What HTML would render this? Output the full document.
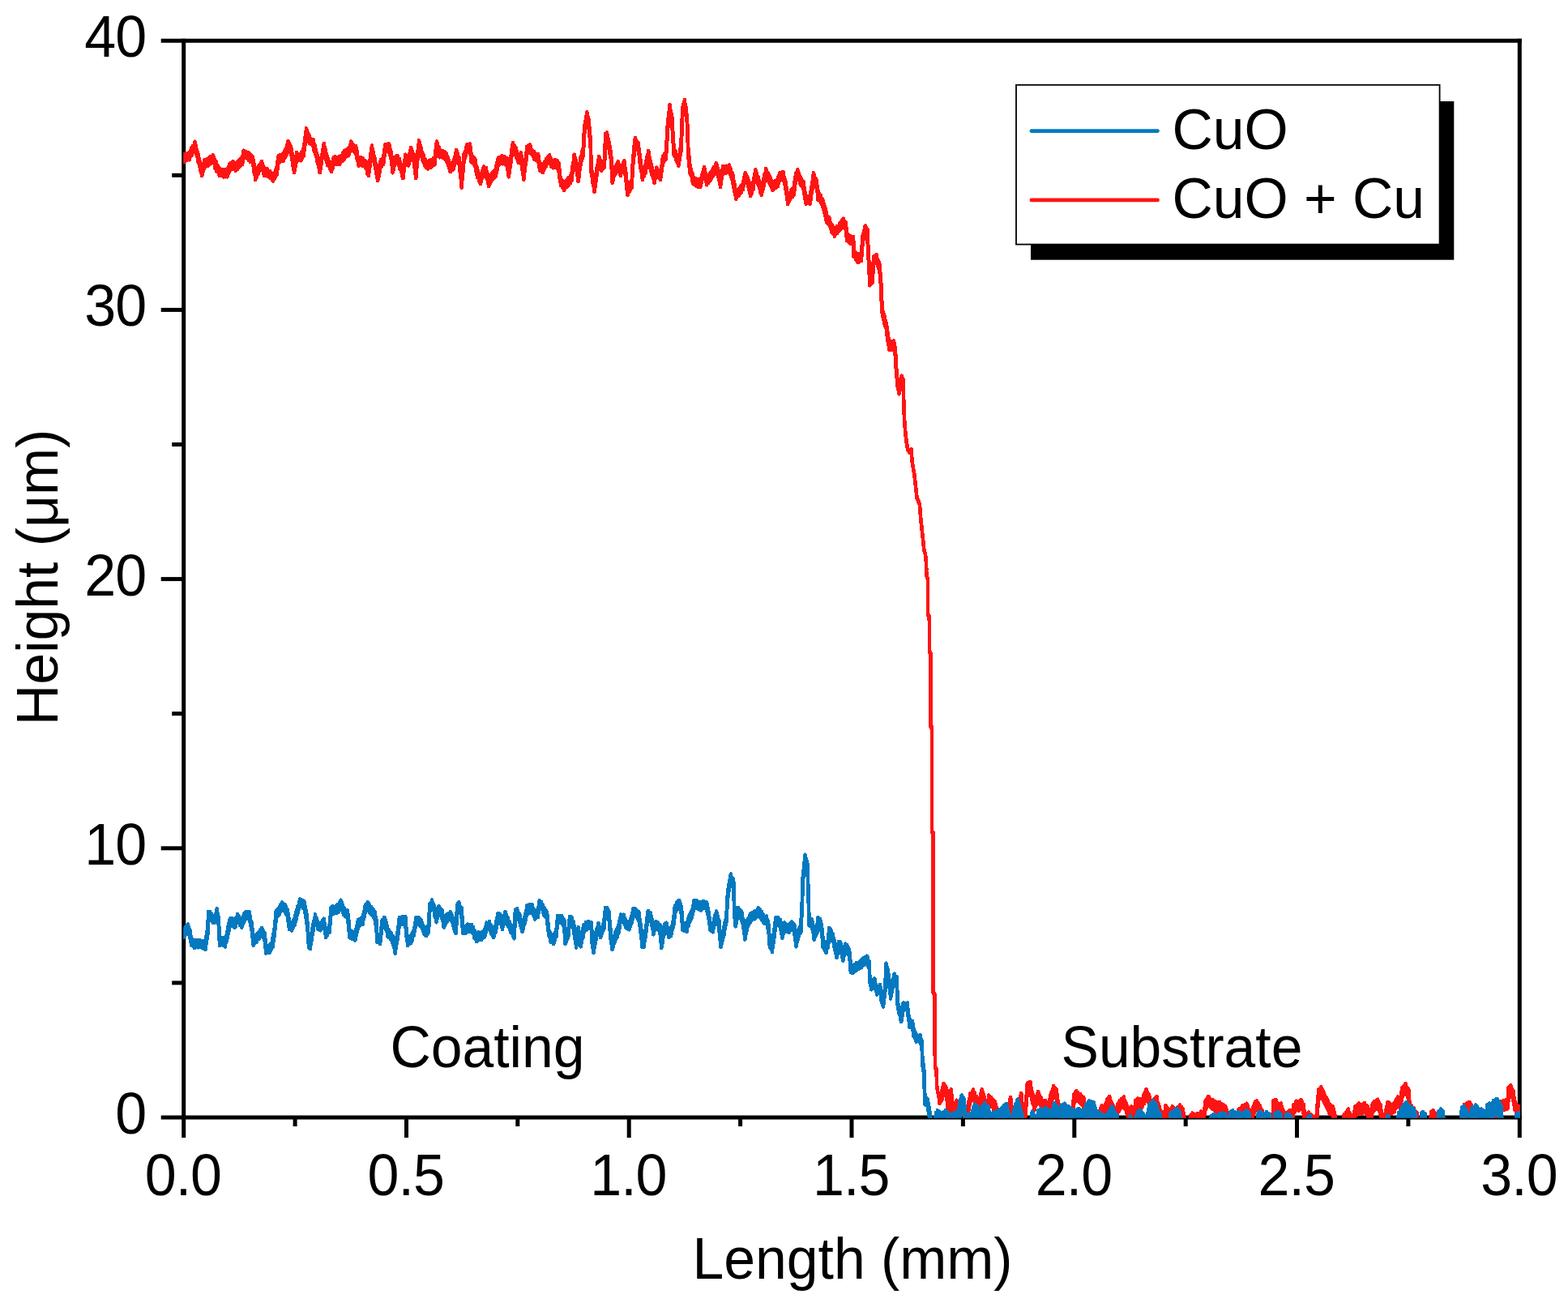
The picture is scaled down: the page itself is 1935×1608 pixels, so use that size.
<!DOCTYPE html>
<html lang="en"><head><meta charset="utf-8"><title>Height (μm) – Length (mm)</title>
<style>html,body{margin:0;padding:0;background:#fff;}body{width:1935px;height:1608px;overflow:hidden;}svg{display:block;}text{font-family:"Liberation Sans", sans-serif;font-size:70px;fill:#000;}</style>
</head><body>
<svg width="1935" height="1608" viewBox="0 0 1935 1608">
<rect x="0" y="0" width="1935" height="1608" fill="#fff"/>
<defs><clipPath id="plot"><rect x="226.2" y="50.2" width="1649.8" height="1329.5"/></clipPath></defs>
<g stroke="#000" stroke-width="5.0" fill="none" stroke-linecap="butt">
<path d="M198.7,1379.0 H1877.8"/>
<path d="M198.7,50.2 H1877.8"/>
<path d="M226.7,47.7 V1404.0"/>
<path d="M1875.3,47.7 V1404.0"/>
<path d="M212.2,1212.9 H226.7"/>
<path d="M198.7,1046.8 H226.7"/>
<path d="M212.2,880.7 H226.7"/>
<path d="M198.7,714.6 H226.7"/>
<path d="M212.2,548.5 H226.7"/>
<path d="M198.7,382.4 H226.7"/>
<path d="M212.2,216.3 H226.7"/>
<path d="M364.1,1379.0 V1390.0"/>
<path d="M501.5,1379.0 V1404.0"/>
<path d="M638.8,1379.0 V1390.0"/>
<path d="M776.2,1379.0 V1404.0"/>
<path d="M913.6,1379.0 V1390.0"/>
<path d="M1051.0,1379.0 V1404.0"/>
<path d="M1188.4,1379.0 V1390.0"/>
<path d="M1325.8,1379.0 V1404.0"/>
<path d="M1463.2,1379.0 V1390.0"/>
<path d="M1600.5,1379.0 V1404.0"/>
<path d="M1737.9,1379.0 V1390.0"/>
</g>
<g clip-path="url(#plot)" fill="none" stroke-linejoin="round" stroke-linecap="butt" shape-rendering="crispEdges">
<path d="M226.2,188.6 L226.2,198.0 L226.8,197.9 L226.9,189.9 L227.5,190.6 L227.5,199.7 L228.4,199.3 L228.4,190.1 L229.2,190.2 L229.3,196.6 L230.1,197.4 L230.1,190.3 L231.0,191.1 L231.0,197.4 L231.9,196.3 L231.9,188.8 L232.8,188.5 L232.8,195.6 L233.7,197.2 L233.7,188.1 L234.5,188.3 L234.6,194.0 L235.4,193.1 L235.4,186.4 L236.2,183.0 L236.3,192.0 L237.1,189.2 L237.1,182.0 L238.0,180.1 L238.0,188.2 L238.8,185.6 L238.8,179.9 L239.7,178.5 L239.7,184.0 L240.5,183.6 L240.5,174.5 L241.0,178.7 L241.0,183.5 L241.5,185.7 L241.5,178.5 L241.9,180.3 L241.9,187.5 L242.4,190.8 L242.4,183.9 L242.9,184.7 L242.9,192.5 L243.3,193.3 L243.3,186.4 L243.8,189.3 L243.8,197.2 L244.3,199.2 L244.3,189.8 L244.8,192.5 L244.8,201.5 L245.4,200.9 L245.4,194.3 L245.9,196.6 L245.9,204.3 L246.5,206.0 L246.5,198.9 L247.0,200.6 L247.0,207.7 L247.6,210.9 L247.6,204.2 L248.1,205.0 L248.1,213.1 L248.7,213.9 L248.7,206.0 L249.2,208.0 L249.2,217.1 L249.7,214.0 L249.8,206.7 L250.3,205.7 L250.3,211.3 L250.8,211.4 L250.8,203.7 L251.3,201.4 L251.3,209.0 L251.8,208.4 L251.8,200.7 L252.3,197.3 L252.4,206.7 L253.2,206.0 L253.2,197.4 L254.1,196.8 L254.1,205.2 L255.0,205.0 L255.0,196.7 L255.8,197.8 L255.8,204.9 L256.7,204.7 L256.7,195.6 L257.5,197.0 L257.5,203.3 L258.2,203.2 L258.3,195.3 L259.0,193.9 L259.0,202.4 L259.8,202.1 L259.8,193.0 L260.6,194.3 L260.6,201.2 L261.4,200.9 L261.4,193.9 L262.1,192.4 L262.2,200.2 L262.9,200.4 L262.9,191.3 L263.6,193.1 L263.7,200.0 L264.4,201.9 L264.4,195.6 L265.1,198.3 L265.1,204.2 L265.8,208.4 L265.8,199.0 L266.5,199.4 L266.6,208.0 L267.3,211.7 L267.3,202.3 L268.2,205.8 L268.2,211.0 L269.1,212.8 L269.1,205.1 L270.1,207.8 L270.1,214.8 L271.0,217.1 L271.0,208.0 L272.0,209.4 L272.0,216.9 L273.0,215.9 L273.0,209.3 L274.0,209.7 L274.0,216.1 L275.0,217.4 L275.0,211.2 L276.0,209.3 L276.0,218.4 L276.8,218.4 L276.9,211.2 L277.7,210.2 L277.7,217.7 L278.6,218.3 L278.6,209.2 L279.5,209.3 L279.5,216.0 L280.3,218.3 L280.3,209.2 L280.8,208.8 L280.9,216.7 L281.4,214.8 L281.4,208.0 L281.9,206.0 L281.9,214.5 L282.4,213.3 L282.4,204.9 L282.9,204.2 L282.9,210.5 L283.4,210.9 L283.5,201.8 L284.3,202.5 L284.3,209.7 L285.2,209.3 L285.2,202.2 L286.0,200.6 L286.1,209.1 L286.9,206.9 L286.9,200.4 L287.8,199.3 L287.8,208.4 L288.6,207.3 L288.6,201.9 L289.3,200.7 L289.4,207.9 L290.1,209.0 L290.1,202.9 L290.9,201.8 L290.9,210.9 L291.8,208.9 L291.8,200.7 L292.8,199.9 L292.8,209.0 L293.7,208.1 L293.7,199.2 L294.6,198.0 L294.6,207.1 L295.5,205.0 L295.5,199.0 L296.4,196.1 L296.4,203.7 L297.2,204.5 L297.3,196.8 L298.1,194.5 L298.1,203.3 L299.0,203.0 L299.0,193.6 L299.4,192.3 L299.4,201.1 L299.7,199.1 L299.7,192.0 L300.1,189.3 L300.1,197.4 L300.5,195.8 L300.5,189.5 L300.8,185.7 L300.9,194.8 L301.7,193.6 L301.8,187.5 L302.6,187.3 L302.6,194.4 L303.5,194.6 L303.5,187.0 L304.4,188.0 L304.4,195.1 L305.3,196.0 L305.3,188.0 L306.2,189.5 L306.2,195.3 L307.1,198.0 L307.1,188.6 L308.1,190.2 L308.1,197.1 L309.1,200.0 L309.1,190.8 L310.0,191.7 L310.1,200.4 L311.0,199.6 L311.1,192.7 L312.0,193.6 L312.1,203.0 L312.4,203.2 L312.4,196.5 L312.7,198.7 L312.8,205.7 L313.1,207.1 L313.1,201.5 L313.4,202.4 L313.4,210.0 L313.8,213.3 L313.8,206.2 L314.1,206.7 L314.1,214.3 L314.5,215.9 L314.5,208.9 L314.8,212.3 L314.8,219.9 L315.1,222.0 L315.2,212.9 L315.9,211.7 L315.9,220.0 L316.6,218.4 L316.7,209.7 L317.4,208.3 L317.4,216.2 L318.1,215.6 L318.2,207.4 L318.9,204.8 L318.9,214.2 L319.7,211.0 L319.7,203.8 L320.5,204.8 L320.5,211.3 L321.3,209.4 L321.4,201.9 L322.2,200.8 L322.2,208.0 L323.0,208.4 L323.0,199.3 L323.5,201.7 L323.6,209.8 L324.1,210.0 L324.1,203.7 L324.7,204.9 L324.7,211.6 L325.2,214.1 L325.2,206.4 L325.8,207.0 L325.8,214.2 L326.3,217.1 L326.4,208.0 L327.1,209.2 L327.1,216.3 L327.9,215.7 L327.9,208.1 L328.7,209.6 L328.7,216.6 L329.5,217.2 L329.5,208.1 L330.4,210.8 L330.4,217.9 L331.3,218.2 L331.3,211.2 L332.3,211.3 L332.3,217.8 L333.2,219.9 L333.2,211.2 L334.1,213.5 L334.1,219.5 L335.0,220.2 L335.1,213.3 L336.0,214.5 L336.0,222.4 L336.9,223.3 L336.9,214.2 L337.8,213.7 L337.8,220.9 L338.7,220.6 L338.7,213.1 L339.5,212.2 L339.5,218.7 L340.4,215.7 L340.4,209.8 L341.3,207.2 L341.3,216.6 L341.7,213.3 L341.7,206.7 L342.1,202.3 L342.1,210.0 L342.5,208.4 L342.5,200.7 L342.9,197.3 L342.9,205.8 L343.3,201.9 L343.4,195.8 L343.8,192.3 L343.8,201.7 L344.7,200.1 L344.7,193.0 L345.6,191.5 L345.6,199.9 L346.6,199.1 L346.6,193.0 L347.5,191.8 L347.5,197.9 L348.4,197.9 L348.4,190.7 L349.4,189.8 L349.4,199.2 L350.3,195.8 L350.3,188.7 L351.2,186.1 L351.2,195.4 L352.2,192.2 L352.2,185.1 L353.1,182.4 L353.1,191.8 L353.6,189.6 L353.6,181.9 L354.1,179.6 L354.1,188.1 L354.6,185.9 L354.6,177.8 L355.1,175.8 L355.1,184.7 L355.6,182.9 L355.6,173.8 L356.3,175.7 L356.3,184.0 L357.1,186.0 L357.1,177.4 L357.8,179.1 L357.8,187.4 L358.6,188.6 L358.6,180.6 L359.3,182.4 L359.3,191.8 L359.7,191.6 L359.7,184.6 L360.0,187.5 L360.1,195.9 L360.4,198.2 L360.4,189.0 L360.8,192.8 L360.8,199.6 L361.2,202.2 L361.2,193.6 L361.5,196.0 L361.6,204.6 L361.9,206.9 L361.9,198.6 L362.3,199.9 L362.3,209.0 L362.7,208.9 L362.7,202.3 L363.0,204.2 L363.1,213.3 L363.4,209.4 L363.4,204.1 L363.7,202.9 L363.7,209.7 L364.1,207.4 L364.1,199.0 L364.4,199.2 L364.4,206.0 L364.8,203.4 L364.8,197.1 L365.1,194.2 L365.1,202.4 L365.5,200.7 L365.5,192.1 L365.8,191.4 L365.8,198.5 L366.1,197.3 L366.2,188.2 L367.1,189.8 L367.2,197.5 L368.1,197.6 L368.2,190.0 L369.1,190.1 L369.1,196.0 L370.1,196.7 L370.1,191.1 L371.1,189.3 L371.1,198.4 L372.1,196.1 L372.1,187.6 L373.0,186.9 L373.0,195.0 L373.9,193.4 L373.9,184.4 L374.9,182.4 L374.9,191.8 L375.1,189.5 L375.2,181.3 L375.4,178.2 L375.4,186.3 L375.7,183.4 L375.7,176.9 L376.0,173.8 L376.0,182.9 L376.3,178.4 L376.3,171.4 L376.5,169.3 L376.6,177.7 L376.8,175.0 L376.8,168.2 L377.1,165.4 L377.1,172.9 L377.4,170.7 L377.4,164.5 L377.7,161.4 L377.7,169.4 L378.0,167.4 L378.0,158.3 L378.7,160.9 L378.7,169.2 L379.5,169.9 L379.5,162.6 L380.2,164.3 L380.2,170.7 L380.9,174.7 L381.0,165.7 L381.7,167.4 L381.7,176.8 L382.7,175.9 L382.7,169.9 L383.7,171.6 L383.7,177.9 L384.7,177.6 L384.7,172.5 L385.7,172.0 L385.7,178.4 L386.7,181.8 L386.7,172.4 L387.3,176.9 L387.3,183.9 L387.9,186.7 L387.9,177.4 L388.5,179.7 L388.6,188.1 L389.2,190.7 L389.2,183.2 L389.8,184.6 L389.8,193.3 L390.4,193.4 L390.4,187.7 L391.0,188.6 L391.0,198.0 L391.5,199.7 L391.5,191.1 L392.0,193.4 L392.0,200.9 L392.4,203.0 L392.4,194.8 L392.9,196.8 L392.9,205.6 L393.4,207.0 L393.4,199.3 L393.8,201.9 L393.8,208.7 L394.3,212.1 L394.3,204.6 L394.8,204.2 L394.8,213.3 L395.1,211.4 L395.1,202.8 L395.5,200.8 L395.5,209.1 L395.8,207.5 L395.8,198.7 L396.2,197.8 L396.2,203.5 L396.5,202.0 L396.5,194.6 L396.9,194.4 L396.9,200.7 L397.2,198.5 L397.3,190.6 L397.6,189.4 L397.6,196.4 L397.9,195.2 L398.0,187.8 L398.3,184.9 L398.3,192.5 L398.7,191.4 L398.7,183.4 L399.0,181.6 L399.0,187.7 L399.4,187.4 L399.4,179.8 L399.7,177.0 L399.7,186.1 L400.2,186.9 L400.2,180.2 L400.7,181.7 L400.7,189.7 L401.2,190.8 L401.2,183.0 L401.7,186.9 L401.7,191.9 L402.1,196.0 L402.2,189.0 L402.6,189.3 L402.6,197.8 L403.1,199.6 L403.1,191.3 L403.6,192.8 L403.6,199.9 L404.1,204.2 L404.1,194.8 L405.1,196.5 L405.1,204.9 L406.1,205.6 L406.1,198.8 L407.1,199.8 L407.1,208.6 L408.1,210.5 L408.1,202.3 L409.1,203.0 L409.1,212.1 L409.7,208.2 L409.7,201.2 L410.3,200.6 L410.3,208.4 L410.9,206.4 L410.9,197.5 L411.5,195.5 L411.6,202.5 L412.2,203.0 L412.2,193.6 L413.1,193.6 L413.2,202.4 L414.1,202.8 L414.1,193.7 L415.1,195.7 L415.1,202.9 L416.1,200.6 L416.1,195.9 L417.1,195.8 L417.1,202.1 L418.0,202.5 L418.0,193.6 L419.0,193.6 L419.0,203.0 L419.9,201.1 L419.9,193.5 L420.8,192.4 L420.8,199.0 L421.7,197.9 L421.7,192.5 L422.6,191.1 L422.6,198.5 L423.4,195.3 L423.5,188.3 L424.3,187.3 L424.4,196.6 L425.2,195.5 L425.2,186.1 L426.2,187.7 L426.2,193.4 L427.2,193.1 L427.2,184.7 L428.2,185.0 L428.2,192.8 L429.2,192.0 L429.2,183.5 L430.2,182.4 L430.2,191.8 L430.8,188.2 L430.8,183.0 L431.4,181.5 L431.5,188.2 L432.1,186.4 L432.1,179.1 L432.7,178.3 L432.7,184.5 L433.3,183.6 L433.3,174.5 L434.2,177.3 L434.3,182.2 L435.2,185.4 L435.2,177.4 L436.1,178.8 L436.1,186.4 L437.0,186.8 L437.1,180.4 L438.0,181.0 L438.0,187.6 L438.9,189.3 L438.9,179.9 L439.4,182.4 L439.4,190.8 L439.8,191.9 L439.9,184.3 L440.3,185.9 L440.3,194.8 L440.8,196.9 L440.8,187.8 L441.2,189.7 L441.3,197.9 L441.7,199.0 L441.7,193.1 L442.2,194.3 L442.2,201.4 L442.6,204.6 L442.7,195.5 L443.6,196.1 L443.7,203.9 L444.6,202.9 L444.6,195.8 L445.6,194.3 L445.6,204.2 L446.6,204.1 L446.6,195.9 L447.6,195.6 L447.6,204.7 L448.5,204.2 L448.6,197.5 L449.5,199.4 L449.5,204.9 L450.4,204.8 L450.4,199.4 L451.3,198.5 L451.4,207.9 L452.1,207.7 L452.1,201.1 L452.8,203.0 L452.9,210.5 L453.6,214.8 L453.6,204.8 L454.3,207.0 L454.3,214.2 L455.1,217.1 L455.1,208.0 L455.3,206.7 L455.4,213.1 L455.6,211.7 L455.6,206.2 L455.9,202.3 L455.9,208.9 L456.1,208.4 L456.2,201.0 L456.4,199.7 L456.4,206.1 L456.7,204.6 L456.7,196.2 L456.9,195.5 L457.0,200.6 L457.2,201.3 L457.2,192.3 L457.5,190.2 L457.5,197.5 L457.7,196.5 L457.8,188.2 L458.0,186.9 L458.0,194.2 L458.3,191.6 L458.3,184.2 L458.5,181.7 L458.6,189.3 L458.8,188.5 L458.8,179.4 L459.3,182.9 L459.3,189.9 L459.7,191.8 L459.7,183.2 L460.2,186.0 L460.2,193.4 L460.6,196.1 L460.6,188.5 L461.1,189.5 L461.1,195.9 L461.5,199.8 L461.5,192.4 L462.0,193.0 L462.0,201.3 L462.4,204.2 L462.5,194.8 L462.9,197.9 L462.9,204.4 L463.3,206.6 L463.3,200.2 L463.7,202.9 L463.7,209.6 L464.1,211.7 L464.1,205.4 L464.5,206.0 L464.5,214.4 L464.9,216.1 L464.9,208.2 L465.3,211.3 L465.4,218.0 L465.8,220.7 L465.8,213.0 L466.2,214.2 L466.2,223.3 L466.6,221.0 L466.7,212.7 L467.1,210.0 L467.1,219.1 L467.6,216.9 L467.6,208.7 L468.0,207.9 L468.1,213.0 L468.5,212.6 L468.5,203.7 L469.0,201.6 L469.0,208.6 L469.4,206.5 L469.5,199.7 L469.9,197.3 L469.9,206.7 L470.7,205.5 L470.7,197.2 L471.5,197.1 L471.5,203.3 L472.2,202.3 L472.3,195.9 L473.0,193.6 L473.0,203.0 L473.3,200.6 L473.3,193.9 L473.6,191.0 L473.7,198.7 L473.9,195.5 L474.0,189.7 L474.3,186.6 L474.3,193.4 L474.6,192.6 L474.6,184.8 L474.9,182.3 L474.9,189.6 L475.2,188.7 L475.2,182.0 L475.5,178.2 L475.5,187.3 L476.4,185.1 L476.4,179.6 L477.2,180.2 L477.3,185.6 L478.1,186.0 L478.1,177.9 L479.0,177.7 L479.0,186.8 L479.9,186.8 L479.9,177.4 L480.5,180.0 L480.6,189.3 L481.2,191.0 L481.2,183.0 L481.9,184.7 L481.9,192.8 L482.6,196.7 L482.6,187.3 L482.8,189.6 L482.9,198.8 L483.1,200.8 L483.1,193.9 L483.3,195.4 L483.4,202.3 L483.6,204.3 L483.6,196.0 L483.8,198.2 L483.9,206.5 L484.1,208.2 L484.1,201.1 L484.3,202.1 L484.3,211.3 L484.6,213.3 L484.6,204.2 L485.0,203.5 L485.1,211.3 L485.5,208.4 L485.5,202.0 L485.9,199.3 L486.0,208.1 L486.4,204.3 L486.4,197.2 L486.9,196.0 L486.9,204.6 L487.3,203.0 L487.3,193.6 L488.1,193.5 L488.2,199.9 L489.0,201.3 L489.0,193.2 L489.8,191.9 L489.8,201.0 L490.6,201.3 L490.6,191.8 L491.4,196.0 L491.4,203.2 L492.1,203.9 L492.2,195.8 L492.9,196.0 L492.9,205.4 L493.5,208.8 L493.5,199.1 L494.0,200.0 L494.0,209.1 L494.5,210.1 L494.6,203.3 L495.1,204.9 L495.1,212.0 L495.6,212.5 L495.7,206.8 L496.2,208.3 L496.2,215.9 L496.7,217.9 L496.7,209.2 L497.3,211.1 L497.3,220.2 L497.5,218.0 L497.6,210.0 L497.8,208.9 L497.8,214.2 L498.1,214.6 L498.1,206.0 L498.4,204.8 L498.4,212.5 L498.7,210.0 L498.7,202.0 L499.0,201.0 L499.0,209.7 L499.2,206.6 L499.3,199.6 L499.5,196.5 L499.5,205.1 L499.8,202.0 L499.8,195.6 L500.1,193.3 L500.1,201.0 L500.4,199.7 L500.4,190.6 L501.1,191.8 L501.1,200.1 L501.9,201.5 L501.9,194.7 L502.6,195.0 L502.6,200.3 L503.4,203.6 L503.4,196.6 L504.1,195.5 L504.1,204.6 L504.5,201.0 L504.5,194.2 L504.9,192.3 L504.9,201.0 L505.3,198.8 L505.3,190.9 L505.7,188.7 L505.7,195.6 L506.0,195.8 L506.1,189.3 L506.4,185.6 L506.5,194.2 L506.8,192.3 L506.8,185.7 L507.2,181.9 L507.2,191.0 L508.0,191.9 L508.0,184.7 L508.7,186.0 L508.7,193.0 L509.5,196.7 L509.5,189.2 L510.2,189.4 L510.2,196.3 L510.9,200.5 L511.0,191.1 L511.2,194.1 L511.2,203.8 L511.4,204.0 L511.4,195.4 L511.6,199.2 L511.6,206.0 L511.8,207.8 L511.9,201.1 L512.1,202.2 L512.1,210.0 L512.3,210.3 L512.3,203.1 L512.5,205.5 L512.5,214.2 L512.7,215.8 L512.8,207.7 L513.0,210.7 L513.0,217.5 L513.2,220.2 L513.2,211.1 L513.4,209.1 L513.4,217.9 L513.6,215.1 L513.6,207.4 L513.8,204.4 L513.8,213.3 L514.0,211.0 L514.0,203.5 L514.2,200.8 L514.2,207.3 L514.4,206.7 L514.4,198.6 L514.6,198.2 L514.7,203.6 L514.8,202.8 L514.9,194.3 L515.0,192.9 L515.1,199.7 L515.3,197.2 L515.3,191.4 L515.5,190.0 L515.5,197.0 L515.7,193.7 L515.7,185.9 L515.9,183.8 L515.9,192.0 L516.1,189.2 L516.1,183.1 L516.3,180.9 L516.3,188.6 L516.5,186.3 L516.5,179.7 L516.7,177.2 L516.7,183.7 L516.9,182.3 L516.9,173.2 L517.5,175.4 L517.5,182.9 L518.1,186.2 L518.1,177.6 L518.6,180.0 L518.6,187.9 L519.2,190.1 L519.2,181.7 L519.8,183.7 L519.8,192.6 L520.3,194.1 L520.3,186.4 L520.9,187.3 L520.9,196.7 L521.8,198.8 L521.8,189.8 L522.8,192.2 L522.8,198.9 L523.7,202.1 L523.7,195.2 L524.6,196.0 L524.6,205.4 L525.4,205.3 L525.4,197.8 L526.2,199.3 L526.2,207.3 L527.0,206.2 L527.0,199.2 L527.7,199.3 L527.8,208.4 L528.6,207.2 L528.6,198.9 L529.5,198.5 L529.5,205.2 L530.3,205.6 L530.4,198.2 L531.2,197.3 L531.2,207.0 L532.1,206.0 L532.1,196.9 L533.0,196.8 L533.0,205.1 L533.8,203.0 L533.9,196.7 L534.7,195.4 L534.7,203.4 L535.6,203.9 L535.6,195.0 L536.4,194.3 L536.5,203.4 L536.7,200.5 L536.7,194.4 L536.9,191.9 L536.9,199.7 L537.1,197.9 L537.1,191.3 L537.3,189.0 L537.4,194.4 L537.6,193.0 L537.6,184.5 L537.8,185.6 L537.8,191.2 L538.0,190.4 L538.0,182.0 L538.3,181.6 L538.3,188.9 L538.5,185.6 L538.5,180.0 L538.7,176.3 L538.7,185.0 L538.9,183.6 L539.0,174.5 L539.6,177.5 L539.6,183.4 L540.2,186.6 L540.2,179.3 L540.8,181.4 L540.8,188.4 L541.4,188.7 L541.4,180.6 L542.0,183.3 L542.1,191.4 L542.7,194.3 L542.7,184.9 L543.6,187.2 L543.6,193.5 L544.5,193.0 L544.5,185.7 L545.5,187.4 L545.5,194.5 L546.4,193.8 L546.4,186.4 L547.3,187.0 L547.3,195.2 L548.3,195.9 L548.3,186.8 L549.1,188.2 L549.1,195.8 L549.9,197.3 L549.9,189.4 L550.7,189.4 L550.8,198.5 L551.4,199.6 L551.4,192.3 L552.0,193.9 L552.0,200.1 L552.6,202.2 L552.6,194.4 L553.2,194.8 L553.3,204.2 L553.7,204.2 L553.8,197.7 L554.2,199.1 L554.2,205.2 L554.7,208.9 L554.7,201.6 L555.2,202.4 L555.2,210.1 L555.7,212.1 L555.7,203.0 L556.7,203.1 L556.7,211.1 L557.6,209.1 L557.6,202.2 L558.5,200.7 L558.5,208.0 L559.5,209.2 L559.5,199.8 L559.9,197.1 L559.9,205.5 L560.4,204.8 L560.4,196.1 L560.9,194.7 L560.9,201.8 L561.3,202.0 L561.3,193.0 L561.8,192.2 L561.8,199.7 L562.3,197.4 L562.3,189.8 L562.7,187.9 L562.7,194.8 L563.2,194.1 L563.2,185.0 L563.8,188.7 L563.8,193.5 L564.4,197.3 L564.4,190.0 L565.0,190.1 L565.1,196.9 L565.7,200.6 L565.7,193.3 L566.3,193.4 L566.3,202.5 L566.9,204.2 L566.9,194.8 L567.1,197.4 L567.1,204.5 L567.3,208.0 L567.4,199.2 L567.5,201.4 L567.6,210.3 L567.8,212.7 L567.8,205.5 L568.0,207.1 L568.0,214.4 L568.2,216.9 L568.2,207.8 L568.4,211.8 L568.4,217.3 L568.6,220.5 L568.6,213.5 L568.8,214.6 L568.8,222.7 L569.0,224.1 L569.0,217.5 L569.2,220.6 L569.3,225.5 L569.4,227.8 L569.5,222.5 L569.7,222.9 L569.7,232.0 L569.8,229.7 L569.9,221.8 L570.0,220.0 L570.1,229.1 L570.2,223.7 L570.2,216.6 L570.4,214.9 L570.4,221.9 L570.6,220.6 L570.6,212.0 L570.8,210.1 L570.8,219.3 L571.0,214.3 L571.0,208.9 L571.2,207.0 L571.2,213.1 L571.4,211.4 L571.4,203.2 L571.6,201.3 L571.6,209.1 L571.7,207.7 L571.8,198.8 L571.9,197.8 L572.0,203.5 L572.1,201.4 L572.2,195.4 L572.3,193.4 L572.3,201.2 L572.5,199.2 L572.5,189.8 L573.1,188.6 L573.2,196.0 L573.8,195.1 L573.8,187.7 L574.4,186.2 L574.4,193.3 L575.0,189.9 L575.0,182.6 L575.6,180.8 L575.6,188.3 L576.2,187.3 L576.3,178.2 L577.2,179.7 L577.2,186.8 L578.1,185.1 L578.1,177.8 L579.0,177.9 L579.1,186.2 L580.0,186.8 L580.0,177.4 L580.3,181.5 L580.3,187.6 L580.6,190.8 L580.6,182.0 L580.9,184.6 L580.9,192.1 L581.2,195.9 L581.2,188.2 L581.5,188.8 L581.5,197.4 L581.8,200.5 L581.9,191.1 L582.7,192.6 L582.7,199.3 L583.6,200.2 L583.6,193.1 L584.5,194.2 L584.5,202.1 L585.3,203.9 L585.3,196.4 L586.2,196.0 L586.2,205.4 L586.7,206.5 L586.7,200.0 L587.2,201.8 L587.3,208.8 L587.7,212.1 L587.8,204.5 L588.3,205.2 L588.3,214.3 L588.8,217.1 L588.8,208.2 L589.3,209.7 L589.3,219.1 L590.0,218.6 L590.1,211.8 L590.8,213.6 L590.8,222.1 L591.5,223.8 L591.6,214.7 L592.3,216.7 L592.3,224.7 L593.0,227.0 L593.1,217.9 L593.5,218.6 L593.5,225.0 L594.0,223.8 L594.0,215.1 L594.4,215.3 L594.5,220.6 L594.9,218.9 L594.9,211.8 L595.4,210.4 L595.4,219.0 L595.8,216.6 L595.9,209.6 L596.3,207.7 L596.3,216.0 L596.8,214.7 L596.8,205.6 L597.5,207.0 L597.6,214.9 L598.3,214.5 L598.3,206.6 L599.1,206.9 L599.1,213.8 L599.9,216.6 L599.9,207.2 L600.3,211.6 L600.3,218.2 L600.8,220.5 L600.8,211.8 L601.2,213.2 L601.2,221.7 L601.7,222.7 L601.7,215.5 L602.1,219.0 L602.1,224.4 L602.5,227.1 L602.6,220.4 L603.0,221.0 L603.0,230.1 L603.7,228.6 L603.7,220.1 L604.4,218.4 L604.5,225.1 L605.2,226.0 L605.2,217.5 L605.9,216.0 L605.9,222.7 L606.6,222.8 L606.6,214.5 L607.3,213.0 L607.4,222.1 L608.2,220.6 L608.2,212.9 L609.1,211.4 L609.1,219.7 L610.0,217.2 L610.0,210.6 L610.8,211.4 L610.8,218.7 L611.7,217.1 L611.7,208.0 L612.1,208.0 L612.2,214.9 L612.6,213.4 L612.6,204.3 L613.0,203.2 L613.0,211.4 L613.5,209.4 L613.5,201.2 L613.9,198.6 L613.9,207.6 L614.4,204.8 L614.4,197.0 L614.8,194.8 L614.8,204.2 L615.7,203.5 L615.7,194.6 L616.5,195.8 L616.6,202.6 L617.4,201.1 L617.4,195.6 L618.3,193.7 L618.3,201.9 L619.2,201.7 L619.2,192.3 L620.1,192.8 L620.1,200.3 L621.0,202.2 L621.0,193.5 L622.0,193.7 L622.0,201.6 L622.9,202.2 L622.9,193.1 L623.7,194.2 L623.7,202.9 L624.5,203.5 L624.6,194.8 L625.4,194.8 L625.4,204.2 L625.7,205.3 L625.7,198.5 L626.1,199.6 L626.1,208.9 L626.4,208.1 L626.5,203.1 L626.8,203.3 L626.8,212.0 L627.1,213.5 L627.2,205.1 L627.5,209.0 L627.5,215.7 L627.9,218.3 L627.9,209.2 L628.2,207.0 L628.2,215.0 L628.5,213.8 L628.5,205.2 L628.8,203.1 L628.8,211.7 L629.1,209.5 L629.1,201.3 L629.4,199.9 L629.4,207.8 L629.7,203.6 L629.7,199.0 L630.0,195.0 L630.1,203.6 L630.3,200.3 L630.4,194.1 L630.7,191.7 L630.7,198.2 L631.0,197.1 L631.0,188.7 L631.3,186.7 L631.3,193.4 L631.6,191.8 L631.6,185.0 L631.9,182.1 L631.9,189.0 L632.2,187.9 L632.2,180.1 L632.5,177.9 L632.5,184.9 L632.8,184.8 L632.9,175.7 L633.8,178.9 L633.8,185.4 L634.7,188.3 L634.7,179.8 L635.6,180.8 L635.7,190.0 L636.6,191.8 L636.6,182.4 L637.2,185.2 L637.2,192.5 L637.8,195.4 L637.8,187.8 L638.4,189.2 L638.5,196.8 L639.1,198.6 L639.1,191.0 L639.7,191.8 L639.7,200.9 L640.5,198.4 L640.5,191.1 L641.2,190.2 L641.3,196.9 L642.0,196.0 L642.0,190.7 L642.8,188.2 L642.8,197.3 L643.1,197.5 L643.1,190.4 L643.3,192.1 L643.3,199.8 L643.6,202.9 L643.6,193.9 L643.9,197.3 L643.9,202.8 L644.1,204.6 L644.1,198.3 L644.4,201.4 L644.4,207.3 L644.7,211.0 L644.7,202.2 L644.9,204.5 L644.9,212.2 L645.2,213.5 L645.2,205.8 L645.5,205.8 L645.5,216.0 L645.7,216.5 L645.8,209.0 L646.0,212.2 L646.0,219.5 L646.3,222.0 L646.3,212.9 L646.5,211.3 L646.5,219.7 L646.8,217.5 L646.8,209.1 L647.0,208.0 L647.0,214.1 L647.3,212.0 L647.3,205.3 L647.5,202.9 L647.5,211.9 L647.8,209.1 L647.8,202.3 L648.0,199.9 L648.0,205.5 L648.3,204.7 L648.3,198.7 L648.5,196.3 L648.5,201.8 L648.8,200.1 L648.8,194.3 L649.0,190.2 L649.0,199.7 L649.3,197.8 L649.3,188.8 L649.5,188.2 L649.5,195.6 L649.8,191.9 L649.8,185.2 L650.0,184.0 L650.0,191.2 L650.2,189.8 L650.3,180.7 L651.2,181.7 L651.2,188.4 L652.1,188.9 L652.1,180.0 L653.0,179.2 L653.1,186.1 L654.0,188.0 L654.0,178.6 L655.0,182.0 L655.0,189.4 L656.0,189.8 L656.0,184.4 L657.0,185.5 L657.0,191.5 L658.0,193.1 L658.0,187.4 L659.0,187.3 L659.0,196.7 L660.0,196.6 L660.0,189.1 L660.9,189.7 L661.0,197.6 L661.9,196.2 L662.0,190.9 L662.9,191.4 L663.0,198.7 L663.9,199.2 L664.0,189.8 L664.3,192.3 L664.4,199.7 L664.8,201.7 L664.8,193.8 L665.2,197.7 L665.2,203.3 L665.6,206.9 L665.6,198.7 L666.0,200.2 L666.0,208.1 L666.4,210.9 L666.4,201.8 L667.4,203.9 L667.4,210.9 L668.3,212.0 L668.3,202.8 L669.2,202.4 L669.2,211.8 L670.1,212.9 L670.2,203.5 L671.1,203.8 L671.1,210.5 L672.0,207.3 L672.0,200.2 L672.9,199.1 L673.0,205.7 L673.9,205.4 L673.9,196.0 L674.8,197.3 L674.8,202.5 L675.6,201.8 L675.6,194.5 L676.5,193.5 L676.5,201.0 L677.4,200.2 L677.4,193.1 L678.2,191.3 L678.3,200.4 L678.7,199.2 L678.8,193.6 L679.2,194.3 L679.2,201.5 L679.7,202.8 L679.7,194.8 L680.2,196.4 L680.2,204.0 L680.7,205.9 L680.7,196.8 L681.7,199.1 L681.7,203.6 L682.7,207.4 L682.7,199.0 L683.6,197.7 L683.7,205.2 L684.6,204.6 L684.6,199.2 L685.6,196.9 L685.6,206.0 L686.5,206.9 L686.5,198.3 L687.5,198.0 L687.5,208.2 L688.4,208.8 L688.4,201.7 L689.3,201.0 L689.3,210.4 L689.6,212.4 L689.7,205.0 L690.0,206.9 L690.0,214.6 L690.3,216.2 L690.3,208.2 L690.6,211.5 L690.6,219.7 L690.9,220.5 L690.9,213.3 L691.2,216.6 L691.2,222.8 L691.5,225.2 L691.5,218.4 L691.8,219.7 L691.8,229.1 L692.7,228.8 L692.7,222.2 L693.6,222.6 L693.6,230.5 L694.4,231.4 L694.4,223.7 L695.3,225.5 L695.3,232.5 L696.2,235.1 L696.2,226.0 L697.2,225.0 L697.2,231.8 L698.2,230.8 L698.2,223.5 L699.2,222.6 L699.2,231.2 L700.1,229.8 L700.2,221.9 L701.1,219.7 L701.2,229.1 L702.0,227.3 L702.0,220.6 L702.9,218.7 L702.9,226.0 L703.8,226.1 L703.8,217.2 L704.6,216.7 L704.6,221.8 L705.5,222.9 L705.5,213.5 L705.8,213.0 L705.8,220.6 L706.1,218.6 L706.1,209.6 L706.3,208.3 L706.4,214.8 L706.6,212.4 L706.6,207.0 L706.9,203.3 L706.9,211.7 L707.2,209.0 L707.2,202.3 L707.5,199.8 L707.5,206.7 L707.8,204.5 L707.8,198.9 L708.0,196.1 L708.1,203.5 L708.3,200.3 L708.3,194.2 L708.6,190.6 L708.6,199.7 L709.1,200.3 L709.1,192.3 L709.6,195.7 L709.6,203.0 L710.1,202.3 L710.1,197.6 L710.6,197.1 L710.6,204.2 L711.1,207.9 L711.1,198.5 L711.4,202.3 L711.4,209.4 L711.7,211.3 L711.7,203.1 L712.0,205.6 L712.0,212.9 L712.3,214.9 L712.4,207.3 L712.6,208.1 L712.7,217.7 L713.0,218.7 L713.0,211.9 L713.3,213.2 L713.3,221.7 L713.6,223.9 L713.6,214.8 L713.9,213.8 L713.9,221.8 L714.2,219.6 L714.2,210.9 L714.5,210.5 L714.5,216.5 L714.8,215.2 L714.8,205.6 L715.1,204.2 L715.2,211.3 L715.4,209.8 L715.5,204.2 L715.8,201.2 L715.8,207.9 L716.1,207.1 L716.1,198.7 L716.4,195.8 L716.4,204.0 L716.7,203.0 L716.7,193.6 L717.3,192.0 L717.3,199.0 L717.9,196.1 L718.0,189.4 L718.6,186.1 L718.6,195.7 L719.2,193.6 L719.2,184.9 L719.8,182.4 L719.8,191.8 L719.9,189.2 L719.9,180.7 L720.0,178.9 L720.1,184.6 L720.2,182.1 L720.2,175.2 L720.3,174.1 L720.3,181.7 L720.4,178.6 L720.4,171.7 L720.5,168.8 L720.6,176.3 L720.7,172.8 L720.7,165.0 L720.8,164.5 L720.8,171.2 L720.9,168.4 L720.9,161.7 L721.0,157.5 L721.1,166.9 L721.4,162.6 L721.4,156.0 L721.7,153.4 L721.8,162.3 L722.1,159.9 L722.1,152.8 L722.4,149.7 L722.4,156.3 L722.8,155.5 L722.8,147.6 L723.1,147.0 L723.1,154.3 L723.5,151.2 L723.5,143.8 L723.8,142.0 L723.8,149.3 L724.2,147.5 L724.2,138.4 L724.7,140.5 L724.7,149.4 L725.1,151.3 L725.2,142.6 L725.6,145.5 L725.7,152.9 L726.1,155.0 L726.2,145.9 L726.6,147.5 L726.7,156.9 L726.8,159.6 L726.9,151.7 L727.1,152.8 L727.1,161.6 L727.3,164.9 L727.3,156.3 L727.5,158.9 L727.5,166.8 L727.7,169.3 L727.7,161.4 L727.9,163.9 L727.9,171.4 L728.1,172.0 L728.1,166.2 L728.3,167.6 L728.3,176.6 L728.5,179.3 L728.5,169.9 L728.6,173.4 L728.6,181.0 L728.7,182.8 L728.7,175.6 L728.8,179.3 L728.8,184.8 L728.9,187.4 L728.9,180.5 L729.0,182.6 L729.0,190.0 L729.0,194.2 L729.1,185.9 L729.1,187.4 L729.1,196.1 L729.2,197.5 L729.2,191.4 L729.3,192.3 L729.3,200.1 L729.4,203.9 L729.4,196.1 L729.5,197.5 L729.5,206.7 L729.6,207.5 L729.6,200.1 L729.7,202.3 L729.7,210.1 L729.8,214.2 L729.8,204.8 L730.1,208.4 L730.1,214.2 L730.4,217.4 L730.4,211.0 L730.8,211.1 L730.8,218.4 L731.1,222.2 L731.1,214.4 L731.4,216.7 L731.5,223.6 L731.8,226.6 L731.8,218.2 L732.1,221.8 L732.1,228.0 L732.5,230.0 L732.5,221.9 L732.8,224.5 L732.8,231.4 L733.1,233.9 L733.2,226.7 L733.5,227.9 L733.5,237.0 L733.8,234.2 L733.8,226.6 L734.1,226.0 L734.1,231.9 L734.4,230.3 L734.4,222.4 L734.7,220.2 L734.7,229.2 L735.0,226.6 L735.1,218.6 L735.3,215.5 L735.4,224.1 L735.7,222.5 L735.7,213.9 L736.0,211.5 L736.0,218.7 L736.3,217.4 L736.3,209.7 L736.6,207.2 L736.6,216.6 L736.9,214.2 L737.0,207.5 L737.3,204.0 L737.3,210.4 L737.7,209.3 L737.7,203.1 L738.0,199.7 L738.0,208.4 L738.4,205.8 L738.4,199.2 L738.7,196.9 L738.7,202.2 L739.1,202.2 L739.1,193.1 L739.6,195.5 L739.6,203.4 L740.1,203.5 L740.1,198.2 L740.6,197.5 L740.7,204.7 L741.2,207.3 L741.2,199.6 L741.7,200.4 L741.7,209.3 L742.2,210.9 L742.2,201.8 L743.1,200.7 L743.1,208.8 L744.1,208.5 L744.1,201.2 L745.0,198.8 L745.0,205.8 L745.9,206.7 L745.9,197.3 L746.0,194.9 L746.0,201.9 L746.1,201.7 L746.1,192.3 L746.2,190.9 L746.2,197.5 L746.3,194.5 L746.3,187.8 L746.4,185.0 L746.4,192.2 L746.5,190.1 L746.5,183.0 L746.6,181.0 L746.6,189.0 L746.7,185.4 L746.7,178.8 L746.8,176.7 L746.8,184.5 L746.9,181.5 L746.9,173.8 L747.0,171.1 L747.0,178.8 L747.1,176.4 L747.1,168.0 L747.2,165.0 L747.2,174.4 L748.1,173.3 L748.1,164.5 L749.0,163.3 L749.0,172.4 L749.4,174.4 L749.5,165.7 L749.9,167.2 L749.9,174.8 L750.3,176.5 L750.3,170.9 L750.7,172.8 L750.7,179.5 L751.1,182.3 L751.1,174.2 L751.5,174.9 L751.5,184.3 L751.9,184.7 L752.0,178.2 L752.3,180.1 L752.4,188.8 L752.8,190.5 L752.8,183.7 L753.2,185.0 L753.2,191.8 L753.6,195.6 L753.6,187.2 L754.0,188.6 L754.0,198.0 L754.1,199.0 L754.1,191.3 L754.3,194.6 L754.3,201.8 L754.4,203.2 L754.4,195.9 L754.5,198.3 L754.5,204.5 L754.6,208.3 L754.6,199.6 L754.8,201.6 L754.8,210.4 L754.9,212.8 L754.9,205.0 L755.0,206.0 L755.0,215.1 L755.1,215.4 L755.1,208.2 L755.2,210.8 L755.3,217.3 L755.4,221.4 L755.4,213.6 L755.5,213.1 L755.5,223.4 L755.6,225.8 L755.6,216.7 L756.3,215.8 L756.3,223.6 L756.9,220.9 L757.0,215.1 L757.6,211.5 L757.6,218.3 L758.3,215.9 L758.3,209.6 L758.9,209.0 L759.0,214.4 L759.6,214.2 L759.6,204.8 L760.4,205.0 L760.4,212.3 L761.2,211.2 L761.2,202.6 L761.9,203.1 L762.0,210.1 L762.7,208.4 L762.7,199.3 L763.2,201.7 L763.2,209.5 L763.7,211.2 L763.8,202.6 L764.3,203.5 L764.3,212.7 L764.8,213.7 L764.8,205.9 L765.3,207.2 L765.3,214.5 L765.8,217.1 L765.8,208.0 L766.4,206.8 L766.5,214.4 L767.1,213.0 L767.1,206.8 L767.7,205.6 L767.7,212.7 L768.3,210.9 L768.3,203.6 L768.9,201.7 L769.0,209.9 L769.6,209.2 L769.6,199.9 L770.2,198.1 L770.2,207.2 L770.5,208.0 L770.5,200.5 L770.8,202.6 L770.8,211.5 L771.1,213.5 L771.1,204.7 L771.4,207.2 L771.4,215.6 L771.7,216.5 L771.7,210.5 L772.0,211.6 L772.1,219.4 L772.4,222.0 L772.4,212.8 L772.7,214.7 L772.7,224.1 L772.9,226.2 L772.9,217.0 L773.1,220.8 L773.1,226.2 L773.4,229.1 L773.4,223.2 L773.6,223.6 L773.6,231.9 L773.8,234.5 L773.8,225.3 L774.1,229.6 L774.1,236.6 L774.3,236.8 L774.3,230.6 L774.5,231.6 L774.5,240.7 L775.5,237.0 L775.5,232.0 L776.5,228.8 L776.5,236.8 L777.5,234.6 L777.5,226.6 L778.5,224.5 L778.5,232.6 L779.5,231.6 L779.5,222.2 L779.7,221.3 L779.7,226.9 L779.8,225.8 L779.8,217.7 L780.0,214.8 L780.0,223.8 L780.1,221.1 L780.1,212.3 L780.3,210.0 L780.3,218.6 L780.4,216.4 L780.5,208.1 L780.6,206.8 L780.6,213.6 L780.7,211.5 L780.8,202.3 L780.9,201.5 L780.9,209.2 L781.1,204.9 L781.1,198.9 L781.2,194.9 L781.2,202.9 L781.4,201.7 L781.4,192.3 L781.6,190.5 L781.6,198.9 L781.8,197.4 L781.8,190.5 L782.0,187.6 L782.1,194.9 L782.3,193.3 L782.3,184.4 L782.5,184.1 L782.5,190.1 L782.7,189.4 L782.7,179.0 L783.0,180.5 L783.0,187.0 L783.2,184.7 L783.2,178.0 L783.4,174.4 L783.4,181.2 L783.6,179.3 L783.6,172.3 L783.9,170.1 L783.9,179.2 L784.8,180.7 L784.8,172.3 L785.7,175.3 L785.7,182.6 L786.7,183.9 L786.7,175.9 L787.6,176.1 L787.6,185.5 L787.9,187.6 L787.9,179.4 L788.2,181.7 L788.2,188.1 L788.5,191.2 L788.5,184.8 L788.8,185.5 L788.9,193.5 L789.1,195.9 L789.2,189.2 L789.5,190.7 L789.5,199.1 L789.8,201.4 L789.8,194.8 L790.1,194.8 L790.1,204.2 L790.4,205.9 L790.4,196.8 L790.7,200.3 L790.7,208.0 L791.0,210.6 L791.0,201.8 L791.3,205.2 L791.4,211.9 L791.7,212.4 L791.7,206.3 L792.0,206.8 L792.0,214.2 L792.3,217.0 L792.3,210.6 L792.6,210.9 L792.6,217.9 L792.9,222.0 L793.0,212.9 L793.6,212.6 L793.6,219.0 L794.3,216.5 L794.3,210.9 L795.0,208.2 L795.0,216.9 L795.6,214.6 L795.6,208.4 L796.3,204.8 L796.3,214.2 L796.7,211.7 L796.7,202.8 L797.1,201.8 L797.1,208.5 L797.5,207.5 L797.6,198.4 L798.0,196.5 L798.0,205.5 L798.4,203.2 L798.4,194.6 L798.8,192.1 L798.8,201.1 L799.2,199.1 L799.2,191.1 L799.6,189.7 L799.6,196.5 L800.0,194.8 L800.0,185.7 L800.4,187.6 L800.4,196.8 L800.7,198.0 L800.8,190.0 L801.1,191.8 L801.1,200.0 L801.4,201.1 L801.5,193.9 L801.8,195.9 L801.8,203.6 L802.2,204.3 L802.2,197.8 L802.5,198.5 L802.5,207.9 L803.1,208.0 L803.1,201.1 L803.6,202.7 L803.6,211.8 L804.2,212.7 L804.2,205.0 L804.7,207.9 L804.7,215.9 L805.3,217.4 L805.3,210.3 L805.8,212.3 L805.8,219.1 L806.4,221.0 L806.4,213.6 L806.9,217.0 L807.0,221.6 L807.5,225.8 L807.5,216.7 L807.9,215.4 L807.9,222.3 L808.3,221.3 L808.3,215.7 L808.7,212.7 L808.7,220.7 L809.1,219.9 L809.1,211.1 L809.5,211.5 L809.6,216.6 L809.9,217.0 L810.0,208.3 L810.3,206.8 L810.4,215.9 L811.3,215.6 L811.3,208.5 L812.2,211.0 L812.2,218.0 L813.1,219.5 L813.1,210.6 L814.0,212.3 L814.0,219.2 L815.0,222.0 L815.0,212.9 L815.3,212.6 L815.3,219.9 L815.6,218.0 L815.6,208.8 L815.9,208.0 L815.9,213.6 L816.2,212.7 L816.2,205.8 L816.5,204.4 L816.5,211.7 L816.8,209.6 L816.8,200.8 L817.1,199.3 L817.1,207.0 L817.4,203.6 L817.5,196.7 L817.7,195.8 L817.8,202.4 L818.1,201.7 L818.1,192.3 L819.0,192.5 L819.0,200.3 L819.9,197.2 L819.9,189.9 L820.9,188.7 L820.9,197.1 L821.8,196.7 L821.8,187.3 L821.9,187.1 L822.0,192.3 L822.1,191.5 L822.1,184.5 L822.3,180.4 L822.3,188.3 L822.4,186.1 L822.4,177.4 L822.6,175.2 L822.6,184.1 L822.7,180.9 L822.7,174.3 L822.9,172.3 L822.9,178.9 L823.0,174.5 L823.1,169.1 L823.2,165.6 L823.2,173.5 L823.3,171.3 L823.4,164.5 L823.5,161.5 L823.5,167.4 L823.7,165.9 L823.7,157.5 L823.8,155.5 L823.8,162.5 L824.0,161.5 L824.0,153.5 L824.1,150.0 L824.1,159.3 L824.3,156.9 L824.3,147.5 L824.5,145.5 L824.5,154.9 L824.8,151.9 L824.8,143.6 L825.0,141.9 L825.0,149.9 L825.3,146.2 L825.3,141.3 L825.5,137.8 L825.5,144.4 L825.8,143.9 L825.8,136.1 L826.0,134.1 L826.0,140.6 L826.3,138.2 L826.3,131.5 L826.5,129.1 L826.5,138.2 L826.9,139.6 L826.9,131.1 L827.2,135.4 L827.2,141.2 L827.5,142.2 L827.6,135.9 L827.9,137.5 L827.9,144.6 L828.2,148.3 L828.2,139.2 L828.6,142.5 L828.6,149.8 L828.9,152.4 L828.9,143.5 L829.3,145.1 L829.3,154.5 L829.4,155.8 L829.4,148.5 L829.6,149.2 L829.6,157.7 L829.8,160.7 L829.8,153.6 L829.9,155.1 L829.9,163.5 L830.1,166.2 L830.1,158.3 L830.2,160.0 L830.3,168.1 L830.4,170.2 L830.4,162.8 L830.6,165.8 L830.6,172.1 L830.7,176.5 L830.8,168.3 L830.9,170.1 L830.9,179.1 L831.1,179.6 L831.1,173.5 L831.2,176.5 L831.3,184.1 L831.4,186.0 L831.4,178.0 L831.6,180.2 L831.6,188.8 L831.7,191.8 L831.8,182.4 L832.5,185.4 L832.6,193.3 L833.3,193.5 L833.4,186.2 L834.1,186.8 L834.2,195.4 L834.9,198.9 L835.0,191.3 L835.7,192.9 L835.8,198.7 L836.5,202.2 L836.6,193.9 L837.3,195.5 L837.4,204.6 L837.7,201.6 L837.7,194.1 L838.0,191.9 L838.0,198.5 L838.4,198.4 L838.4,190.7 L838.7,189.3 L838.7,196.2 L839.1,194.4 L839.1,186.6 L839.4,183.5 L839.4,192.3 L839.8,190.7 L839.8,183.0 L840.1,180.7 L840.1,188.8 L840.4,186.8 L840.5,177.4 L840.6,177.0 L840.6,183.4 L840.7,181.8 L840.7,174.8 L840.8,170.2 L840.8,178.4 L840.9,175.4 L840.9,169.6 L841.0,165.7 L841.0,173.9 L841.1,171.5 L841.1,162.8 L841.2,162.2 L841.2,167.5 L841.3,166.8 L841.3,159.1 L841.4,157.4 L841.4,164.4 L841.5,160.3 L841.5,152.8 L841.6,151.3 L841.6,158.6 L841.7,156.9 L841.7,148.1 L841.8,145.7 L841.8,154.2 L841.9,151.4 L841.9,143.4 L842.0,142.2 L842.0,149.3 L842.1,146.7 L842.1,138.7 L842.2,136.8 L842.2,143.2 L842.3,142.0 L842.3,132.6 L842.7,132.7 L842.7,140.2 L843.1,137.8 L843.2,131.1 L843.6,128.2 L843.6,135.6 L844.0,133.5 L844.0,127.0 L844.4,125.0 L844.4,131.5 L844.8,132.0 L844.8,122.9 L845.1,125.2 L845.1,133.1 L845.4,134.5 L845.4,127.5 L845.7,129.7 L845.8,137.8 L846.0,137.8 L846.1,130.0 L846.4,134.2 L846.4,141.8 L846.7,143.9 L846.7,135.3 L847.0,136.7 L847.0,145.6 L847.3,149.1 L847.3,140.5 L847.6,141.6 L847.6,148.3 L847.9,152.0 L847.9,142.6 L848.0,143.9 L848.0,153.7 L848.1,154.9 L848.1,148.3 L848.1,150.6 L848.2,157.5 L848.2,159.7 L848.2,153.2 L848.3,155.8 L848.3,164.2 L848.4,166.3 L848.4,158.6 L848.5,160.5 L848.5,167.5 L848.5,171.7 L848.6,162.6 L848.6,166.2 L848.6,173.6 L848.7,175.1 L848.7,169.2 L848.8,170.9 L848.8,179.1 L848.8,180.4 L848.9,173.7 L848.9,175.0 L848.9,185.0 L849.0,184.7 L849.0,178.7 L849.1,181.3 L849.1,188.9 L849.2,191.8 L849.2,182.4 L849.4,186.7 L849.5,193.7 L849.7,196.4 L849.7,187.8 L850.0,190.4 L850.0,197.5 L850.3,201.3 L850.3,192.7 L850.5,194.9 L850.6,203.3 L850.8,206.5 L850.8,198.0 L851.1,202.2 L851.1,208.6 L851.4,211.0 L851.4,202.5 L851.6,204.8 L851.7,214.2 L852.2,213.8 L852.2,206.8 L852.7,210.7 L852.7,216.8 L853.2,217.8 L853.3,211.7 L853.8,213.4 L853.8,221.0 L854.3,223.2 L854.3,214.0 L854.8,216.3 L854.9,225.0 L855.4,227.0 L855.4,217.9 L856.3,219.3 L856.3,227.6 L857.2,227.9 L857.3,220.7 L858.2,219.9 L858.2,228.2 L859.1,229.6 L859.1,220.5 L860.1,221.3 L860.1,228.1 L861.1,230.5 L861.1,223.3 L862.1,221.8 L862.1,227.9 L863.1,230.4 L863.1,223.0 L864.1,221.7 L864.1,230.8 L864.7,228.9 L864.7,219.9 L865.3,219.5 L865.3,226.3 L865.9,224.9 L866.0,216.5 L866.6,214.6 L866.6,221.1 L867.2,221.6 L867.2,212.2 L867.7,211.8 L867.7,219.7 L868.1,217.8 L868.1,210.5 L868.6,208.2 L868.6,216.8 L869.1,215.3 L869.1,206.2 L869.4,208.1 L869.5,216.6 L869.8,218.1 L869.9,211.7 L870.2,213.1 L870.2,219.4 L870.6,220.4 L870.6,212.7 L871.0,215.1 L871.0,221.8 L871.4,224.7 L871.4,218.0 L871.8,218.0 L871.8,225.3 L872.2,228.3 L872.2,219.2 L873.0,219.8 L873.1,225.4 L873.9,226.2 L873.9,217.3 L874.8,215.8 L874.8,224.9 L875.6,222.6 L875.7,215.2 L876.5,213.5 L876.5,222.9 L877.4,220.9 L877.4,212.0 L878.3,212.4 L878.3,219.4 L879.1,216.6 L879.1,209.9 L880.0,207.9 L880.0,216.9 L880.9,215.4 L880.9,206.0 L881.6,206.0 L881.6,211.7 L882.3,211.5 L882.3,205.1 L883.0,204.0 L883.0,211.1 L883.7,210.3 L883.8,201.2 L884.3,202.9 L884.3,211.5 L884.8,213.3 L884.8,205.5 L885.4,206.4 L885.4,215.0 L885.9,217.0 L885.9,210.3 L886.5,209.7 L886.5,219.1 L886.9,220.3 L886.9,213.7 L887.3,212.5 L887.3,221.1 L887.7,223.9 L887.7,216.0 L888.1,219.9 L888.1,226.2 L888.5,228.2 L888.6,220.5 L889.0,221.7 L889.0,230.8 L889.3,227.6 L889.4,221.6 L889.7,217.4 L889.8,225.0 L890.1,223.8 L890.1,215.6 L890.5,213.9 L890.5,221.4 L890.9,219.0 L890.9,210.4 L891.3,209.1 L891.3,216.7 L891.7,214.8 L891.7,209.1 L892.1,204.8 L892.1,214.2 L892.8,214.1 L892.9,204.8 L893.6,207.1 L893.6,213.8 L894.4,214.0 L894.4,207.1 L895.2,204.9 L895.2,214.0 L896.0,211.9 L896.1,204.7 L896.9,206.3 L896.9,213.2 L897.8,212.7 L897.8,204.8 L898.7,204.8 L898.7,213.1 L899.5,212.9 L899.5,203.5 L900.4,206.1 L900.4,213.4 L901.3,215.8 L901.3,208.1 L902.1,210.5 L902.2,217.7 L903.0,220.6 L903.0,212.9 L903.9,213.5 L903.9,222.9 L904.3,224.7 L904.3,215.6 L904.7,218.4 L904.7,226.7 L905.1,229.0 L905.1,221.9 L905.5,222.8 L905.5,229.1 L905.9,234.2 L905.9,224.1 L906.3,226.6 L906.3,234.8 L906.7,237.2 L906.7,230.1 L907.0,231.1 L907.1,237.3 L907.4,240.9 L907.5,232.8 L907.8,235.5 L907.9,241.7 L908.2,245.7 L908.3,236.6 L909.2,234.9 L909.2,243.9 L910.1,241.6 L910.1,235.4 L911.0,235.4 L911.0,241.8 L911.9,241.0 L911.9,233.4 L912.8,231.9 L912.8,239.7 L913.7,239.1 L913.8,229.7 L914.5,229.6 L914.5,237.7 L915.3,235.1 L915.3,228.5 L916.1,227.7 L916.1,233.5 L916.8,234.2 L916.9,224.8 L917.3,223.5 L917.3,230.5 L917.8,228.0 L917.8,223.3 L918.3,219.0 L918.3,226.6 L918.7,224.9 L918.8,217.4 L919.2,215.1 L919.2,223.1 L919.7,222.2 L919.7,213.1 L920.5,214.8 L920.6,222.9 L921.4,223.7 L921.4,217.3 L922.2,219.4 L922.2,225.9 L923.1,229.2 L923.1,219.8 L923.5,223.6 L923.5,231.0 L923.9,232.4 L924.0,225.6 L924.4,225.4 L924.4,233.1 L924.8,235.8 L924.9,227.7 L925.3,229.4 L925.3,238.1 L925.7,238.1 L925.7,233.2 L926.2,232.9 L926.2,242.0 L926.8,239.7 L926.8,232.5 L927.4,230.0 L927.4,238.8 L928.0,237.2 L928.1,228.8 L928.7,228.3 L928.7,233.5 L929.3,234.2 L929.3,224.8 L929.7,224.6 L929.7,232.1 L930.1,228.3 L930.1,221.1 L930.4,219.6 L930.5,226.2 L930.8,225.8 L930.9,217.9 L931.2,216.0 L931.2,224.3 L931.6,221.5 L931.6,214.4 L932.0,211.4 L932.0,220.3 L932.4,218.5 L932.4,209.4 L933.0,212.3 L933.0,218.8 L933.6,221.8 L933.7,213.1 L934.3,216.2 L934.3,223.8 L934.9,226.7 L934.9,217.2 L935.5,218.5 L935.5,227.9 L936.1,229.1 L936.1,220.7 L936.7,224.2 L936.8,230.7 L937.4,232.9 L937.4,226.2 L938.0,226.5 L938.0,235.1 L938.6,237.8 L938.6,228.7 L939.2,231.1 L939.2,237.0 L939.9,240.8 L939.9,231.7 L940.3,231.4 L940.3,237.9 L940.8,235.4 L940.8,229.1 L941.2,226.0 L941.2,234.9 L941.7,232.8 L941.7,224.3 L942.1,222.1 L942.2,231.1 L942.6,229.2 L942.6,219.8 L943.0,219.3 L943.0,225.8 L943.5,224.4 L943.5,216.0 L943.9,214.1 L943.9,222.0 L944.3,220.7 L944.3,213.2 L944.8,212.2 L944.8,218.5 L945.2,217.3 L945.2,208.2 L946.0,209.9 L946.1,217.4 L946.9,218.9 L946.9,212.1 L947.7,213.9 L947.7,221.4 L948.6,224.2 L948.6,214.8 L949.4,217.2 L949.4,225.6 L950.2,227.5 L950.2,218.5 L951.0,222.2 L951.1,228.5 L951.9,231.1 L951.9,222.7 L952.7,226.1 L952.7,231.6 L953.5,234.6 L953.6,225.5 L954.4,224.9 L954.4,233.8 L955.3,231.3 L955.3,224.3 L956.2,223.7 L956.2,232.4 L957.1,230.7 L957.1,223.3 L958.0,223.1 L958.0,231.5 L958.9,230.2 L958.9,222.3 L959.8,221.0 L959.8,230.4 L960.2,227.0 L960.3,220.0 L960.7,218.1 L960.8,226.9 L961.2,224.4 L961.3,216.3 L961.7,215.7 L961.8,223.2 L962.2,222.2 L962.3,213.1 L963.1,213.5 L963.1,222.7 L964.0,221.5 L964.0,212.8 L964.9,212.7 L964.9,221.3 L965.7,221.2 L965.7,212.6 L966.6,212.3 L966.6,221.7 L967.2,223.1 L967.2,216.7 L967.8,219.6 L967.9,225.2 L968.5,227.9 L968.5,221.2 L969.1,222.5 L969.1,231.6 L969.7,234.2 L969.7,224.8 L970.0,229.1 L970.0,234.0 L970.3,236.0 L970.3,229.9 L970.5,233.2 L970.6,239.8 L970.8,240.2 L970.8,234.1 L971.1,235.4 L971.1,242.8 L971.4,245.6 L971.4,237.0 L971.6,239.6 L971.7,246.0 L971.9,249.0 L971.9,241.3 L972.2,242.9 L972.2,252.0 L972.9,250.2 L973.0,242.5 L973.7,240.5 L973.7,248.7 L974.4,246.8 L974.4,238.3 L975.2,238.2 L975.2,245.1 L975.9,244.1 L975.9,234.7 L976.9,233.8 L976.9,241.8 L977.8,243.3 L977.8,233.3 L978.7,232.4 L978.7,241.3 L979.7,240.4 L979.7,231.0 L980.0,228.8 L980.0,237.0 L980.4,235.3 L980.4,228.4 L980.7,223.5 L980.7,231.9 L981.1,230.3 L981.1,221.5 L981.4,218.6 L981.4,227.1 L981.8,223.1 L981.8,216.9 L982.1,213.6 L982.2,223.0 L982.9,220.7 L982.9,212.6 L983.6,212.9 L983.7,218.1 L984.4,218.5 L984.4,209.4 L984.9,211.2 L984.9,218.2 L985.3,218.9 L985.4,212.3 L985.8,215.5 L985.8,221.0 L986.3,222.2 L986.3,215.6 L986.8,216.6 L986.8,224.4 L987.3,226.3 L987.3,217.3 L987.7,219.3 L987.8,228.4 L988.7,227.3 L988.7,220.6 L989.6,223.3 L989.6,230.4 L990.5,231.1 L990.6,223.4 L991.5,224.3 L991.5,233.4 L991.8,235.2 L991.8,227.1 L992.2,229.5 L992.2,236.0 L992.5,239.7 L992.5,231.0 L992.8,234.1 L992.9,240.8 L993.2,243.1 L993.2,235.9 L993.5,237.4 L993.6,245.3 L993.9,247.5 L993.9,239.5 L994.2,241.7 L994.3,249.3 L994.6,251.6 L994.6,242.2 L995.6,243.7 L995.6,251.2 L996.6,249.4 L996.6,242.1 L997.6,244.3 L997.6,249.6 L998.6,250.3 L998.6,245.0 L999.6,242.9 L999.6,252.0 L999.9,248.1 L999.9,243.0 L1000.2,239.0 L1000.2,247.9 L1000.5,246.2 L1000.5,238.0 L1000.8,235.3 L1000.8,243.5 L1001.1,242.4 L1001.1,234.5 L1001.4,231.0 L1001.4,239.7 L1001.7,238.3 L1001.7,230.6 L1002.0,227.2 L1002.1,236.6 L1002.3,233.7 L1002.3,227.0 L1002.6,223.6 L1002.6,231.6 L1002.8,228.2 L1002.9,223.6 L1003.1,221.0 L1003.1,227.2 L1003.4,226.3 L1003.4,218.9 L1003.6,216.2 L1003.7,224.3 L1003.9,222.2 L1003.9,213.1 L1004.7,215.4 L1004.7,221.8 L1005.4,225.8 L1005.4,218.5 L1006.1,219.8 L1006.2,228.1 L1006.9,228.7 L1006.9,221.0 L1007.6,222.3 L1007.7,231.7 L1007.9,233.8 L1008.0,226.4 L1008.3,229.4 L1008.3,235.1 L1008.6,237.1 L1008.6,230.3 L1008.9,232.3 L1008.9,240.7 L1009.2,242.1 L1009.2,234.4 L1009.5,237.2 L1009.5,246.6 L1010.4,245.8 L1010.5,238.1 L1011.4,240.3 L1011.4,247.8 L1012.3,247.6 L1012.3,241.2 L1013.2,240.9 L1013.3,250.3 L1014.1,252.1 L1014.1,244.3 L1014.9,245.6 L1014.9,254.7 L1015.7,256.5 L1015.7,247.1 L1016.3,250.5 L1016.4,257.9 L1017.0,259.9 L1017.0,252.3 L1017.6,255.1 L1017.6,262.6 L1018.2,265.2 L1018.2,255.8 L1018.7,260.0 L1018.7,267.1 L1019.1,268.8 L1019.2,260.6 L1019.6,262.9 L1019.6,271.7 L1020.1,274.0 L1020.1,264.6 L1020.9,267.7 L1020.9,274.8 L1021.6,275.7 L1021.6,266.9 L1022.4,268.2 L1022.4,276.0 L1023.2,277.7 L1023.2,268.3 L1024.0,271.8 L1024.0,279.6 L1024.7,280.4 L1024.8,274.3 L1025.5,276.7 L1025.5,282.5 L1026.3,286.4 L1026.3,277.0 L1027.2,279.2 L1027.2,286.7 L1028.2,288.4 L1028.2,280.3 L1029.1,283.6 L1029.1,288.5 L1030.0,291.8 L1030.0,282.7 L1030.8,282.7 L1030.8,289.7 L1031.6,289.1 L1031.6,281.3 L1032.4,280.6 L1032.4,286.9 L1033.1,288.1 L1033.2,279.0 L1033.9,279.5 L1033.9,286.2 L1034.7,284.1 L1034.7,279.1 L1035.5,278.0 L1035.5,284.5 L1036.2,284.3 L1036.3,275.2 L1037.1,274.6 L1037.1,283.6 L1038.0,281.5 L1038.0,273.7 L1038.9,272.8 L1038.9,280.9 L1039.7,279.0 L1039.7,270.8 L1040.6,269.7 L1040.6,278.8 L1041.4,279.6 L1041.4,272.9 L1042.2,272.8 L1042.2,281.2 L1042.9,281.8 L1042.9,273.7 L1043.7,274.5 L1043.7,283.9 L1043.9,283.6 L1043.9,276.8 L1044.1,278.4 L1044.1,285.9 L1044.2,288.1 L1044.3,280.6 L1044.4,282.1 L1044.4,290.9 L1044.6,291.8 L1044.6,284.0 L1044.8,287.2 L1044.8,293.0 L1045.0,296.8 L1045.0,287.7 L1045.8,288.8 L1045.8,295.5 L1046.7,298.0 L1046.7,290.1 L1047.6,291.1 L1047.6,298.9 L1048.4,299.7 L1048.5,290.8 L1049.3,291.5 L1049.3,300.6 L1050.2,298.4 L1050.3,293.4 L1051.2,292.4 L1051.2,299.8 L1052.1,300.8 L1052.1,292.7 L1053.0,291.9 L1053.1,301.3 L1053.1,301.2 L1053.1,294.2 L1053.2,296.8 L1053.2,305.5 L1053.2,307.2 L1053.2,299.9 L1053.3,301.0 L1053.3,311.3 L1053.4,311.8 L1053.4,303.2 L1053.4,304.3 L1053.4,313.7 L1053.5,317.0 L1053.5,307.6 L1054.5,311.0 L1054.5,317.0 L1055.5,318.0 L1055.5,311.5 L1056.5,312.2 L1056.5,321.0 L1057.5,322.2 L1057.5,313.6 L1058.5,314.6 L1058.5,323.7 L1059.3,323.9 L1059.3,314.7 L1060.2,313.4 L1060.2,322.5 L1061.1,320.7 L1061.1,314.1 L1061.9,313.7 L1062.0,322.2 L1062.8,322.0 L1062.8,312.6 L1063.0,310.1 L1063.0,318.3 L1063.2,316.6 L1063.2,309.4 L1063.4,305.4 L1063.5,312.3 L1063.6,311.1 L1063.7,303.8 L1063.8,302.1 L1063.9,309.2 L1064.1,304.8 L1064.1,299.7 L1064.3,295.9 L1064.3,302.5 L1064.5,302.6 L1064.5,292.5 L1064.7,290.2 L1064.7,299.6 L1065.2,295.9 L1065.2,288.7 L1065.7,287.6 L1065.7,295.5 L1066.2,291.9 L1066.3,285.0 L1066.7,284.2 L1066.8,291.7 L1067.3,289.9 L1067.3,281.1 L1067.8,278.6 L1067.8,287.7 L1068.6,287.6 L1068.6,280.0 L1069.4,283.0 L1069.5,288.3 L1070.3,292.2 L1070.3,282.8 L1070.4,286.3 L1070.4,293.7 L1070.5,296.5 L1070.5,286.1 L1070.6,289.9 L1070.6,298.1 L1070.7,300.9 L1070.7,293.5 L1070.8,294.7 L1070.9,303.6 L1071.0,306.0 L1071.0,297.6 L1071.1,300.0 L1071.1,307.9 L1071.2,309.5 L1071.2,302.2 L1071.3,305.0 L1071.3,313.6 L1071.4,313.7 L1071.4,306.8 L1071.5,308.9 L1071.5,318.3 L1071.6,320.2 L1071.7,310.3 L1071.8,314.9 L1071.8,322.3 L1071.9,324.2 L1071.9,317.1 L1072.0,318.0 L1072.0,325.3 L1072.1,327.7 L1072.2,320.9 L1072.3,325.0 L1072.3,329.9 L1072.4,332.2 L1072.4,325.2 L1072.5,327.3 L1072.5,334.2 L1072.6,338.5 L1072.7,331.1 L1072.8,333.0 L1072.8,339.6 L1072.9,342.8 L1072.9,334.1 L1073.0,337.4 L1073.0,344.7 L1073.1,347.8 L1073.2,339.0 L1073.3,341.5 L1073.3,349.4 L1073.4,352.3 L1073.4,343.2 L1074.2,344.4 L1074.2,350.5 L1074.9,350.7 L1075.0,342.9 L1075.7,342.3 L1075.7,349.6 L1076.5,349.4 L1076.5,340.0 L1076.7,338.2 L1076.7,347.9 L1076.9,344.1 L1076.9,335.3 L1077.1,332.7 L1077.1,341.3 L1077.2,338.7 L1077.3,330.5 L1077.4,328.3 L1077.4,336.9 L1077.6,334.4 L1077.6,327.6 L1077.8,323.6 L1077.8,331.3 L1078.0,330.3 L1078.0,321.3 L1078.2,318.8 L1078.2,326.6 L1078.4,325.7 L1078.4,316.3 L1079.1,316.7 L1079.2,324.8 L1079.9,323.3 L1079.9,315.6 L1080.7,316.6 L1080.7,322.1 L1081.5,323.1 L1081.5,314.0 L1082.1,316.1 L1082.1,324.1 L1082.7,326.9 L1082.7,320.0 L1083.3,320.4 L1083.4,328.1 L1084.0,330.3 L1084.0,322.5 L1084.6,323.4 L1084.6,331.4 L1085.2,334.5 L1085.2,325.1 L1085.4,328.8 L1085.5,335.8 L1085.7,337.7 L1085.7,330.1 L1085.9,333.4 L1085.9,341.5 L1086.1,343.3 L1086.2,335.5 L1086.4,339.5 L1086.4,346.5 L1086.6,349.0 L1086.6,340.1 L1086.8,343.2 L1086.9,351.0 L1087.1,354.4 L1087.1,345.0 L1087.2,348.8 L1087.2,354.8 L1087.2,358.6 L1087.3,352.0 L1087.3,353.6 L1087.4,361.1 L1087.4,362.6 L1087.4,356.5 L1087.5,359.5 L1087.5,365.8 L1087.6,368.4 L1087.6,361.2 L1087.7,362.4 L1087.7,371.8 L1087.8,371.9 L1087.9,366.3 L1088.0,368.6 L1088.0,375.1 L1088.2,378.5 L1088.2,371.0 L1088.3,372.0 L1088.3,380.6 L1088.5,381.8 L1088.5,376.2 L1088.6,376.4 L1088.6,384.8 L1088.8,386.8 L1088.8,379.3 L1088.9,381.0 L1089.0,390.4 L1089.6,391.3 L1089.6,384.0 L1090.2,385.5 L1090.2,394.4 L1090.8,395.0 L1090.8,388.1 L1091.4,389.7 L1091.4,399.1 L1092.0,401.4 L1092.1,393.7 L1092.7,395.7 L1092.7,403.0 L1093.3,404.2 L1093.3,397.4 L1093.9,399.7 L1093.9,409.1 L1094.3,411.5 L1094.3,402.5 L1094.7,405.0 L1094.7,414.0 L1095.0,416.2 L1095.0,408.7 L1095.4,410.1 L1095.4,418.8 L1095.8,421.5 L1095.8,412.1 L1096.1,414.0 L1096.1,422.3 L1096.4,423.5 L1096.4,417.1 L1096.7,419.2 L1096.7,425.9 L1097.0,427.4 L1097.0,421.2 L1097.3,419.6 L1097.3,430.0 L1097.6,431.9 L1097.7,422.8 L1098.4,423.3 L1098.4,430.6 L1099.2,431.6 L1099.2,424.8 L1100.0,421.5 L1100.0,429.9 L1100.7,431.5 L1100.8,422.1 L1101.6,421.6 L1101.6,430.5 L1102.4,427.9 L1102.4,422.1 L1103.2,420.4 L1103.3,429.5 L1103.5,431.3 L1103.5,424.1 L1103.8,425.2 L1103.8,430.9 L1104.0,434.5 L1104.1,425.9 L1104.3,428.0 L1104.3,436.9 L1104.6,438.6 L1104.6,429.7 L1104.8,433.1 L1104.9,439.9 L1105.1,442.7 L1105.1,433.3 L1105.2,437.4 L1105.2,444.5 L1105.3,447.1 L1105.3,438.6 L1105.4,442.4 L1105.4,448.4 L1105.5,450.9 L1105.6,444.5 L1105.6,445.3 L1105.7,452.8 L1105.8,454.9 L1105.8,449.6 L1105.9,451.6 L1105.9,459.0 L1106.0,461.3 L1106.0,451.9 L1106.2,454.8 L1106.2,462.3 L1106.4,464.3 L1106.5,457.7 L1106.7,461.0 L1106.7,465.8 L1106.9,468.0 L1106.9,461.2 L1107.1,463.8 L1107.1,470.5 L1107.4,474.2 L1107.4,466.6 L1107.6,467.7 L1107.6,477.1 L1108.0,477.1 L1108.0,469.7 L1108.3,472.7 L1108.4,480.2 L1108.7,481.7 L1108.7,473.7 L1109.1,477.6 L1109.1,483.0 L1109.5,486.3 L1109.5,477.2 L1109.8,475.3 L1109.8,483.4 L1110.2,480.4 L1110.2,473.4 L1110.6,473.4 L1110.6,478.7 L1110.9,478.5 L1111.0,469.6 L1111.3,467.7 L1111.3,477.1 L1111.7,475.3 L1111.8,467.9 L1112.1,465.0 L1112.2,473.5 L1112.6,472.7 L1112.6,463.6 L1113.2,465.4 L1113.2,473.8 L1113.8,474.9 L1113.8,467.7 L1114.4,467.7 L1114.4,477.1 L1114.5,478.9 L1114.5,471.6 L1114.6,473.6 L1114.6,480.8 L1114.7,480.4 L1114.7,476.7 L1114.7,480.4 L1114.8,483.3 L1114.8,486.2 L1114.8,482.0 L1114.9,486.3 L1114.9,486.3 L1115.0,489.6 L1115.0,488.4 L1115.0,490.5 L1115.1,491.7 L1115.1,494.2 L1115.2,493.0 L1115.2,495.5 L1115.2,496.7 L1115.3,499.2 L1115.3,498.0 L1115.4,500.4 L1115.4,501.6 L1115.5,504.1 L1115.5,502.9 L1115.6,505.4 L1115.6,506.6 L1115.7,509.1 L1115.7,507.9 L1115.7,510.4 L1115.8,511.6 L1115.8,514.1 L1115.9,512.9 L1115.9,515.4 L1115.9,516.6 L1116.1,518.9 L1116.1,517.7 L1116.3,520.1 L1116.3,521.3 L1116.5,523.6 L1116.5,522.4 L1116.6,524.8 L1116.7,526.0 L1116.8,528.3 L1116.8,527.1 L1117.0,529.5 L1117.0,530.7 L1117.2,533.0 L1117.2,531.8 L1117.4,534.2 L1117.4,535.4 L1117.5,537.7 L1117.6,536.5 L1117.9,539.0 L1117.9,540.2 L1118.2,542.7 L1118.3,541.5 L1118.6,544.0 L1118.6,545.2 L1119.0,547.7 L1119.0,546.5 L1119.3,549.0 L1119.3,550.2 L1119.7,552.6 L1119.7,551.4 L1120.0,553.9 L1120.0,555.1 L1120.9,556.4 L1120.9,555.2 L1121.7,556.4 L1121.7,557.6 L1122.5,558.9 L1122.5,557.7 L1123.4,555.8 L1123.5,557.0 L1124.4,555.1 L1124.4,553.9 L1124.6,556.4 L1124.6,557.6 L1124.8,560.1 L1124.8,558.9 L1125.0,561.4 L1125.0,562.6 L1125.2,565.1 L1125.3,563.9 L1125.4,566.4 L1125.5,567.6 L1125.7,570.1 L1125.7,568.9 L1125.9,571.3 L1125.9,572.5 L1126.3,575.0 L1126.3,573.8 L1126.8,576.3 L1126.8,577.5 L1127.2,580.0 L1127.2,578.8 L1127.7,581.3 L1127.7,582.5 L1128.1,585.0 L1128.1,583.8 L1128.4,586.1 L1128.4,587.3 L1128.6,589.6 L1128.7,588.4 L1128.9,590.7 L1128.9,591.9 L1129.2,594.2 L1129.2,593.0 L1129.4,595.3 L1129.5,596.5 L1129.7,598.8 L1129.7,597.6 L1130.0,599.9 L1130.0,601.1 L1130.2,603.4 L1130.3,602.2 L1130.5,604.5 L1130.5,605.7 L1130.8,608.0 L1130.8,606.8 L1131.1,609.1 L1131.1,610.3 L1131.3,612.5 L1131.3,611.3 L1131.6,613.6 L1131.6,614.8 L1132.4,617.0 L1132.5,615.8 L1133.3,618.0 L1133.3,619.2 L1134.1,621.4 L1134.1,620.2 L1135.0,622.3 L1135.0,623.5 L1135.1,625.9 L1135.1,624.7 L1135.3,627.0 L1135.3,628.2 L1135.5,630.6 L1135.5,629.4 L1135.7,631.7 L1135.7,632.9 L1135.8,635.3 L1135.9,634.1 L1136.0,636.4 L1136.0,637.6 L1136.2,640.0 L1136.2,638.8 L1136.4,641.1 L1136.4,642.3 L1136.6,644.7 L1136.6,643.5 L1136.8,645.9 L1136.9,647.1 L1137.1,649.5 L1137.2,648.3 L1137.4,650.8 L1137.4,652.0 L1137.7,654.4 L1137.7,653.2 L1138.0,655.6 L1138.0,656.8 L1138.3,659.3 L1138.3,658.1 L1138.5,660.4 L1138.5,661.6 L1138.7,663.9 L1138.7,662.7 L1139.0,665.1 L1139.0,666.3 L1139.2,668.6 L1139.2,667.4 L1139.4,669.7 L1139.4,670.9 L1139.7,673.2 L1139.7,672.0 L1139.9,674.4 L1139.9,675.6 L1140.1,677.9 L1140.1,676.7 L1140.7,679.2 L1140.8,680.4 L1141.4,682.9 L1141.4,681.7 L1142.0,684.2 L1142.0,685.4 L1142.6,687.9 L1142.6,686.7 L1142.7,689.0 L1142.7,690.2 L1142.8,692.6 L1142.8,691.4 L1142.9,693.8 L1142.9,695.0 L1143.0,697.3 L1143.0,696.1 L1143.0,698.5 L1143.1,699.7 L1143.1,702.0 L1143.2,700.8 L1143.2,703.2 L1143.2,704.4 L1143.3,706.8 L1143.3,705.6 L1143.4,707.9 L1143.4,709.1 L1143.5,711.5 L1143.5,710.3 L1144.3,712.2 L1144.3,713.4 L1145.1,715.2 L1145.1,714.0 L1145.1,716.4 L1145.1,717.6 L1145.1,720.1 L1145.1,718.9 L1145.1,721.3 L1145.1,722.5 L1145.1,724.9 L1145.1,723.7 L1145.1,726.1 L1145.1,727.3 L1145.1,729.7 L1145.1,728.5 L1145.1,731.0 L1145.1,732.2 L1145.1,734.6 L1145.1,733.4 L1145.1,735.8 L1145.1,737.0 L1145.1,739.4 L1145.1,738.2 L1145.1,740.6 L1145.2,741.8 L1145.1,744.2 L1145.2,743.0 L1145.1,745.5 L1145.2,746.7 L1145.1,749.1 L1145.2,747.9 L1145.1,750.3 L1145.2,751.5 L1145.1,753.9 L1145.2,752.7 L1145.1,755.1 L1145.2,756.3 L1145.1,758.8 L1145.2,757.6 L1145.9,758.8 L1146.0,760.0 L1146.7,761.2 L1146.7,760.0 L1146.7,762.5 L1146.8,763.7 L1146.7,766.1 L1146.8,764.9 L1146.8,767.3 L1146.8,768.5 L1146.8,770.9 L1146.8,769.7 L1146.8,772.1 L1146.8,773.3 L1146.8,775.8 L1146.8,774.6 L1146.8,777.0 L1146.8,778.2 L1146.8,780.6 L1146.8,779.4 L1146.8,781.8 L1146.9,783.0 L1146.9,785.4 L1146.9,784.2 L1146.9,786.6 L1146.9,787.8 L1146.9,790.3 L1146.9,789.1 L1146.9,791.5 L1146.9,792.7 L1146.9,795.1 L1146.9,793.9 L1146.9,796.3 L1146.9,797.5 L1146.9,799.9 L1147.0,798.7 L1147.0,801.2 L1147.0,802.4 L1147.0,804.8 L1147.0,803.6 L1147.7,804.8 L1147.7,806.0 L1148.5,807.3 L1148.5,806.1 L1148.5,808.3 L1148.5,809.5 L1148.5,811.7 L1148.5,810.5 L1148.5,812.7 L1148.5,813.9 L1148.5,816.2 L1148.5,815.0 L1148.5,817.2 L1148.5,818.4 L1148.5,820.6 L1148.5,819.4 L1148.5,821.9 L1148.5,823.1 L1148.5,825.6 L1148.5,824.4 L1148.5,826.9 L1148.5,828.1 L1148.5,830.6 L1148.5,829.4 L1148.5,831.8 L1148.5,833.0 L1148.5,835.5 L1148.5,834.3 L1148.5,836.8 L1148.5,838.0 L1148.5,840.5 L1148.5,839.3 L1148.5,841.8 L1148.5,843.0 L1148.5,845.5 L1148.5,844.3 L1148.5,846.8 L1148.5,848.0 L1148.5,850.5 L1148.5,849.3 L1148.5,851.7 L1148.5,852.9 L1148.5,855.4 L1148.6,854.2 L1148.5,856.7 L1148.6,857.9 L1148.5,860.4 L1148.6,859.2 L1148.5,861.7 L1148.6,862.9 L1148.5,865.4 L1148.6,864.2 L1148.5,866.7 L1148.6,867.9 L1148.5,870.4 L1148.6,869.2 L1148.5,871.6 L1148.6,872.8 L1148.5,875.3 L1148.6,874.1 L1148.5,876.6 L1148.6,877.8 L1148.5,880.3 L1148.6,879.1 L1148.5,881.6 L1148.6,882.8 L1148.5,885.3 L1148.6,884.1 L1148.6,886.6 L1148.6,887.8 L1148.6,890.3 L1148.6,889.1 L1148.6,891.5 L1148.6,892.7 L1148.6,895.2 L1148.6,894.0 L1148.6,896.5 L1148.6,897.7 L1149.3,898.0 L1149.3,896.8 L1150.1,897.1 L1150.1,898.3 L1150.1,900.8 L1150.1,899.6 L1150.1,902.1 L1150.1,903.3 L1150.1,905.8 L1150.1,904.6 L1150.1,907.1 L1150.1,908.3 L1150.1,910.7 L1150.1,909.5 L1150.1,912.0 L1150.1,913.2 L1150.1,915.7 L1150.1,914.5 L1150.1,917.0 L1150.1,918.2 L1150.1,920.7 L1150.1,919.5 L1150.1,921.9 L1150.1,923.1 L1150.1,925.6 L1150.1,924.4 L1150.1,926.9 L1150.1,928.1 L1150.1,930.6 L1150.1,929.4 L1150.1,931.9 L1150.1,933.1 L1150.1,935.5 L1150.1,934.3 L1150.1,936.8 L1150.1,938.0 L1150.1,940.5 L1150.1,939.3 L1150.1,941.8 L1150.1,943.0 L1150.1,945.5 L1150.1,944.3 L1150.1,946.8 L1150.1,948.0 L1150.1,950.4 L1150.1,949.2 L1150.1,951.7 L1150.1,952.9 L1150.1,955.4 L1150.1,954.2 L1150.1,956.7 L1150.1,957.9 L1150.1,960.4 L1150.1,959.2 L1150.1,961.6 L1150.1,962.8 L1150.1,965.3 L1150.1,964.1 L1150.1,966.6 L1150.1,967.8 L1150.1,970.3 L1150.1,969.1 L1150.1,971.6 L1150.1,972.8 L1150.1,975.2 L1150.1,974.0 L1150.1,976.5 L1150.1,977.7 L1150.1,980.2 L1150.1,979.0 L1150.1,981.5 L1150.1,982.7 L1150.1,985.2 L1150.1,984.0 L1150.1,986.4 L1150.1,987.6 L1150.1,990.1 L1150.1,988.9 L1150.1,991.4 L1150.1,992.6 L1150.1,995.1 L1150.1,993.9 L1150.1,996.4 L1150.1,997.6 L1150.1,1000.1 L1150.1,998.9 L1150.1,1001.3 L1150.1,1002.5 L1150.1,1005.0 L1150.1,1003.8 L1150.1,1006.3 L1150.1,1007.5 L1150.1,1010.0 L1150.1,1008.8 L1150.1,1011.3 L1150.1,1012.5 L1150.1,1014.9 L1150.1,1013.7 L1150.1,1016.2 L1150.1,1017.4 L1150.1,1019.9 L1150.1,1018.7 L1150.1,1021.2 L1150.1,1022.4 L1150.1,1024.9 L1150.1,1023.7 L1150.1,1026.1 L1150.1,1027.3 L1150.8,1028.0 L1150.9,1026.8 L1151.6,1027.4 L1151.6,1028.6 L1151.6,1031.1 L1151.6,1029.9 L1151.6,1032.4 L1151.6,1033.6 L1151.6,1036.1 L1151.6,1034.9 L1151.6,1037.4 L1151.6,1038.6 L1151.6,1041.0 L1151.6,1039.8 L1151.6,1042.3 L1151.6,1043.5 L1151.6,1046.0 L1151.6,1044.8 L1151.6,1047.3 L1151.6,1048.5 L1151.6,1051.0 L1151.6,1049.8 L1151.6,1052.3 L1151.6,1053.5 L1151.6,1056.0 L1151.6,1054.8 L1151.6,1057.3 L1151.6,1058.5 L1151.6,1061.0 L1151.6,1059.8 L1151.6,1062.3 L1151.6,1063.5 L1151.6,1066.0 L1151.6,1064.8 L1151.6,1067.3 L1151.6,1068.5 L1151.6,1070.9 L1151.6,1069.7 L1151.6,1072.2 L1151.6,1073.4 L1151.6,1075.9 L1151.6,1074.7 L1151.6,1077.2 L1151.6,1078.4 L1151.6,1080.9 L1151.6,1079.7 L1151.6,1082.2 L1151.6,1083.4 L1151.6,1085.9 L1151.6,1084.7 L1151.6,1087.2 L1151.6,1088.4 L1151.6,1090.9 L1151.6,1089.7 L1151.6,1092.2 L1151.6,1093.4 L1151.6,1095.9 L1151.6,1094.7 L1151.6,1097.2 L1151.6,1098.4 L1151.6,1100.8 L1151.6,1099.6 L1151.6,1102.1 L1151.6,1103.3 L1151.6,1105.8 L1151.6,1104.6 L1151.6,1107.1 L1151.6,1108.3 L1151.6,1110.8 L1151.6,1109.6 L1151.6,1112.1 L1151.6,1113.3 L1151.6,1115.8 L1151.6,1114.6 L1151.6,1117.1 L1151.6,1118.3 L1151.6,1120.8 L1151.6,1119.6 L1151.6,1122.1 L1151.6,1123.3 L1151.6,1125.8 L1151.6,1124.6 L1151.6,1127.1 L1151.7,1128.3 L1151.6,1130.7 L1151.7,1129.5 L1151.6,1132.0 L1151.7,1133.2 L1151.6,1135.7 L1151.7,1134.5 L1151.6,1137.0 L1151.7,1138.2 L1151.6,1140.7 L1151.7,1139.5 L1151.6,1142.0 L1151.7,1143.2 L1151.6,1145.7 L1151.7,1144.5 L1151.6,1147.0 L1151.7,1148.2 L1151.6,1150.7 L1151.7,1149.5 L1151.6,1152.0 L1151.7,1153.2 L1151.6,1155.7 L1151.7,1154.5 L1151.6,1157.0 L1151.7,1158.2 L1151.7,1160.6 L1151.7,1159.4 L1151.7,1161.9 L1151.7,1163.1 L1151.7,1165.6 L1151.7,1164.4 L1151.7,1166.9 L1151.7,1168.1 L1151.7,1170.6 L1151.7,1169.4 L1151.7,1171.9 L1151.7,1173.1 L1151.7,1175.6 L1151.7,1174.4 L1151.7,1176.9 L1151.7,1178.1 L1151.7,1180.6 L1151.7,1179.4 L1151.7,1181.9 L1151.7,1183.1 L1151.7,1185.6 L1151.7,1184.4 L1151.7,1186.9 L1151.7,1188.1 L1151.7,1190.5 L1151.7,1189.3 L1151.7,1191.8 L1151.7,1193.0 L1151.7,1195.5 L1151.7,1194.3 L1151.7,1196.8 L1151.7,1198.0 L1151.7,1200.5 L1151.7,1199.3 L1151.7,1201.8 L1151.7,1203.0 L1151.7,1205.5 L1151.7,1204.3 L1151.7,1206.8 L1151.7,1208.0 L1151.7,1210.5 L1151.7,1209.3 L1151.7,1211.8 L1151.7,1213.0 L1151.7,1215.5 L1151.7,1214.3 L1151.7,1216.8 L1151.7,1218.0 L1151.7,1220.4 L1151.7,1219.2 L1151.7,1221.7 L1151.7,1222.9 L1151.7,1225.4 L1151.7,1224.2 L1152.6,1225.5 L1152.6,1226.7 L1153.4,1227.9 L1153.5,1226.7 L1153.4,1229.2 L1153.5,1230.4 L1153.5,1232.9 L1153.5,1231.7 L1153.5,1234.2 L1153.5,1235.4 L1153.5,1237.9 L1153.5,1236.7 L1153.5,1239.2 L1153.5,1240.4 L1153.5,1242.8 L1153.5,1241.6 L1153.5,1244.1 L1153.5,1245.3 L1153.5,1247.8 L1153.5,1246.6 L1153.5,1249.1 L1153.5,1250.3 L1153.5,1252.8 L1153.6,1251.6 L1153.5,1254.1 L1153.6,1255.3 L1153.6,1257.8 L1153.6,1256.6 L1153.6,1259.1 L1153.6,1260.3 L1153.6,1262.7 L1153.6,1261.5 L1153.6,1264.0 L1153.6,1265.2 L1153.6,1267.7 L1153.6,1266.5 L1153.6,1269.0 L1153.6,1270.2 L1153.6,1272.7 L1153.6,1271.5 L1153.6,1274.0 L1153.6,1275.2 L1153.6,1277.7 L1153.7,1276.5 L1153.7,1279.0 L1153.7,1280.2 L1153.7,1282.6 L1153.7,1281.4 L1153.7,1283.9 L1153.7,1285.1 L1153.7,1287.6 L1153.7,1286.4 L1153.7,1288.9 L1153.7,1290.1 L1153.7,1292.6 L1153.7,1291.4 L1153.7,1293.9 L1153.7,1295.1 L1153.7,1297.6 L1153.7,1296.4 L1153.7,1298.9 L1153.8,1300.1 L1153.7,1302.5 L1153.8,1301.3 L1153.8,1303.8 L1153.8,1305.0 L1153.8,1307.5 L1153.8,1306.3 L1153.8,1308.8 L1153.8,1310.0 L1153.8,1312.5 L1153.8,1311.3 L1153.8,1313.8 L1153.8,1315.0 L1153.8,1317.5 L1153.8,1316.3 L1154.6,1317.5 L1154.6,1318.7 L1155.4,1320.0 L1155.4,1318.8 L1155.5,1321.1 L1155.5,1322.3 L1155.6,1324.7 L1155.6,1323.5 L1155.7,1325.8 L1155.7,1327.0 L1155.8,1329.4 L1155.8,1328.2 L1155.9,1330.6 L1155.9,1331.8 L1155.9,1334.1 L1156.0,1332.9 L1156.0,1335.3 L1156.1,1336.5 L1156.1,1338.9 L1156.1,1337.7 L1156.2,1340.0 L1156.2,1341.2 L1156.3,1343.6 L1156.3,1342.4 L1156.8,1344.9 L1156.8,1346.1 L1157.3,1348.6 L1157.3,1347.4 L1157.8,1349.8 L1157.8,1351.0 L1158.3,1353.5 L1158.3,1352.3 L1158.8,1354.8 L1158.8,1356.0 L1159.0,1358.1 L1159.0,1356.9 L1159.2,1359.0 L1159.2,1360.2 L1159.4,1362.2 L1159.4,1361.0 L1159.9,1358.4 L1159.9,1361.4 L1160.4,1360.5 L1160.5,1355.8 L1161.0,1353.2 L1161.0,1359.6 L1161.5,1358.7 L1161.5,1350.6 L1162.0,1347.9 L1162.0,1357.8 L1162.5,1356.9 L1162.5,1345.3 L1163.0,1343.4 L1163.0,1353.7 L1163.4,1351.3 L1163.5,1341.7 L1163.9,1339.9 L1163.9,1349.9 L1164.4,1348.8 L1164.4,1337.2 L1165.3,1338.6 L1165.3,1351.7 L1166.2,1349.5 L1166.3,1340.2 L1167.2,1341.5 L1167.2,1352.5 L1168.1,1354.4 L1168.1,1342.8 L1168.4,1347.5 L1168.4,1356.0 L1168.6,1358.3 L1168.6,1349.0 L1168.9,1351.7 L1168.9,1361.2 L1169.1,1362.1 L1169.1,1353.4 L1169.4,1356.1 L1169.4,1365.3 L1169.6,1369.3 L1169.6,1358.5 L1169.9,1360.4 L1169.9,1371.7 L1170.1,1374.2 L1170.1,1364.3 L1170.3,1367.0 L1170.4,1376.8 L1170.6,1379.3 L1170.6,1367.7 L1170.9,1366.0 L1170.9,1376.1 L1171.2,1373.7 L1171.2,1363.6 L1171.5,1362.3 L1171.5,1371.9 L1171.8,1369.7 L1171.9,1360.6 L1172.2,1356.7 L1172.2,1366.4 L1172.5,1364.9 L1172.5,1354.8 L1172.8,1352.2 L1172.8,1360.9 L1173.1,1360.3 L1173.1,1348.9 L1173.4,1346.6 L1173.4,1357.5 L1173.7,1355.7 L1173.7,1344.1 L1174.0,1346.9 L1174.0,1358.2 L1174.2,1358.8 L1174.2,1350.0 L1174.5,1353.0 L1174.5,1362.2 L1174.7,1364.6 L1174.7,1354.1 L1175.0,1356.7 L1175.0,1367.2 L1175.2,1370.5 L1175.2,1359.4 L1175.4,1362.0 L1175.5,1373.3 L1175.7,1375.0 L1175.7,1365.0 L1175.9,1366.8 L1176.0,1377.9 L1176.2,1380.5 L1176.2,1368.9 L1177.1,1367.6 L1177.1,1378.0 L1177.9,1375.9 L1178.0,1366.8 L1178.8,1362.7 L1178.8,1374.2 L1179.7,1371.6 L1179.7,1360.0 L1180.5,1357.8 L1180.6,1369.4 L1181.5,1369.5 L1181.5,1358.6 L1182.5,1361.7 L1182.5,1370.8 L1183.4,1369.9 L1183.5,1362.3 L1184.4,1363.3 L1184.4,1371.6 L1185.4,1371.5 L1185.4,1362.2 L1186.4,1364.0 L1186.4,1373.1 L1187.3,1372.8 L1187.3,1364.5 L1188.3,1366.8 L1188.3,1375.3 L1189.3,1376.8 L1189.3,1365.2 L1190.1,1366.6 L1190.1,1377.1 L1191.0,1378.0 L1191.0,1368.9 L1191.9,1367.9 L1191.9,1379.0 L1192.7,1379.3 L1192.8,1368.7 L1193.6,1368.9 L1193.6,1380.5 L1194.1,1376.2 L1194.1,1368.5 L1194.5,1364.8 L1194.6,1375.5 L1195.0,1372.3 L1195.0,1362.1 L1195.5,1359.3 L1195.5,1370.2 L1195.9,1366.8 L1196.0,1358.1 L1196.4,1354.9 L1196.4,1364.7 L1196.9,1361.6 L1196.9,1352.2 L1197.3,1349.0 L1197.4,1360.6 L1198.3,1358.3 L1198.3,1349.6 L1199.2,1348.2 L1199.2,1356.9 L1200.1,1358.1 L1200.2,1347.8 L1201.1,1344.7 L1201.1,1356.3 L1201.9,1357.9 L1202.0,1347.7 L1202.8,1348.2 L1202.8,1357.7 L1203.7,1361.7 L1203.7,1352.3 L1204.6,1352.7 L1204.6,1362.1 L1205.4,1365.6 L1205.4,1354.0 L1206.3,1356.7 L1206.3,1366.8 L1207.1,1369.0 L1207.1,1358.9 L1207.9,1360.2 L1207.9,1371.8 L1208.4,1367.9 L1208.5,1357.9 L1209.0,1356.9 L1209.0,1367.2 L1209.5,1364.4 L1209.5,1354.2 L1210.0,1353.3 L1210.1,1361.2 L1210.6,1359.9 L1210.6,1349.6 L1211.1,1347.3 L1211.1,1357.3 L1211.6,1355.7 L1211.7,1344.1 L1212.5,1347.2 L1212.5,1355.9 L1213.3,1358.6 L1213.3,1350.2 L1214.1,1350.3 L1214.1,1361.9 L1214.4,1363.2 L1214.4,1353.0 L1214.6,1355.9 L1214.6,1366.9 L1214.9,1368.2 L1214.9,1359.8 L1215.1,1359.7 L1215.1,1370.1 L1215.4,1371.9 L1215.4,1362.2 L1215.6,1365.2 L1215.6,1376.6 L1215.9,1377.6 L1215.9,1368.3 L1216.1,1370.9 L1216.1,1380.7 L1216.4,1383.4 L1216.4,1373.1 L1216.6,1375.2 L1216.6,1386.8 L1217.0,1383.3 L1217.0,1373.8 L1217.4,1370.0 L1217.4,1381.1 L1217.7,1377.6 L1217.8,1368.3 L1218.1,1366.4 L1218.1,1375.1 L1218.5,1374.6 L1218.5,1364.3 L1218.9,1361.0 L1218.9,1371.1 L1219.2,1369.3 L1219.2,1360.0 L1219.6,1356.3 L1219.6,1367.6 L1220.0,1365.5 L1220.0,1354.8 L1220.3,1351.5 L1220.4,1363.1 L1221.2,1362.5 L1221.2,1353.3 L1222.0,1354.4 L1222.0,1364.2 L1222.8,1365.6 L1222.9,1354.0 L1223.8,1356.7 L1223.9,1366.3 L1224.8,1365.8 L1224.8,1356.5 L1225.8,1357.8 L1225.8,1368.6 L1226.8,1369.6 L1226.8,1358.1 L1227.8,1359.0 L1227.8,1370.6 L1228.4,1372.6 L1228.5,1361.5 L1229.1,1365.8 L1229.1,1374.9 L1229.7,1377.1 L1229.7,1366.5 L1230.3,1368.9 L1230.3,1380.5 L1231.2,1380.7 L1231.3,1373.3 L1232.2,1374.2 L1232.2,1383.2 L1233.1,1387.0 L1233.1,1376.3 L1234.0,1377.7 L1234.0,1389.3 L1235.0,1386.4 L1235.0,1376.7 L1236.0,1376.1 L1236.0,1385.3 L1237.0,1383.7 L1237.0,1375.0 L1238.0,1374.1 L1238.0,1384.2 L1239.0,1382.2 L1239.0,1372.4 L1240.0,1370.9 L1240.0,1379.9 L1241.0,1380.5 L1241.0,1369.5 L1242.0,1370.1 L1242.0,1378.7 L1243.0,1377.7 L1243.0,1368.7 L1244.0,1365.2 L1244.0,1376.8 L1244.6,1373.9 L1244.6,1363.0 L1245.2,1361.9 L1245.2,1372.3 L1245.8,1368.9 L1245.9,1358.7 L1246.5,1356.5 L1246.5,1365.5 L1247.1,1365.6 L1247.1,1354.0 L1247.4,1358.2 L1247.4,1365.8 L1247.7,1370.3 L1247.7,1359.6 L1248.0,1363.4 L1248.0,1370.3 L1248.3,1374.9 L1248.4,1365.4 L1248.6,1365.8 L1248.7,1376.8 L1249.0,1379.4 L1249.0,1369.4 L1249.3,1370.6 L1249.3,1381.9 L1249.6,1384.3 L1249.6,1372.7 L1250.5,1374.9 L1250.5,1383.3 L1251.4,1386.8 L1251.5,1375.2 L1252.4,1376.9 L1252.5,1386.5 L1253.4,1386.7 L1253.5,1377.4 L1254.4,1375.2 L1254.4,1385.5 L1255.4,1385.4 L1255.4,1376.4 L1256.4,1375.2 L1256.4,1386.8 L1256.8,1384.0 L1256.8,1372.2 L1257.1,1369.5 L1257.1,1381.5 L1257.4,1377.5 L1257.5,1369.0 L1257.8,1366.0 L1257.8,1375.1 L1258.1,1374.7 L1258.1,1364.8 L1258.5,1361.1 L1258.5,1372.1 L1258.8,1369.9 L1258.8,1360.0 L1259.1,1357.0 L1259.2,1367.7 L1259.5,1363.9 L1259.5,1354.2 L1259.8,1351.4 L1259.8,1362.0 L1260.1,1360.6 L1260.2,1349.0 L1260.5,1352.4 L1260.5,1362.0 L1260.8,1364.6 L1260.8,1353.8 L1261.1,1358.2 L1261.1,1366.6 L1261.4,1370.4 L1261.4,1360.7 L1261.7,1361.7 L1261.7,1371.9 L1262.0,1374.2 L1262.0,1363.8 L1262.3,1366.4 L1262.3,1376.9 L1262.6,1379.3 L1262.7,1367.7 L1263.5,1370.3 L1263.5,1377.9 L1264.3,1380.1 L1264.3,1368.4 L1265.1,1368.9 L1265.1,1380.5 L1265.3,1377.6 L1265.3,1367.8 L1265.5,1365.0 L1265.5,1375.0 L1265.7,1373.3 L1265.7,1363.3 L1265.9,1359.9 L1265.9,1371.4 L1266.1,1367.4 L1266.1,1357.1 L1266.3,1354.9 L1266.3,1365.8 L1266.5,1362.5 L1266.5,1354.0 L1266.7,1351.1 L1266.7,1359.3 L1266.8,1358.8 L1266.9,1347.5 L1267.0,1345.2 L1267.1,1354.8 L1267.2,1353.9 L1267.2,1343.0 L1267.4,1341.9 L1267.4,1350.9 L1267.6,1349.5 L1267.6,1337.9 L1268.5,1336.5 L1268.5,1346.9 L1269.4,1347.6 L1269.4,1337.4 L1270.3,1337.0 L1270.4,1347.1 L1271.2,1346.6 L1271.3,1335.0 L1271.7,1337.2 L1271.7,1346.8 L1272.1,1350.6 L1272.2,1341.6 L1272.6,1341.8 L1272.6,1352.8 L1273.0,1355.4 L1273.0,1346.1 L1273.5,1347.1 L1273.5,1357.0 L1273.9,1359.8 L1273.9,1348.4 L1274.4,1350.5 L1274.4,1362.1 L1275.2,1363.8 L1275.2,1354.6 L1276.0,1357.5 L1276.0,1366.6 L1276.8,1369.6 L1276.9,1358.0 L1277.7,1355.9 L1277.7,1365.6 L1278.6,1363.7 L1278.6,1354.8 L1279.5,1351.8 L1279.5,1362.5 L1280.3,1360.0 L1280.3,1350.8 L1281.2,1346.8 L1281.2,1358.4 L1282.1,1358.7 L1282.1,1350.4 L1283.1,1353.4 L1283.1,1361.5 L1284.0,1364.5 L1284.0,1353.4 L1284.9,1355.5 L1284.9,1367.1 L1285.9,1367.6 L1285.9,1357.9 L1286.9,1358.5 L1286.9,1367.1 L1287.9,1366.5 L1287.9,1357.9 L1288.9,1358.1 L1288.9,1367.2 L1289.9,1369.6 L1289.9,1358.0 L1290.8,1360.1 L1290.9,1368.5 L1291.8,1371.6 L1291.8,1360.6 L1292.7,1363.7 L1292.7,1372.9 L1293.6,1374.6 L1293.7,1363.0 L1294.3,1360.5 L1294.3,1369.8 L1294.9,1368.4 L1294.9,1358.1 L1295.5,1356.1 L1295.5,1365.4 L1296.1,1364.4 L1296.1,1354.6 L1296.7,1350.5 L1296.8,1362.1 L1297.4,1358.6 L1297.4,1348.6 L1298.1,1346.9 L1298.1,1357.9 L1298.8,1355.7 L1298.8,1344.8 L1299.4,1342.8 L1299.4,1353.5 L1300.1,1351.6 L1300.1,1340.0 L1301.0,1342.5 L1301.0,1352.6 L1301.8,1353.3 L1301.9,1342.6 L1302.7,1344.5 L1302.7,1354.8 L1303.6,1355.9 L1303.6,1344.3 L1303.9,1348.0 L1304.0,1357.3 L1304.3,1359.0 L1304.3,1349.3 L1304.6,1352.1 L1304.7,1363.4 L1305.0,1365.3 L1305.0,1355.7 L1305.4,1357.9 L1305.4,1367.1 L1305.7,1370.4 L1305.7,1361.5 L1306.1,1361.7 L1306.1,1373.3 L1306.7,1372.4 L1306.7,1363.1 L1307.3,1363.0 L1307.3,1374.6 L1308.1,1376.3 L1308.1,1365.8 L1308.8,1367.5 L1308.8,1378.8 L1309.6,1379.7 L1309.6,1370.0 L1310.3,1374.3 L1310.3,1382.5 L1311.0,1385.8 L1311.1,1374.2 L1311.8,1375.7 L1311.8,1386.0 L1312.6,1384.7 L1312.6,1376.4 L1313.4,1376.7 L1313.4,1386.2 L1314.2,1387.0 L1314.2,1375.4 L1314.9,1376.0 L1315.0,1386.2 L1315.7,1385.3 L1315.7,1377.8 L1316.5,1377.0 L1316.5,1387.5 L1317.3,1388.3 L1317.3,1376.7 L1318.2,1375.8 L1318.2,1386.1 L1319.0,1384.9 L1319.1,1374.9 L1319.9,1374.1 L1319.9,1382.7 L1320.8,1380.9 L1320.8,1372.4 L1321.7,1371.1 L1321.7,1379.3 L1322.6,1377.5 L1322.6,1368.0 L1323.5,1366.7 L1323.5,1378.3 L1323.7,1375.7 L1323.8,1366.2 L1324.0,1363.1 L1324.0,1372.9 L1324.3,1370.8 L1324.3,1359.8 L1324.5,1357.7 L1324.6,1367.7 L1324.8,1365.8 L1324.8,1355.6 L1325.1,1354.5 L1325.1,1363.9 L1325.3,1362.1 L1325.4,1350.5 L1326.3,1349.3 L1326.3,1359.3 L1327.3,1358.7 L1327.3,1347.7 L1328.2,1346.2 L1328.2,1357.8 L1329.1,1358.4 L1329.1,1347.5 L1330.0,1347.9 L1330.0,1357.3 L1330.8,1358.4 L1330.8,1349.0 L1331.7,1350.4 L1331.7,1360.3 L1332.6,1361.4 L1332.6,1351.4 L1333.4,1350.5 L1333.5,1362.1 L1334.4,1362.6 L1334.4,1352.1 L1335.3,1353.2 L1335.3,1362.3 L1336.2,1364.5 L1336.3,1355.6 L1337.2,1354.3 L1337.2,1365.9 L1337.5,1368.1 L1337.6,1358.2 L1337.9,1359.4 L1337.9,1369.5 L1338.3,1371.5 L1338.3,1362.5 L1338.7,1364.9 L1338.7,1375.6 L1339.0,1378.3 L1339.0,1366.7 L1340.0,1368.9 L1340.0,1379.0 L1340.9,1380.0 L1340.9,1369.7 L1341.8,1371.2 L1341.8,1380.4 L1342.8,1381.7 L1342.8,1373.1 L1343.7,1374.9 L1343.7,1385.5 L1344.6,1387.0 L1344.6,1375.4 L1345.6,1376.0 L1345.6,1386.2 L1346.6,1387.1 L1346.6,1376.6 L1347.6,1378.5 L1347.6,1386.5 L1348.6,1387.7 L1348.6,1376.9 L1349.6,1376.7 L1349.6,1388.3 L1350.5,1385.6 L1350.6,1375.9 L1351.5,1376.3 L1351.5,1386.4 L1352.4,1385.7 L1352.4,1374.5 L1353.3,1373.8 L1353.4,1384.9 L1354.3,1382.2 L1354.3,1374.1 L1355.2,1373.0 L1355.2,1383.4 L1356.1,1381.4 L1356.2,1373.4 L1357.1,1370.4 L1357.1,1382.0 L1357.9,1379.2 L1357.9,1369.3 L1358.7,1366.7 L1358.7,1377.4 L1359.6,1375.8 L1359.6,1364.2 L1360.5,1365.9 L1360.5,1376.3 L1361.4,1376.6 L1361.4,1367.2 L1362.4,1366.1 L1362.4,1375.6 L1363.3,1378.3 L1363.3,1366.7 L1363.9,1364.9 L1363.9,1375.5 L1364.5,1371.2 L1364.5,1361.9 L1365.1,1361.0 L1365.2,1368.9 L1365.8,1368.4 L1365.8,1356.8 L1366.6,1355.8 L1366.6,1365.6 L1367.5,1366.3 L1367.5,1356.3 L1368.3,1354.2 L1368.3,1365.4 L1369.1,1364.6 L1369.1,1353.0 L1370.0,1355.4 L1370.0,1366.2 L1370.9,1368.6 L1370.9,1358.7 L1371.7,1360.6 L1371.8,1370.1 L1372.6,1373.3 L1372.6,1361.7 L1373.4,1363.9 L1373.4,1374.6 L1374.2,1377.2 L1374.2,1366.9 L1374.9,1370.0 L1375.0,1378.3 L1375.7,1382.0 L1375.7,1370.4 L1376.5,1369.1 L1376.5,1379.2 L1377.3,1377.8 L1377.3,1367.3 L1378.1,1366.8 L1378.1,1376.3 L1378.8,1374.6 L1378.9,1363.0 L1379.6,1362.5 L1379.6,1373.4 L1380.4,1370.6 L1380.4,1362.2 L1381.2,1359.2 L1381.2,1370.7 L1381.9,1369.6 L1382.0,1358.0 L1382.9,1357.7 L1383.0,1367.4 L1383.9,1365.9 L1384.0,1355.7 L1384.9,1357.7 L1384.9,1366.8 L1385.9,1365.9 L1385.9,1355.3 L1386.9,1353.6 L1386.9,1365.2 L1387.7,1366.3 L1387.7,1357.3 L1388.5,1358.7 L1388.5,1369.3 L1389.2,1369.2 L1389.3,1361.7 L1390.0,1361.7 L1390.0,1373.3 L1390.9,1374.2 L1390.9,1364.8 L1391.7,1368.0 L1391.7,1377.4 L1392.5,1380.8 L1392.5,1369.2 L1393.3,1369.8 L1393.3,1379.8 L1394.1,1378.8 L1394.1,1369.5 L1394.8,1367.1 L1394.9,1376.6 L1395.6,1377.1 L1395.6,1365.5 L1396.4,1367.7 L1396.4,1378.7 L1397.2,1380.2 L1397.2,1370.9 L1398.0,1372.0 L1398.0,1383.0 L1398.7,1385.8 L1398.8,1374.2 L1399.1,1373.2 L1399.1,1383.2 L1399.4,1378.8 L1399.5,1371.2 L1399.8,1367.4 L1399.8,1378.3 L1400.2,1376.2 L1400.2,1365.1 L1400.5,1364.7 L1400.5,1372.0 L1400.9,1370.3 L1400.9,1361.3 L1401.2,1358.0 L1401.2,1369.6 L1402.0,1367.4 L1402.0,1358.6 L1402.8,1356.8 L1402.8,1367.9 L1403.6,1367.8 L1403.6,1358.5 L1404.3,1355.5 L1404.3,1367.1 L1405.3,1366.0 L1405.3,1355.9 L1406.2,1356.5 L1406.2,1367.6 L1407.1,1368.1 L1407.1,1356.6 L1408.1,1356.8 L1408.1,1368.4 L1409.0,1366.2 L1409.0,1355.9 L1409.9,1355.4 L1409.9,1365.1 L1410.9,1361.3 L1410.9,1354.0 L1411.8,1350.5 L1411.8,1362.1 L1412.7,1358.2 L1412.7,1349.7 L1413.6,1347.1 L1413.6,1358.0 L1414.5,1355.9 L1414.5,1344.3 L1415.4,1346.6 L1415.4,1356.9 L1416.3,1358.3 L1416.3,1348.6 L1417.1,1351.3 L1417.2,1359.4 L1418.0,1362.1 L1418.0,1350.5 L1418.6,1355.3 L1418.7,1364.0 L1419.3,1366.8 L1419.3,1357.0 L1419.9,1358.0 L1419.9,1369.6 L1420.7,1367.7 L1420.8,1359.6 L1421.6,1358.0 L1421.6,1367.6 L1422.5,1367.9 L1422.5,1358.8 L1423.4,1357.7 L1423.4,1368.1 L1424.2,1368.4 L1424.2,1356.8 L1425.0,1356.1 L1425.0,1366.1 L1425.8,1365.7 L1425.8,1355.3 L1426.6,1354.0 L1426.6,1365.5 L1427.3,1364.6 L1427.4,1353.0 L1428.0,1355.4 L1428.0,1366.1 L1428.6,1369.0 L1428.6,1360.3 L1429.2,1360.5 L1429.2,1371.0 L1429.8,1374.6 L1429.8,1363.0 L1430.6,1366.2 L1430.6,1375.8 L1431.4,1376.9 L1431.4,1369.1 L1432.2,1371.6 L1432.2,1379.9 L1432.9,1383.3 L1433.0,1371.7 L1433.8,1373.8 L1433.8,1382.6 L1434.6,1384.8 L1434.6,1375.5 L1435.4,1374.2 L1435.4,1385.8 L1436.2,1382.0 L1436.2,1373.0 L1437.0,1371.4 L1437.0,1379.2 L1437.8,1377.8 L1437.8,1368.9 L1438.5,1364.2 L1438.6,1375.8 L1439.3,1376.6 L1439.3,1365.7 L1440.1,1366.5 L1440.1,1377.1 L1440.9,1377.6 L1440.9,1367.1 L1441.6,1368.0 L1441.7,1379.6 L1442.6,1381.9 L1442.6,1370.7 L1443.5,1372.9 L1443.5,1384.5 L1444.3,1382.1 L1444.3,1371.7 L1445.1,1369.8 L1445.1,1380.3 L1445.8,1378.9 L1445.9,1367.5 L1446.6,1365.5 L1446.6,1377.1 L1447.5,1376.8 L1447.6,1366.1 L1448.5,1366.9 L1448.5,1377.9 L1449.4,1378.6 L1449.4,1368.2 L1450.3,1368.0 L1450.4,1379.6 L1451.2,1379.7 L1451.2,1369.1 L1452.0,1367.9 L1452.0,1378.4 L1452.8,1378.3 L1452.9,1366.7 L1453.6,1367.3 L1453.6,1375.6 L1454.4,1376.8 L1454.4,1365.7 L1455.2,1365.5 L1455.2,1375.1 L1455.9,1375.2 L1456.0,1363.6 L1456.9,1366.2 L1456.9,1375.8 L1457.8,1376.5 L1457.8,1365.9 L1458.7,1367.7 L1458.8,1378.0 L1459.7,1379.6 L1459.7,1368.0 L1460.0,1370.7 L1460.0,1381.7 L1460.3,1383.0 L1460.3,1372.4 L1460.6,1375.0 L1460.6,1384.8 L1460.9,1388.3 L1460.9,1376.7 L1461.4,1379.5 L1461.5,1390.1 L1462.0,1391.5 L1462.0,1382.2 L1462.5,1384.7 L1462.5,1395.5 L1463.0,1398.1 L1463.0,1386.6 L1463.5,1389.9 L1463.5,1399.9 L1464.0,1403.2 L1464.0,1391.6 L1464.9,1389.2 L1464.9,1400.6 L1465.7,1395.8 L1465.7,1388.1 L1466.5,1383.5 L1466.5,1395.9 L1467.3,1391.5 L1467.4,1381.6 L1468.2,1380.0 L1468.2,1390.7 L1469.0,1388.3 L1469.0,1376.7 L1469.8,1376.3 L1469.9,1387.1 L1470.7,1383.8 L1470.7,1375.6 L1471.5,1373.6 L1471.5,1385.2 L1472.4,1383.8 L1472.4,1374.1 L1473.4,1375.8 L1473.4,1384.9 L1474.3,1385.6 L1474.3,1375.9 L1475.2,1376.4 L1475.2,1384.3 L1476.2,1385.8 L1476.2,1375.5 L1477.1,1374.4 L1477.1,1384.6 L1478.0,1386.0 L1478.0,1373.8 L1479.0,1374.8 L1479.0,1386.4 L1479.7,1385.5 L1479.8,1374.3 L1480.5,1374.0 L1480.5,1384.8 L1481.3,1383.8 L1481.3,1373.9 L1482.1,1371.7 L1482.1,1383.3 L1482.8,1381.9 L1482.9,1372.5 L1483.6,1373.5 L1483.6,1383.8 L1484.4,1383.3 L1484.4,1373.6 L1485.2,1374.2 L1485.2,1385.8 L1485.5,1383.0 L1485.5,1372.0 L1485.9,1370.7 L1485.9,1380.3 L1486.2,1378.1 L1486.3,1368.1 L1486.6,1367.0 L1486.6,1375.1 L1487.0,1373.7 L1487.0,1363.6 L1487.3,1362.3 L1487.3,1369.5 L1487.7,1369.6 L1487.7,1358.0 L1488.4,1357.7 L1488.5,1368.2 L1489.2,1366.7 L1489.2,1356.6 L1490.0,1354.6 L1490.0,1364.3 L1490.8,1364.6 L1490.8,1353.0 L1491.7,1353.7 L1491.7,1364.2 L1492.6,1364.7 L1492.7,1355.8 L1493.6,1355.8 L1493.6,1365.3 L1494.5,1366.9 L1494.5,1357.8 L1495.4,1357.7 L1495.5,1366.0 L1496.4,1368.4 L1496.4,1356.8 L1497.4,1357.9 L1497.4,1367.0 L1498.4,1369.8 L1498.4,1358.7 L1499.4,1359.2 L1499.4,1370.3 L1500.3,1371.2 L1500.4,1360.9 L1501.3,1360.5 L1501.4,1372.1 L1502.3,1371.8 L1502.3,1361.3 L1503.2,1360.5 L1503.2,1371.1 L1504.1,1369.4 L1504.1,1361.3 L1505.0,1359.9 L1505.0,1371.5 L1505.9,1371.7 L1505.9,1361.5 L1506.8,1361.8 L1506.9,1370.5 L1507.8,1372.8 L1507.8,1362.6 L1508.7,1364.4 L1508.7,1374.1 L1509.6,1374.4 L1509.7,1363.6 L1510.6,1364.3 L1510.6,1374.8 L1511.5,1376.0 L1511.5,1366.6 L1512.4,1365.5 L1512.5,1377.1 L1513.2,1377.9 L1513.2,1368.4 L1514.0,1371.9 L1514.0,1381.2 L1514.8,1383.7 L1514.8,1373.4 L1515.5,1375.4 L1515.6,1387.0 L1515.8,1388.4 L1515.8,1379.3 L1516.1,1382.2 L1516.1,1390.0 L1516.3,1393.3 L1516.4,1383.4 L1516.6,1386.6 L1516.6,1396.1 L1516.9,1398.5 L1516.9,1386.9 L1517.1,1389.5 L1517.2,1400.7 L1517.4,1403.2 L1517.4,1391.6 L1518.3,1391.9 L1518.4,1399.5 L1519.3,1397.9 L1519.3,1388.3 L1520.2,1388.4 L1520.2,1395.9 L1521.1,1393.7 L1521.2,1384.7 L1522.1,1383.3 L1522.1,1393.3 L1523.0,1390.5 L1523.0,1380.6 L1523.9,1379.1 L1524.0,1389.5 L1524.9,1388.1 L1524.9,1376.8 L1525.8,1374.8 L1525.8,1386.0 L1526.7,1383.7 L1526.8,1374.2 L1527.7,1373.4 L1527.7,1381.7 L1528.6,1380.8 L1528.6,1369.2 L1529.6,1368.5 L1529.6,1379.1 L1530.6,1378.4 L1530.6,1368.6 L1531.6,1368.3 L1531.6,1376.8 L1532.6,1375.1 L1532.6,1366.2 L1533.6,1364.2 L1533.6,1375.8 L1534.6,1375.1 L1534.6,1365.8 L1535.6,1363.7 L1535.6,1373.4 L1536.6,1372.7 L1536.6,1362.9 L1537.6,1362.9 L1537.6,1371.6 L1538.6,1373.3 L1538.6,1361.7 L1539.4,1364.4 L1539.4,1375.8 L1540.2,1378.8 L1540.2,1367.1 L1541.0,1369.2 L1541.1,1380.8 L1541.3,1383.2 L1541.3,1372.8 L1541.5,1376.4 L1541.5,1383.7 L1541.7,1386.8 L1541.7,1377.6 L1541.9,1379.9 L1541.9,1391.1 L1542.1,1392.8 L1542.1,1383.5 L1542.3,1386.0 L1542.3,1394.6 L1542.5,1396.3 L1542.5,1387.8 L1542.7,1390.0 L1542.7,1400.5 L1542.9,1403.2 L1542.9,1391.6 L1543.2,1389.1 L1543.2,1401.3 L1543.5,1398.0 L1543.5,1387.2 L1543.7,1385.2 L1543.8,1394.7 L1544.0,1392.5 L1544.0,1383.4 L1544.3,1380.9 L1544.3,1388.4 L1544.6,1388.2 L1544.6,1377.1 L1544.8,1374.2 L1544.9,1384.7 L1545.1,1382.6 L1545.1,1373.8 L1545.4,1369.2 L1545.4,1380.8 L1546.2,1377.5 L1546.2,1366.7 L1547.1,1365.0 L1547.1,1374.9 L1547.9,1373.3 L1547.9,1361.7 L1548.7,1361.5 L1548.7,1372.1 L1549.4,1371.1 L1549.5,1359.1 L1550.2,1360.6 L1550.2,1369.1 L1551.0,1370.2 L1551.0,1358.6 L1551.9,1362.1 L1551.9,1370.0 L1552.9,1372.4 L1552.9,1361.9 L1553.8,1364.2 L1553.8,1374.4 L1554.7,1375.8 L1554.7,1364.2 L1555.7,1367.7 L1555.7,1377.4 L1556.6,1378.5 L1556.6,1370.0 L1557.5,1369.9 L1557.5,1380.8 L1558.5,1384.5 L1558.5,1372.9 L1558.6,1377.0 L1558.6,1385.7 L1558.8,1389.1 L1558.8,1377.6 L1558.9,1380.2 L1558.9,1391.5 L1559.1,1393.8 L1559.1,1383.2 L1559.2,1385.1 L1559.3,1396.0 L1559.4,1396.3 L1559.4,1387.1 L1559.5,1389.7 L1559.6,1400.8 L1559.7,1403.2 L1559.7,1391.6 L1560.6,1393.1 L1560.6,1403.1 L1561.5,1402.8 L1561.5,1392.7 L1562.4,1392.9 L1562.4,1402.2 L1563.3,1403.2 L1563.3,1393.9 L1564.2,1393.2 L1564.2,1402.2 L1565.1,1402.7 L1565.1,1391.6 L1566.0,1392.4 L1566.0,1401.6 L1566.9,1401.4 L1566.9,1391.7 L1567.8,1391.6 L1567.8,1403.2 L1568.1,1400.4 L1568.2,1389.5 L1568.5,1387.1 L1568.5,1396.8 L1568.8,1395.7 L1568.8,1384.2 L1569.2,1383.7 L1569.2,1392.0 L1569.5,1388.4 L1569.5,1381.0 L1569.9,1376.8 L1569.9,1386.2 L1570.2,1385.7 L1570.2,1374.4 L1570.6,1373.7 L1570.6,1382.7 L1570.9,1380.8 L1570.9,1369.2 L1571.0,1369.2 L1571.0,1376.9 L1571.1,1374.5 L1571.2,1366.3 L1571.3,1362.9 L1571.3,1373.8 L1571.4,1371.9 L1571.4,1361.2 L1571.5,1358.0 L1571.5,1369.6 L1572.4,1367.3 L1572.4,1357.9 L1573.3,1358.3 L1573.4,1366.5 L1574.3,1368.4 L1574.3,1356.8 L1575.2,1359.2 L1575.2,1369.6 L1576.2,1371.2 L1576.2,1361.1 L1577.1,1361.7 L1577.1,1373.3 L1578.0,1371.6 L1578.1,1362.8 L1579.0,1362.0 L1579.0,1371.8 L1579.9,1373.2 L1579.9,1362.2 L1580.8,1361.7 L1580.9,1373.3 L1581.7,1375.6 L1581.7,1365.2 L1582.5,1367.9 L1582.5,1378.2 L1583.3,1380.8 L1583.4,1369.2 L1583.6,1373.4 L1583.6,1381.3 L1583.9,1385.5 L1583.9,1374.4 L1584.2,1378.0 L1584.2,1386.7 L1584.4,1390.6 L1584.5,1379.3 L1584.7,1383.5 L1584.7,1391.6 L1585.0,1394.5 L1585.0,1386.3 L1585.3,1386.8 L1585.3,1398.0 L1585.5,1400.0 L1585.6,1389.8 L1585.8,1391.6 L1585.8,1403.2 L1586.1,1400.8 L1586.2,1391.3 L1586.4,1387.0 L1586.5,1396.6 L1586.8,1395.3 L1586.8,1384.9 L1587.1,1382.3 L1587.1,1393.3 L1587.4,1390.1 L1587.4,1380.8 L1587.7,1378.6 L1587.7,1387.2 L1588.0,1385.5 L1588.0,1376.3 L1588.3,1372.9 L1588.3,1384.5 L1589.1,1382.1 L1589.1,1373.2 L1589.9,1372.1 L1589.9,1382.0 L1590.6,1380.3 L1590.7,1371.3 L1591.4,1370.4 L1591.4,1382.0 L1592.2,1381.7 L1592.2,1373.5 L1593.0,1373.2 L1593.0,1384.5 L1593.8,1385.3 L1593.8,1374.2 L1594.5,1375.4 L1594.5,1387.0 L1594.9,1384.2 L1594.9,1374.9 L1595.3,1371.3 L1595.3,1382.0 L1595.6,1378.3 L1595.7,1369.0 L1596.0,1366.2 L1596.0,1375.1 L1596.4,1374.6 L1596.4,1363.0 L1597.2,1363.9 L1597.2,1372.2 L1597.9,1372.1 L1598.0,1362.6 L1598.7,1362.0 L1598.7,1371.0 L1599.5,1370.2 L1599.5,1358.6 L1600.3,1360.3 L1600.3,1370.2 L1601.1,1369.4 L1601.1,1359.3 L1601.8,1359.1 L1601.9,1369.4 L1602.6,1370.8 L1602.6,1359.2 L1603.4,1359.2 L1603.4,1367.9 L1604.2,1368.0 L1604.2,1360.3 L1604.9,1358.6 L1605.0,1366.9 L1605.7,1368.4 L1605.7,1356.8 L1606.5,1359.7 L1606.5,1368.2 L1607.3,1369.1 L1607.3,1361.6 L1608.1,1363.8 L1608.1,1371.9 L1608.8,1374.6 L1608.9,1363.0 L1609.1,1366.6 L1609.1,1376.7 L1609.3,1378.8 L1609.3,1370.1 L1609.6,1370.8 L1609.6,1380.6 L1609.8,1385.9 L1609.8,1373.3 L1610.1,1375.4 L1610.1,1387.0 L1610.9,1386.4 L1610.9,1375.4 L1611.7,1376.0 L1611.8,1385.6 L1612.6,1385.8 L1612.6,1374.2 L1613.4,1373.9 L1613.4,1384.8 L1614.2,1382.9 L1614.2,1374.1 L1615.0,1372.3 L1615.1,1383.9 L1615.9,1384.1 L1615.9,1374.4 L1616.8,1374.7 L1616.8,1383.9 L1617.7,1386.3 L1617.7,1375.8 L1618.5,1376.6 L1618.6,1386.9 L1619.4,1388.3 L1619.4,1376.7 L1620.0,1379.7 L1620.0,1390.7 L1620.6,1393.0 L1620.7,1383.1 L1621.3,1385.5 L1621.3,1393.4 L1621.9,1398.2 L1621.9,1387.3 L1622.5,1389.3 L1622.5,1400.3 L1623.1,1403.2 L1623.2,1391.6 L1623.3,1389.7 L1623.4,1400.2 L1623.5,1397.8 L1623.6,1386.8 L1623.8,1384.9 L1623.8,1395.4 L1624.0,1393.2 L1624.0,1384.0 L1624.2,1380.3 L1624.2,1389.1 L1624.4,1388.8 L1624.4,1379.4 L1624.6,1375.8 L1624.6,1384.2 L1624.8,1384.7 L1624.8,1371.4 L1625.0,1370.2 L1625.0,1380.8 L1625.2,1379.2 L1625.2,1369.8 L1625.4,1367.7 L1625.4,1376.5 L1625.6,1374.6 L1625.6,1363.0 L1625.9,1361.5 L1625.9,1370.9 L1626.1,1368.7 L1626.1,1358.6 L1626.3,1357.3 L1626.3,1366.8 L1626.6,1363.0 L1626.6,1354.0 L1626.8,1351.7 L1626.8,1362.0 L1627.0,1359.3 L1627.0,1351.2 L1627.3,1346.9 L1627.3,1357.5 L1627.5,1355.9 L1627.5,1344.3 L1628.4,1345.7 L1628.5,1354.8 L1629.4,1352.1 L1629.4,1343.3 L1630.3,1341.2 L1630.4,1352.8 L1631.2,1353.6 L1631.2,1343.5 L1632.0,1345.4 L1632.0,1355.1 L1632.9,1357.7 L1632.9,1346.4 L1633.7,1348.1 L1633.7,1359.7 L1634.6,1360.6 L1634.6,1351.5 L1635.4,1352.8 L1635.5,1363.0 L1636.3,1364.2 L1636.3,1353.6 L1637.2,1356.9 L1637.2,1365.8 L1638.1,1368.4 L1638.1,1356.8 L1638.9,1360.2 L1638.9,1369.3 L1639.7,1370.9 L1639.7,1361.5 L1640.5,1363.0 L1640.6,1374.6 L1641.4,1373.7 L1641.4,1364.5 L1642.3,1363.8 L1642.3,1373.2 L1643.2,1375.4 L1643.2,1365.2 L1644.0,1366.3 L1644.0,1374.9 L1644.9,1377.1 L1644.9,1365.5 L1645.5,1368.0 L1645.5,1379.4 L1646.1,1381.8 L1646.2,1372.6 L1646.8,1372.9 L1646.8,1383.3 L1647.4,1387.0 L1647.4,1375.4 L1647.7,1378.1 L1647.7,1388.6 L1647.9,1390.1 L1647.9,1380.9 L1648.2,1382.8 L1648.2,1392.6 L1648.5,1396.0 L1648.5,1384.7 L1648.7,1387.8 L1648.7,1398.5 L1649.0,1400.7 L1649.0,1389.6 L1649.3,1391.6 L1649.3,1403.2 L1650.2,1401.5 L1650.3,1392.1 L1651.2,1392.3 L1651.3,1402.1 L1652.2,1401.6 L1652.3,1391.9 L1653.2,1391.2 L1653.3,1402.3 L1654.2,1403.2 L1654.2,1391.6 L1654.9,1389.6 L1654.9,1400.8 L1655.5,1397.2 L1655.5,1388.3 L1656.1,1386.5 L1656.1,1394.1 L1656.7,1392.6 L1656.7,1383.2 L1657.3,1382.4 L1657.4,1391.5 L1658.0,1388.3 L1658.0,1378.8 L1658.6,1375.4 L1658.6,1387.0 L1659.4,1385.7 L1659.4,1376.4 L1660.2,1374.2 L1660.3,1384.9 L1661.1,1384.5 L1661.1,1372.9 L1662.0,1371.9 L1662.0,1382.4 L1663.0,1380.3 L1663.0,1370.5 L1663.9,1368.6 L1664.0,1380.2 L1664.8,1381.9 L1664.9,1372.4 L1665.8,1373.2 L1665.8,1383.3 L1666.7,1387.0 L1666.7,1375.4 L1667.0,1377.8 L1667.0,1387.9 L1667.4,1391.0 L1667.4,1381.6 L1667.7,1384.6 L1667.8,1393.9 L1668.1,1396.2 L1668.1,1384.8 L1668.4,1388.6 L1668.5,1398.3 L1668.8,1400.1 L1668.8,1389.8 L1669.2,1391.6 L1669.2,1403.2 L1669.4,1401.6 L1669.5,1389.5 L1669.7,1387.6 L1669.7,1397.7 L1670.0,1394.5 L1670.0,1385.8 L1670.3,1382.1 L1670.3,1392.6 L1670.6,1390.1 L1670.6,1380.6 L1670.9,1378.4 L1670.9,1388.6 L1671.1,1386.5 L1671.2,1376.6 L1671.4,1374.6 L1671.4,1383.2 L1671.7,1381.5 L1671.7,1370.8 L1672.0,1370.2 L1672.0,1379.2 L1672.3,1377.1 L1672.3,1365.5 L1673.3,1364.9 L1673.3,1376.1 L1674.3,1375.6 L1674.3,1364.1 L1675.2,1364.7 L1675.3,1374.7 L1676.2,1373.6 L1676.3,1362.9 L1677.2,1361.7 L1677.3,1373.3 L1678.0,1373.5 L1678.0,1362.8 L1678.8,1362.7 L1678.8,1373.6 L1679.6,1373.1 L1679.6,1363.2 L1680.3,1363.0 L1680.4,1374.6 L1681.3,1374.0 L1681.3,1364.7 L1682.2,1364.0 L1682.2,1373.5 L1683.1,1371.2 L1683.2,1361.8 L1684.1,1361.1 L1684.1,1372.7 L1685.0,1373.6 L1685.0,1364.1 L1685.9,1365.0 L1686.0,1374.6 L1686.9,1375.5 L1686.9,1364.6 L1687.8,1365.5 L1687.8,1377.1 L1688.3,1378.9 L1688.3,1370.2 L1688.7,1371.7 L1688.8,1381.4 L1689.2,1384.2 L1689.2,1373.1 L1689.7,1375.4 L1689.7,1387.0 L1690.6,1386.4 L1690.6,1377.0 L1691.5,1376.7 L1691.6,1388.3 L1691.8,1384.2 L1691.8,1375.4 L1692.0,1371.5 L1692.1,1381.8 L1692.3,1380.7 L1692.3,1369.5 L1692.5,1367.7 L1692.6,1378.3 L1692.8,1375.8 L1692.8,1364.2 L1693.6,1363.3 L1693.6,1374.4 L1694.3,1371.0 L1694.4,1361.9 L1695.1,1360.5 L1695.1,1371.6 L1695.9,1370.8 L1695.9,1359.2 L1696.8,1359.7 L1696.8,1368.1 L1697.6,1369.4 L1697.7,1359.0 L1698.5,1357.8 L1698.5,1368.8 L1699.4,1368.3 L1699.4,1358.4 L1700.2,1356.8 L1700.3,1368.4 L1701.0,1368.9 L1701.0,1358.4 L1701.8,1360.6 L1701.8,1371.4 L1702.6,1372.0 L1702.6,1361.9 L1703.4,1363.0 L1703.4,1374.6 L1703.7,1375.8 L1703.8,1365.4 L1704.1,1367.6 L1704.1,1378.9 L1704.5,1381.1 L1704.5,1369.7 L1704.9,1372.2 L1704.9,1382.5 L1705.2,1385.8 L1705.2,1374.2 L1705.3,1374.2 L1705.3,1385.8 L1706.0,1385.5 L1706.0,1375.4 L1706.7,1377.3 L1706.7,1385.0 L1707.4,1388.3 L1707.5,1376.7 L1708.3,1376.1 L1708.3,1385.2 L1709.1,1383.7 L1709.1,1375.7 L1709.9,1372.9 L1709.9,1384.5 L1710.3,1380.9 L1710.3,1370.8 L1710.7,1368.5 L1710.7,1378.2 L1711.0,1377.5 L1711.1,1366.5 L1711.4,1364.7 L1711.4,1373.4 L1711.8,1373.3 L1711.8,1361.7 L1712.7,1360.2 L1712.7,1370.6 L1713.7,1371.5 L1713.7,1359.9 L1714.6,1362.0 L1714.6,1371.0 L1715.5,1372.9 L1715.5,1361.9 L1716.5,1363.1 L1716.5,1373.3 L1717.4,1374.6 L1717.4,1363.0 L1718.3,1364.4 L1718.3,1372.7 L1719.3,1372.1 L1719.3,1362.6 L1720.2,1361.9 L1720.2,1372.3 L1721.1,1372.1 L1721.1,1360.5 L1722.1,1358.8 L1722.1,1368.1 L1723.0,1367.3 L1723.0,1357.3 L1723.9,1355.5 L1723.9,1366.2 L1724.9,1365.2 L1724.9,1353.6 L1725.6,1355.4 L1725.6,1363.4 L1726.4,1365.2 L1726.4,1356.7 L1727.2,1355.4 L1727.2,1366.2 L1728.0,1367.1 L1728.0,1355.5 L1728.4,1355.6 L1728.4,1364.7 L1728.8,1361.3 L1728.8,1351.6 L1729.2,1351.0 L1729.2,1360.2 L1729.6,1356.6 L1729.6,1347.9 L1730.0,1345.5 L1730.1,1355.2 L1730.4,1353.4 L1730.5,1341.8 L1731.3,1341.6 L1731.3,1351.2 L1732.1,1351.2 L1732.1,1340.5 L1732.9,1340.9 L1732.9,1348.4 L1733.7,1349.8 L1733.8,1338.7 L1734.6,1337.5 L1734.6,1349.1 L1735.5,1350.9 L1735.6,1341.2 L1736.5,1341.7 L1736.6,1351.9 L1737.5,1355.1 L1737.6,1343.5 L1738.5,1345.6 L1738.6,1357.2 L1738.7,1358.1 L1738.7,1348.5 L1738.9,1350.6 L1738.9,1362.1 L1739.1,1362.3 L1739.1,1354.1 L1739.2,1355.6 L1739.3,1367.1 L1739.4,1367.6 L1739.4,1359.9 L1739.6,1362.7 L1739.6,1370.9 L1739.8,1374.6 L1739.8,1363.0 L1740.8,1364.6 L1740.8,1375.5 L1741.8,1375.8 L1741.8,1364.6 L1742.8,1366.1 L1742.8,1376.9 L1743.8,1377.6 L1743.8,1367.0 L1744.8,1368.0 L1744.8,1379.6 L1745.7,1378.8 L1745.7,1370.7 L1746.6,1371.9 L1746.6,1380.2 L1747.5,1381.6 L1747.6,1371.9 L1748.5,1372.9 L1748.5,1384.5 L1748.8,1386.6 L1748.8,1376.6 L1749.1,1379.4 L1749.1,1389.2 L1749.4,1390.8 L1749.4,1379.9 L1749.7,1382.4 L1749.7,1391.5 L1750.0,1394.4 L1750.1,1386.1 L1750.3,1387.2 L1750.4,1398.3 L1750.7,1399.2 L1750.7,1391.3 L1751.0,1391.6 L1751.0,1403.2 L1751.9,1403.2 L1752.0,1392.2 L1752.9,1392.2 L1752.9,1402.3 L1753.9,1401.0 L1753.9,1392.3 L1754.9,1392.6 L1754.9,1402.5 L1755.9,1402.5 L1755.9,1392.3 L1756.8,1393.7 L1756.9,1402.8 L1757.8,1403.0 L1757.8,1392.9 L1758.8,1391.8 L1758.8,1403.2 L1759.8,1402.2 L1759.8,1393.9 L1760.7,1393.9 L1760.8,1400.8 L1761.7,1402.9 L1761.7,1391.7 L1762.7,1393.3 L1762.7,1402.4 L1763.7,1402.6 L1763.7,1392.3 L1764.7,1391.6 L1764.7,1403.2 L1764.8,1400.6 L1764.8,1390.8 L1765.0,1388.1 L1765.0,1398.2 L1765.1,1395.5 L1765.1,1385.0 L1765.3,1381.6 L1765.3,1392.2 L1765.4,1388.6 L1765.4,1379.7 L1765.6,1378.9 L1765.6,1388.1 L1765.7,1385.7 L1765.8,1376.5 L1765.9,1371.7 L1765.9,1383.3 L1766.8,1381.1 L1766.8,1371.4 L1767.7,1371.6 L1767.7,1380.8 L1768.6,1381.8 L1768.7,1370.2 L1769.5,1372.0 L1769.5,1382.1 L1770.4,1383.7 L1770.4,1373.1 L1771.2,1373.3 L1771.3,1383.3 L1772.1,1385.8 L1772.1,1374.2 L1772.4,1376.8 L1772.4,1387.0 L1772.6,1390.7 L1772.7,1380.0 L1772.9,1381.8 L1772.9,1392.5 L1773.2,1395.0 L1773.2,1384.2 L1773.4,1387.1 L1773.5,1398.1 L1773.7,1400.5 L1773.7,1388.6 L1774.0,1391.6 L1774.0,1403.2 L1775.0,1402.9 L1775.0,1391.0 L1776.0,1392.5 L1776.0,1402.9 L1777.0,1403.4 L1777.0,1392.5 L1777.9,1393.6 L1778.0,1402.6 L1778.9,1401.7 L1779.0,1392.8 L1779.9,1392.6 L1779.9,1401.1 L1780.9,1402.9 L1780.9,1393.6 L1781.9,1393.7 L1781.9,1402.3 L1782.9,1401.1 L1782.9,1392.3 L1783.9,1393.9 L1783.9,1401.2 L1784.9,1403.1 L1784.9,1392.0 L1785.9,1393.7 L1785.9,1402.9 L1786.9,1401.1 L1786.9,1392.3 L1787.9,1390.8 L1787.9,1403.0 L1788.8,1401.8 L1788.9,1392.1 L1789.8,1391.6 L1789.9,1401.1 L1790.8,1402.2 L1790.8,1391.6 L1791.8,1393.9 L1791.8,1402.6 L1792.8,1403.0 L1792.8,1393.6 L1793.8,1391.9 L1793.8,1401.0 L1794.8,1403.1 L1794.8,1391.8 L1795.8,1391.9 L1795.8,1403.1 L1796.8,1402.3 L1796.8,1393.3 L1797.8,1390.6 L1797.8,1402.7 L1798.8,1402.7 L1798.8,1391.9 L1799.7,1393.8 L1799.8,1403.1 L1800.7,1401.4 L1800.8,1392.5 L1801.7,1392.6 L1801.8,1401.0 L1802.7,1402.1 L1802.7,1392.2 L1803.7,1391.6 L1803.7,1403.2 L1804.7,1402.1 L1804.7,1392.8 L1805.7,1391.6 L1805.7,1403.2 L1805.8,1399.0 L1805.8,1389.2 L1805.9,1387.2 L1805.9,1396.1 L1806.0,1395.6 L1806.0,1385.6 L1806.1,1382.2 L1806.1,1393.0 L1806.2,1389.1 L1806.2,1381.7 L1806.3,1377.8 L1806.3,1388.8 L1806.4,1386.0 L1806.4,1375.5 L1806.5,1372.6 L1806.5,1384.1 L1806.6,1381.2 L1806.6,1370.4 L1806.7,1368.9 L1806.8,1379.3 L1806.8,1376.7 L1806.9,1365.8 L1806.9,1363.0 L1807.0,1374.6 L1807.7,1374.2 L1807.7,1362.8 L1808.5,1363.9 L1808.5,1372.8 L1809.3,1374.3 L1809.3,1363.9 L1810.0,1361.7 L1810.1,1373.3 L1811.0,1372.7 L1811.0,1362.8 L1812.0,1360.5 L1812.0,1371.5 L1812.9,1371.5 L1812.9,1359.9 L1813.8,1361.0 L1813.8,1372.1 L1814.6,1371.3 L1814.6,1362.2 L1815.4,1364.2 L1815.4,1374.6 L1816.3,1375.8 L1816.3,1364.2 L1816.7,1368.3 L1816.8,1377.9 L1817.2,1379.6 L1817.2,1369.4 L1817.7,1372.5 L1817.7,1381.6 L1818.1,1384.5 L1818.2,1372.9 L1819.1,1374.2 L1819.1,1383.5 L1820.1,1385.4 L1820.1,1376.3 L1821.1,1377.3 L1821.1,1386.2 L1822.0,1387.7 L1822.1,1380.2 L1823.0,1381.5 L1823.0,1390.7 L1824.0,1391.1 L1824.0,1382.7 L1825.0,1383.0 L1825.0,1392.1 L1826.0,1393.3 L1826.0,1385.1 L1826.9,1385.1 L1826.9,1395.6 L1827.9,1395.7 L1827.9,1387.6 L1828.9,1389.1 L1828.9,1399.2 L1829.9,1399.6 L1829.9,1388.9 L1830.8,1390.3 L1830.9,1401.7 L1831.8,1403.2 L1831.8,1391.6 L1832.8,1390.6 L1832.8,1401.5 L1833.8,1398.3 L1833.8,1389.7 L1834.7,1388.8 L1834.7,1398.1 L1835.7,1396.0 L1835.7,1386.0 L1836.7,1384.2 L1836.7,1393.7 L1837.6,1393.8 L1837.6,1383.6 L1838.6,1382.3 L1838.6,1391.5 L1839.6,1390.2 L1839.6,1379.7 L1840.5,1377.9 L1840.5,1389.5 L1841.5,1388.4 L1841.5,1378.5 L1842.4,1378.3 L1842.4,1388.2 L1843.3,1385.5 L1843.3,1376.2 L1844.3,1375.4 L1844.3,1387.0 L1844.9,1383.2 L1844.9,1371.9 L1845.5,1371.9 L1845.5,1380.4 L1846.1,1379.6 L1846.1,1368.0 L1846.9,1367.3 L1847.0,1378.3 L1847.8,1376.6 L1847.8,1365.5 L1848.6,1364.2 L1848.6,1375.8 L1849.5,1373.8 L1849.5,1364.4 L1850.3,1362.3 L1850.4,1373.5 L1851.2,1372.8 L1851.2,1363.4 L1852.1,1362.6 L1852.1,1370.4 L1853.0,1370.8 L1853.0,1359.2 L1853.9,1359.3 L1853.9,1368.2 L1854.8,1368.0 L1854.8,1360.3 L1855.8,1358.4 L1855.8,1369.1 L1856.7,1369.6 L1856.7,1358.0 L1857.6,1359.2 L1857.6,1367.6 L1858.6,1368.8 L1858.6,1357.3 L1859.5,1357.7 L1859.5,1366.3 L1860.4,1368.4 L1860.4,1356.8 L1860.6,1355.8 L1860.7,1365.8 L1860.8,1361.1 L1860.9,1353.4 L1861.0,1350.3 L1861.1,1360.9 L1861.3,1358.4 L1861.3,1347.0 L1861.5,1345.4 L1861.5,1353.9 L1861.7,1353.4 L1861.7,1341.8 L1862.5,1341.6 L1862.5,1351.5 L1863.3,1350.0 L1863.3,1340.7 L1864.2,1339.3 L1864.2,1350.9 L1864.9,1351.9 L1865.0,1342.8 L1865.7,1343.2 L1865.7,1353.8 L1866.5,1354.4 L1866.5,1345.5 L1867.3,1345.6 L1867.3,1357.2 L1867.6,1359.5 L1867.7,1349.2 L1868.0,1351.5 L1868.0,1360.2 L1868.4,1363.5 L1868.4,1353.3 L1868.8,1355.7 L1868.8,1365.2 L1869.1,1369.6 L1869.1,1358.0 L1870.0,1359.7 L1870.0,1370.2 L1870.8,1371.0 L1870.8,1363.5 L1871.6,1363.0 L1871.6,1374.6 L1872.6,1374.2 L1872.6,1365.2 L1873.6,1365.8 L1873.6,1373.4 L1874.6,1375.0 L1874.6,1365.5 L1875.6,1365.0 L1875.6,1375.6 L1876.6,1365.6" stroke="#ff1414" stroke-width="4.6"/>
<path d="M226.2,1147.2 L226.2,1156.6 L227.2,1156.2 L227.2,1146.6 L228.1,1145.6 L228.1,1155.0 L229.0,1153.1 L229.0,1144.0 L230.0,1142.9 L230.0,1151.8 L230.9,1151.6 L230.9,1142.8 L231.8,1140.6 L231.8,1149.7 L232.4,1151.3 L232.5,1142.6 L233.1,1145.7 L233.1,1153.0 L233.7,1153.9 L233.7,1146.0 L234.3,1147.2 L234.3,1156.6 L234.8,1158.5 L234.8,1151.1 L235.2,1152.9 L235.3,1161.2 L235.7,1163.1 L235.7,1155.0 L236.2,1157.2 L236.2,1166.6 L237.1,1167.2 L237.1,1159.6 L238.0,1159.7 L238.1,1166.9 L239.0,1168.1 L239.0,1160.0 L239.9,1160.9 L239.9,1170.3 L240.8,1169.7 L240.8,1162.7 L241.7,1161.7 L241.7,1169.2 L242.6,1168.4 L242.6,1160.1 L243.5,1162.6 L243.5,1167.7 L244.3,1169.3 L244.4,1161.4 L245.2,1160.0 L245.3,1169.1 L246.1,1168.9 L246.1,1159.8 L247.1,1160.4 L247.1,1168.6 L248.0,1168.6 L248.0,1161.1 L248.9,1162.6 L248.9,1169.5 L249.9,1168.0 L249.9,1163.0 L250.8,1161.5 L250.8,1170.3 L251.7,1170.9 L251.7,1161.9 L252.6,1162.9 L252.7,1169.0 L253.6,1171.6 L253.6,1162.2 L254.0,1159.4 L254.0,1167.7 L254.4,1164.9 L254.4,1159.2 L254.8,1154.7 L254.8,1162.9 L255.2,1161.1 L255.3,1152.4 L255.7,1148.4 L255.7,1158.6 L256.1,1156.6 L256.1,1147.2 L256.2,1144.9 L256.2,1153.8 L256.3,1149.8 L256.4,1142.4 L256.5,1140.6 L256.5,1149.1 L256.6,1146.4 L256.6,1137.6 L256.8,1135.7 L256.8,1144.9 L256.9,1139.8 L256.9,1134.6 L257.0,1130.4 L257.1,1139.1 L257.2,1136.3 L257.2,1129.0 L257.3,1124.9 L257.3,1134.3 L258.2,1132.3 L258.3,1127.3 L259.2,1125.0 L259.2,1134.1 L260.1,1135.2 L260.1,1127.8 L261.0,1127.4 L261.1,1136.7 L262.0,1135.7 L262.0,1130.0 L262.9,1129.8 L262.9,1139.2 L263.7,1136.7 L263.8,1132.0 L264.6,1129.7 L264.6,1138.5 L265.4,1138.4 L265.4,1129.3 L265.8,1130.0 L265.8,1135.2 L266.1,1135.7 L266.2,1128.4 L266.5,1127.0 L266.5,1132.9 L266.9,1132.6 L266.9,1125.7 L267.3,1123.2 L267.3,1131.1 L267.6,1130.4 L267.7,1121.3 L268.0,1123.3 L268.0,1132.2 L268.3,1134.0 L268.4,1126.7 L268.7,1128.1 L268.7,1135.6 L269.0,1135.7 L269.1,1128.7 L269.4,1132.6 L269.4,1139.1 L269.8,1141.7 L269.8,1132.3 L269.9,1134.7 L269.9,1143.5 L270.0,1145.6 L270.0,1137.7 L270.1,1140.8 L270.1,1147.5 L270.2,1149.5 L270.2,1142.9 L270.3,1143.2 L270.3,1151.4 L270.4,1152.7 L270.4,1145.1 L270.5,1148.7 L270.5,1155.5 L270.6,1156.9 L270.6,1150.4 L270.7,1151.8 L270.7,1160.3 L270.8,1161.2 L270.8,1154.7 L270.9,1156.9 L270.9,1164.1 L271.0,1167.0 L271.0,1157.9 L271.9,1158.4 L271.9,1165.8 L272.9,1164.5 L272.9,1158.7 L273.8,1158.1 L273.8,1164.0 L274.7,1165.9 L274.7,1156.8 L275.5,1157.1 L275.5,1166.8 L276.3,1165.0 L276.3,1159.6 L277.1,1159.9 L277.1,1167.5 L277.8,1168.3 L277.9,1159.2 L278.4,1157.4 L278.4,1164.1 L278.9,1162.6 L278.9,1157.6 L279.4,1154.1 L279.4,1162.0 L279.9,1160.5 L279.9,1152.7 L280.4,1149.2 L280.4,1158.1 L280.9,1156.6 L281.0,1147.2 L281.3,1145.5 L281.3,1152.5 L281.7,1152.7 L281.7,1142.6 L282.0,1142.1 L282.0,1150.6 L282.4,1149.3 L282.4,1140.6 L282.7,1138.8 L282.7,1147.6 L283.1,1143.7 L283.1,1136.8 L283.4,1135.0 L283.5,1144.1 L284.4,1141.9 L284.4,1133.3 L285.3,1134.7 L285.3,1142.5 L286.2,1142.3 L286.3,1134.0 L287.2,1133.6 L287.2,1143.0 L288.0,1143.5 L288.0,1134.4 L288.8,1135.3 L288.8,1142.5 L289.7,1144.6 L289.7,1135.5 L290.2,1134.1 L290.3,1144.1 L290.8,1142.0 L290.8,1134.1 L291.4,1131.9 L291.4,1139.2 L292.0,1139.1 L292.0,1132.4 L292.6,1131.7 L292.6,1138.0 L293.1,1137.3 L293.2,1128.2 L294.0,1130.8 L294.1,1138.3 L295.0,1138.7 L295.0,1131.0 L295.9,1132.3 L295.9,1141.7 L296.7,1140.8 L296.7,1133.4 L297.5,1134.8 L297.5,1143.4 L298.4,1144.6 L298.4,1135.5 L299.0,1134.0 L299.0,1142.3 L299.6,1140.5 L299.6,1134.6 L300.2,1130.4 L300.2,1139.4 L300.8,1138.5 L300.9,1129.8 L301.5,1127.3 L301.5,1136.7 L302.3,1135.3 L302.3,1126.6 L303.1,1126.1 L303.1,1133.9 L304.0,1134.1 L304.0,1125.0 L304.9,1126.3 L304.9,1132.7 L305.8,1131.9 L305.8,1125.4 L306.8,1126.1 L306.8,1134.2 L307.7,1134.3 L307.7,1124.9 L308.2,1128.5 L308.2,1135.2 L308.7,1138.4 L308.7,1130.7 L309.2,1134.1 L309.3,1140.6 L309.8,1143.9 L309.8,1136.0 L310.3,1137.4 L310.3,1144.9 L310.8,1149.2 L310.8,1139.8 L311.0,1143.0 L311.0,1151.1 L311.2,1152.3 L311.2,1145.4 L311.4,1145.9 L311.4,1154.0 L311.6,1156.9 L311.6,1149.3 L311.8,1150.7 L311.9,1158.5 L312.0,1160.1 L312.1,1153.5 L312.2,1154.2 L312.3,1161.5 L312.5,1165.0 L312.5,1155.9 L312.7,1157.9 L312.7,1167.0 L313.6,1164.6 L313.6,1158.2 L314.5,1156.5 L314.5,1164.2 L315.5,1162.3 L315.5,1154.8 L316.4,1153.5 L316.4,1162.9 L317.2,1159.6 L317.2,1154.3 L317.9,1151.8 L318.0,1158.8 L318.7,1159.2 L318.7,1150.8 L319.5,1149.7 L319.5,1159.1 L320.4,1157.0 L320.5,1150.3 L321.4,1147.6 L321.4,1154.5 L322.3,1154.6 L322.3,1147.0 L323.2,1144.9 L323.3,1154.0 L324.0,1156.4 L324.0,1146.9 L324.8,1149.8 L324.8,1157.1 L325.6,1158.4 L325.6,1151.5 L326.3,1151.0 L326.4,1160.4 L326.6,1161.6 L326.6,1155.7 L326.9,1155.9 L326.9,1165.0 L327.1,1165.1 L327.2,1158.3 L327.4,1161.1 L327.4,1169.4 L327.7,1170.2 L327.7,1164.5 L327.9,1167.0 L328.0,1174.4 L328.2,1176.5 L328.2,1167.1 L329.1,1167.8 L329.1,1174.8 L330.0,1174.1 L330.0,1167.0 L330.8,1167.3 L330.8,1175.7 L331.7,1174.6 L331.7,1167.0 L332.6,1166.6 L332.6,1175.7 L333.5,1173.9 L333.5,1165.5 L334.4,1165.2 L334.4,1171.6 L335.4,1170.0 L335.4,1163.8 L336.3,1159.7 L336.3,1169.1 L336.7,1166.1 L336.7,1157.3 L337.1,1155.0 L337.1,1163.1 L337.5,1161.0 L337.6,1152.9 L338.0,1150.2 L338.0,1159.1 L338.4,1155.8 L338.4,1147.3 L338.8,1144.8 L338.8,1154.2 L339.0,1151.3 L339.0,1142.5 L339.2,1140.5 L339.3,1146.9 L339.5,1146.7 L339.5,1137.3 L339.7,1135.0 L339.7,1143.1 L339.9,1139.8 L340.0,1134.1 L340.2,1129.9 L340.2,1139.1 L340.4,1135.3 L340.4,1129.5 L340.6,1124.9 L340.7,1134.3 L341.6,1132.0 L341.6,1123.1 L342.5,1124.5 L342.5,1130.5 L343.4,1129.3 L343.5,1121.4 L344.4,1119.9 L344.4,1129.3 L345.3,1126.8 L345.3,1118.4 L346.2,1116.5 L346.3,1125.0 L347.2,1123.4 L347.2,1117.5 L348.1,1113.7 L348.1,1123.1 L349.0,1123.4 L349.1,1114.6 L350.0,1115.4 L350.0,1124.2 L350.9,1124.5 L350.9,1116.3 L351.8,1116.3 L351.9,1125.4 L352.6,1127.0 L352.6,1118.1 L353.4,1120.7 L353.4,1128.4 L354.2,1130.0 L354.2,1121.7 L355.0,1122.4 L355.0,1131.8 L355.3,1134.0 L355.3,1126.6 L355.6,1127.7 L355.6,1134.5 L355.9,1138.6 L355.9,1130.1 L356.2,1132.4 L356.2,1141.1 L356.5,1144.2 L356.5,1134.3 L356.8,1137.3 L356.8,1146.7 L357.6,1145.6 L357.6,1139.8 L358.4,1138.7 L358.4,1147.3 L359.1,1146.6 L359.2,1138.8 L359.9,1139.3 L359.9,1148.4 L360.9,1146.5 L360.9,1137.5 L361.8,1138.0 L361.8,1144.9 L362.7,1141.6 L362.7,1134.6 L363.7,1132.3 L363.7,1141.7 L364.3,1138.4 L364.3,1129.9 L364.9,1127.5 L364.9,1136.9 L365.5,1134.1 L365.5,1126.6 L366.1,1122.7 L366.2,1130.2 L366.8,1129.3 L366.8,1119.9 L367.3,1118.5 L367.3,1125.2 L367.9,1126.5 L367.9,1117.9 L368.4,1116.8 L368.5,1123.1 L369.0,1119.9 L369.0,1113.7 L369.6,1111.5 L369.6,1119.7 L370.1,1118.6 L370.1,1109.5 L371.0,1110.2 L371.0,1117.4 L371.9,1118.5 L371.9,1112.1 L372.8,1111.2 L372.8,1118.5 L373.7,1120.7 L373.7,1110.9 L374.6,1114.3 L374.6,1119.3 L375.5,1121.8 L375.5,1112.4 L375.9,1115.0 L375.9,1124.2 L376.4,1126.5 L376.4,1118.1 L376.8,1121.2 L376.8,1127.7 L377.2,1129.9 L377.3,1122.5 L377.7,1125.4 L377.7,1132.7 L378.1,1136.6 L378.2,1127.6 L378.6,1129.8 L378.6,1139.2 L378.8,1141.1 L378.8,1132.8 L379.0,1135.1 L379.0,1142.5 L379.2,1145.9 L379.2,1137.4 L379.4,1141.9 L379.4,1149.2 L379.6,1149.4 L379.6,1142.5 L379.8,1145.3 L379.8,1152.2 L380.0,1154.4 L380.1,1148.9 L380.2,1150.9 L380.3,1158.9 L380.4,1161.3 L380.5,1152.4 L380.7,1154.9 L380.7,1164.1 L380.9,1166.2 L380.9,1157.4 L381.1,1159.7 L381.1,1169.1 L382.0,1169.9 L382.0,1161.6 L382.9,1161.7 L383.0,1170.8 L383.2,1167.5 L383.3,1160.6 L383.6,1158.9 L383.6,1166.1 L383.9,1164.2 L383.9,1157.7 L384.2,1154.0 L384.2,1160.7 L384.5,1160.5 L384.5,1151.5 L384.8,1149.9 L384.8,1156.8 L385.1,1156.4 L385.1,1147.1 L385.4,1147.2 L385.4,1154.4 L385.7,1152.3 L385.8,1143.9 L386.0,1141.0 L386.1,1150.4 L386.4,1148.5 L386.5,1141.3 L386.8,1139.6 L386.8,1146.4 L387.2,1144.0 L387.2,1136.3 L387.6,1135.7 L387.6,1141.7 L388.0,1140.8 L388.0,1133.5 L388.4,1131.8 L388.4,1138.9 L388.8,1137.3 L388.8,1128.2 L389.5,1130.9 L389.5,1138.6 L390.2,1139.0 L390.2,1132.4 L390.9,1133.7 L390.9,1141.1 L391.6,1143.6 L391.6,1136.4 L392.3,1137.3 L392.3,1146.7 L393.0,1146.4 L393.1,1138.9 L393.8,1139.0 L393.8,1147.5 L394.6,1146.3 L394.6,1139.0 L395.4,1139.3 L395.4,1148.4 L396.2,1146.5 L396.3,1138.3 L397.1,1137.7 L397.1,1146.1 L398.0,1143.8 L398.0,1136.0 L398.9,1135.7 L398.9,1143.1 L399.7,1142.8 L399.7,1133.7 L400.0,1137.6 L400.0,1144.3 L400.3,1144.2 L400.3,1138.4 L400.6,1139.3 L400.6,1145.3 L400.8,1147.0 L400.9,1141.2 L401.1,1141.8 L401.1,1148.7 L401.4,1151.5 L401.4,1143.4 L401.7,1145.1 L401.7,1153.3 L401.9,1153.3 L402.0,1146.5 L402.2,1148.0 L402.2,1157.1 L403.1,1154.1 L403.1,1146.7 L404.0,1146.4 L404.0,1153.9 L404.8,1151.1 L404.8,1144.9 L405.7,1143.6 L405.7,1151.2 L406.6,1150.4 L406.6,1141.0 L406.8,1141.0 L406.8,1147.0 L407.0,1146.9 L407.0,1137.0 L407.2,1134.3 L407.2,1142.1 L407.4,1140.6 L407.4,1132.9 L407.6,1130.4 L407.6,1138.0 L407.8,1136.1 L407.8,1127.0 L408.0,1125.1 L408.0,1133.9 L408.2,1130.5 L408.2,1123.3 L408.4,1119.9 L408.5,1129.3 L409.3,1128.5 L409.3,1120.1 L410.1,1118.9 L410.1,1127.9 L410.9,1127.3 L410.9,1118.2 L411.8,1119.8 L411.8,1127.7 L412.7,1126.8 L412.7,1119.2 L413.5,1120.3 L413.6,1125.7 L414.4,1126.3 L414.4,1118.2 L415.3,1118.1 L415.3,1127.2 L416.1,1125.0 L416.1,1116.6 L416.9,1116.9 L417.0,1125.9 L417.8,1125.5 L417.8,1116.1 L418.4,1116.0 L418.5,1122.4 L419.1,1122.7 L419.1,1113.8 L419.8,1113.5 L419.8,1121.3 L420.5,1119.8 L420.5,1110.7 L421.2,1113.3 L421.2,1120.2 L421.9,1123.3 L421.9,1113.9 L422.6,1117.6 L422.6,1123.6 L423.3,1126.7 L423.3,1119.0 L424.0,1119.9 L424.0,1129.3 L425.0,1128.8 L425.0,1121.0 L426.0,1123.4 L426.0,1130.8 L427.0,1129.3 L427.0,1123.7 L428.0,1124.8 L428.0,1131.8 L429.0,1133.0 L429.0,1123.6 L429.2,1127.2 L429.2,1134.0 L429.5,1135.9 L429.5,1129.1 L429.7,1131.4 L429.7,1138.6 L430.0,1141.3 L430.0,1131.8 L430.2,1135.4 L430.2,1144.7 L430.4,1147.2 L430.5,1136.8 L430.7,1140.6 L430.7,1148.0 L430.9,1151.5 L431.0,1144.3 L431.2,1147.0 L431.2,1152.1 L431.4,1156.6 L431.5,1147.2 L432.1,1148.0 L432.1,1157.2 L432.7,1157.7 L432.7,1148.6 L433.6,1150.2 L433.6,1156.3 L434.6,1158.5 L434.6,1149.5 L435.5,1149.8 L435.5,1158.4 L436.4,1158.9 L436.4,1151.6 L437.4,1151.4 L437.4,1158.7 L438.3,1160.4 L438.3,1151.0 L438.8,1149.4 L438.8,1156.4 L439.3,1155.5 L439.4,1147.3 L439.9,1145.5 L439.9,1153.3 L440.4,1151.1 L440.4,1144.1 L440.9,1141.1 L441.0,1148.6 L441.5,1146.2 L441.5,1138.9 L442.0,1134.8 L442.0,1144.2 L442.9,1142.2 L443.0,1134.4 L443.9,1134.8 L443.9,1142.9 L444.8,1141.1 L444.8,1134.6 L445.7,1132.9 L445.8,1139.7 L446.7,1140.9 L446.7,1131.7 L447.6,1131.1 L447.6,1140.5 L448.1,1137.6 L448.2,1129.6 L448.6,1127.3 L448.7,1135.0 L449.2,1133.1 L449.2,1125.5 L449.7,1123.8 L449.7,1130.1 L450.2,1127.4 L450.2,1120.4 L450.7,1117.4 L450.7,1126.8 L451.7,1123.3 L451.7,1116.8 L452.6,1115.0 L452.6,1122.4 L453.6,1122.3 L453.6,1113.2 L454.6,1114.7 L454.6,1123.5 L455.5,1124.7 L455.5,1116.1 L456.5,1118.8 L456.5,1126.5 L457.5,1128.0 L457.5,1118.6 L458.5,1120.4 L458.5,1126.9 L459.5,1130.3 L459.5,1121.8 L460.4,1122.0 L460.5,1131.2 L461.4,1132.2 L461.5,1125.0 L462.4,1124.9 L462.5,1134.3 L462.9,1135.6 L462.9,1127.5 L463.4,1131.9 L463.4,1138.6 L463.8,1141.5 L463.9,1133.0 L464.3,1134.8 L464.3,1144.2 L464.5,1145.1 L464.5,1138.8 L464.6,1140.7 L464.6,1148.1 L464.8,1150.5 L464.8,1141.9 L464.9,1145.3 L464.9,1153.2 L465.1,1155.2 L465.1,1147.6 L465.2,1149.0 L465.3,1156.9 L465.4,1158.2 L465.4,1151.1 L465.5,1153.5 L465.6,1162.9 L466.4,1161.2 L466.4,1155.8 L467.2,1155.8 L467.2,1163.1 L468.1,1162.8 L468.1,1156.6 L468.9,1156.1 L468.9,1165.2 L469.2,1162.8 L469.2,1156.1 L469.5,1153.4 L469.5,1160.9 L469.8,1159.2 L469.8,1149.7 L470.0,1148.2 L470.1,1155.4 L470.3,1153.1 L470.4,1145.7 L470.6,1143.5 L470.6,1150.9 L470.9,1148.8 L470.9,1141.3 L471.2,1139.8 L471.2,1147.4 L471.5,1145.1 L471.5,1137.4 L471.8,1134.8 L471.8,1144.2 L472.6,1142.7 L472.6,1134.6 L473.4,1134.7 L473.4,1141.5 L474.3,1141.0 L474.3,1131.9 L474.9,1134.1 L474.9,1142.4 L475.5,1143.0 L475.5,1135.2 L476.1,1137.3 L476.1,1145.4 L476.7,1147.9 L476.8,1138.5 L477.1,1141.5 L477.1,1149.0 L477.5,1149.3 L477.5,1141.8 L477.9,1143.6 L477.9,1150.9 L478.2,1153.0 L478.3,1147.3 L478.6,1146.7 L478.6,1155.8 L479.5,1156.5 L479.6,1147.8 L480.5,1148.8 L480.5,1155.7 L481.4,1157.5 L481.4,1151.6 L482.3,1150.5 L482.4,1159.6 L483.2,1159.4 L483.2,1154.0 L484.0,1154.7 L484.0,1161.7 L484.8,1164.1 L484.8,1154.7 L485.2,1158.6 L485.3,1164.9 L485.6,1166.9 L485.7,1157.8 L486.1,1161.2 L486.1,1168.8 L486.5,1169.6 L486.5,1162.2 L486.9,1165.4 L486.9,1171.4 L487.3,1175.1 L487.3,1168.3 L487.7,1167.9 L487.7,1177.0 L488.0,1173.8 L488.0,1165.8 L488.4,1164.1 L488.4,1170.5 L488.7,1170.7 L488.7,1163.6 L489.1,1159.9 L489.1,1166.8 L489.4,1165.0 L489.4,1158.2 L489.7,1155.9 L489.8,1163.5 L490.1,1161.8 L490.1,1154.9 L490.4,1151.0 L490.4,1160.4 L490.7,1155.7 L490.8,1149.5 L491.0,1146.8 L491.1,1155.3 L491.4,1151.7 L491.4,1144.0 L491.7,1142.6 L491.7,1151.3 L492.0,1147.6 L492.0,1141.4 L492.3,1139.1 L492.3,1145.2 L492.6,1142.9 L492.6,1136.0 L492.9,1132.3 L492.9,1141.7 L493.8,1140.6 L493.9,1133.4 L494.8,1132.0 L494.8,1141.0 L495.7,1140.2 L495.7,1132.8 L496.6,1131.3 L496.7,1140.4 L497.6,1140.1 L497.6,1132.2 L498.5,1131.6 L498.5,1139.7 L499.4,1139.4 L499.5,1131.0 L500.4,1131.1 L500.4,1140.5 L500.6,1141.3 L500.6,1134.4 L500.7,1136.8 L500.7,1142.9 L500.9,1147.3 L500.9,1138.6 L501.1,1139.4 L501.1,1149.7 L501.3,1152.0 L501.3,1144.9 L501.4,1144.9 L501.5,1152.9 L501.6,1156.6 L501.6,1147.2 L501.9,1149.2 L501.9,1158.3 L502.2,1158.6 L502.2,1152.7 L502.4,1154.0 L502.4,1161.1 L502.7,1162.1 L502.7,1156.6 L503.0,1157.9 L503.0,1165.2 L503.2,1167.0 L503.3,1157.9 L504.2,1157.3 L504.2,1165.0 L505.2,1164.9 L505.2,1157.4 L506.2,1157.2 L506.2,1164.3 L507.2,1164.1 L507.2,1154.7 L508.1,1152.9 L508.2,1161.0 L509.1,1159.7 L509.1,1151.4 L510.0,1148.7 L510.0,1154.8 L510.9,1154.2 L511.0,1144.8 L511.4,1144.6 L511.5,1149.8 L511.9,1147.2 L512.0,1140.5 L512.4,1138.4 L512.5,1144.7 L512.9,1143.9 L513.0,1134.8 L513.4,1132.3 L513.5,1141.7 L514.3,1139.5 L514.3,1132.6 L515.1,1134.0 L515.1,1140.2 L515.9,1141.0 L515.9,1131.9 L516.9,1134.4 L516.9,1140.4 L517.8,1141.6 L517.8,1133.4 L518.7,1135.6 L518.7,1141.2 L519.7,1144.2 L519.7,1134.8 L520.6,1138.3 L520.6,1145.6 L521.5,1146.9 L521.5,1140.7 L522.5,1143.1 L522.5,1149.1 L523.4,1152.9 L523.4,1143.5 L524.3,1146.4 L524.3,1151.7 L525.2,1154.2 L525.2,1146.3 L526.1,1146.1 L526.1,1155.2 L526.8,1153.5 L526.9,1146.2 L527.5,1142.9 L527.6,1152.7 L528.3,1150.4 L528.3,1142.4 L529.0,1141.0 L529.0,1150.4 L529.1,1147.5 L529.1,1139.6 L529.2,1138.4 L529.2,1143.5 L529.4,1141.3 L529.4,1133.9 L529.5,1132.7 L529.5,1138.7 L529.6,1137.8 L529.6,1128.6 L529.7,1126.1 L529.7,1134.5 L529.9,1130.9 L529.9,1124.9 L530.0,1121.2 L530.0,1128.3 L530.1,1125.8 L530.1,1119.9 L530.2,1116.1 L530.2,1125.5 L530.9,1124.0 L531.0,1115.5 L531.7,1113.7 L531.7,1122.7 L532.4,1120.5 L532.4,1114.1 L533.1,1110.7 L533.1,1119.8 L533.8,1120.6 L533.8,1113.8 L534.5,1115.6 L534.5,1121.1 L535.1,1123.5 L535.2,1116.8 L535.8,1117.4 L535.8,1126.8 L536.3,1128.6 L536.3,1119.7 L536.7,1121.6 L536.8,1131.7 L537.2,1132.6 L537.2,1123.6 L537.6,1127.5 L537.7,1132.6 L538.1,1136.4 L538.1,1128.0 L538.6,1129.3 L538.6,1138.4 L539.0,1136.1 L539.0,1128.9 L539.4,1126.9 L539.4,1134.0 L539.8,1132.2 L539.8,1124.6 L540.2,1124.9 L540.2,1131.7 L540.6,1128.6 L540.6,1121.7 L541.0,1120.6 L541.0,1128.5 L541.4,1127.3 L541.4,1118.2 L542.4,1121.6 L542.4,1128.4 L543.3,1128.7 L543.3,1120.5 L544.2,1121.5 L544.2,1130.1 L545.1,1131.8 L545.2,1122.4 L545.5,1126.4 L545.5,1133.5 L545.9,1134.0 L545.9,1126.2 L546.2,1128.0 L546.2,1135.5 L546.6,1137.3 L546.6,1129.9 L546.9,1132.5 L546.9,1138.9 L547.3,1142.6 L547.3,1133.8 L547.6,1135.5 L547.7,1144.6 L548.6,1142.9 L548.6,1134.0 L549.5,1132.9 L549.5,1141.0 L550.4,1137.9 L550.5,1131.8 L551.4,1128.6 L551.4,1138.0 L552.2,1135.7 L552.3,1127.9 L553.1,1127.2 L553.1,1134.7 L554.0,1134.8 L554.0,1126.9 L554.9,1127.7 L554.9,1134.6 L555.7,1134.1 L555.7,1125.0 L556.3,1127.0 L556.4,1135.5 L557.0,1136.3 L557.0,1128.0 L557.6,1129.5 L557.6,1137.2 L558.2,1138.8 L558.2,1131.3 L558.8,1132.3 L558.9,1141.7 L559.5,1141.5 L559.5,1134.1 L560.1,1136.8 L560.1,1145.8 L560.7,1146.7 L560.7,1137.9 L561.3,1141.2 L561.3,1148.6 L561.9,1150.4 L562.0,1141.4 L562.6,1143.0 L562.6,1152.1 L562.7,1148.5 L562.7,1141.7 L562.9,1140.0 L562.9,1147.6 L563.0,1145.1 L563.0,1137.1 L563.2,1134.2 L563.2,1142.2 L563.3,1139.5 L563.4,1132.8 L563.5,1131.7 L563.5,1138.2 L563.7,1136.0 L563.7,1128.2 L563.8,1125.6 L563.8,1134.1 L564.0,1130.5 L564.0,1125.2 L564.1,1122.5 L564.1,1129.9 L564.3,1127.5 L564.3,1120.6 L564.4,1116.1 L564.4,1125.5 L565.0,1123.5 L565.1,1115.0 L565.7,1114.2 L565.7,1123.3 L566.3,1122.3 L566.3,1113.2 L567.1,1117.1 L567.1,1122.9 L567.8,1125.8 L567.9,1118.5 L568.6,1119.6 L568.6,1127.2 L569.4,1129.3 L569.4,1119.9 L569.6,1123.5 L569.6,1131.5 L569.8,1133.9 L569.8,1127.1 L570.0,1127.4 L570.0,1135.6 L570.2,1138.5 L570.3,1130.2 L570.4,1132.4 L570.5,1141.6 L570.6,1143.9 L570.7,1135.2 L570.9,1139.1 L570.9,1145.5 L571.1,1147.7 L571.1,1140.0 L571.3,1142.3 L571.3,1151.7 L572.0,1151.0 L572.1,1143.6 L572.8,1142.9 L572.8,1151.0 L573.6,1151.5 L573.6,1142.8 L574.4,1143.0 L574.4,1152.1 L575.2,1150.7 L575.2,1143.4 L575.9,1142.2 L576.0,1150.7 L576.7,1150.3 L576.7,1141.9 L577.5,1140.6 L577.5,1149.7 L578.4,1149.7 L578.4,1142.2 L579.2,1142.3 L579.2,1149.8 L580.1,1149.0 L580.1,1142.2 L581.0,1141.8 L581.0,1148.8 L581.8,1150.4 L581.9,1141.0 L582.8,1143.7 L582.8,1150.6 L583.7,1152.2 L583.7,1143.6 L584.6,1147.5 L584.7,1153.8 L585.6,1157.9 L585.6,1148.5 L586.5,1151.6 L586.5,1157.3 L587.4,1159.9 L587.4,1152.2 L588.3,1152.9 L588.3,1162.0 L588.9,1160.5 L588.9,1152.9 L589.4,1153.4 L589.4,1159.0 L590.0,1159.8 L590.0,1151.3 L590.5,1150.5 L590.6,1159.6 L591.5,1159.6 L591.5,1151.6 L592.4,1152.4 L592.4,1157.8 L593.3,1157.5 L593.4,1151.1 L594.3,1150.5 L594.3,1159.6 L595.2,1156.7 L595.2,1150.5 L596.1,1151.2 L596.2,1157.2 L597.1,1156.9 L597.1,1148.6 L598.0,1147.2 L598.0,1156.6 L598.6,1153.1 L598.7,1147.3 L599.3,1143.4 L599.3,1151.7 L599.9,1147.8 L599.9,1142.7 L600.5,1138.5 L600.5,1147.9 L601.4,1145.1 L601.4,1139.3 L602.2,1139.5 L602.3,1146.8 L603.1,1145.6 L603.1,1139.1 L604.0,1136.9 L604.0,1146.0 L604.7,1145.9 L604.7,1139.9 L605.3,1140.8 L605.4,1149.3 L606.0,1151.0 L606.1,1142.7 L606.7,1143.5 L606.7,1152.9 L607.5,1153.8 L607.5,1146.1 L608.2,1146.5 L608.2,1155.1 L609.0,1157.1 L609.0,1148.0 L609.6,1147.6 L609.7,1155.4 L610.3,1152.4 L610.3,1145.6 L611.0,1143.7 L611.0,1151.8 L611.7,1150.4 L611.7,1141.0 L612.1,1141.1 L612.1,1147.1 L612.5,1144.3 L612.5,1136.6 L612.9,1134.3 L613.0,1142.7 L613.3,1141.3 L613.4,1132.4 L613.8,1131.1 L613.8,1138.5 L614.2,1136.7 L614.2,1127.3 L615.0,1127.6 L615.0,1134.8 L615.7,1136.4 L615.8,1127.0 L616.5,1130.2 L616.5,1136.4 L617.3,1137.3 L617.3,1128.2 L617.6,1129.6 L617.7,1136.5 L618.0,1138.3 L618.0,1133.0 L618.4,1134.6 L618.4,1140.6 L618.7,1141.4 L618.7,1134.4 L619.1,1137.2 L619.1,1143.5 L619.4,1145.2 L619.4,1136.8 L619.8,1138.0 L619.8,1147.1 L620.2,1144.5 L620.3,1136.8 L620.7,1135.2 L620.7,1143.3 L621.2,1142.0 L621.2,1133.7 L621.6,1131.8 L621.7,1140.6 L622.1,1137.6 L622.1,1130.1 L622.6,1130.1 L622.6,1137.3 L623.0,1135.6 L623.1,1128.4 L623.5,1125.0 L623.5,1134.1 L624.1,1133.4 L624.1,1127.1 L624.8,1128.8 L624.8,1136.9 L625.4,1138.4 L625.4,1130.8 L626.0,1131.4 L626.0,1139.9 L626.6,1141.7 L626.6,1132.3 L627.5,1136.4 L627.6,1143.8 L628.5,1144.4 L628.5,1137.0 L629.4,1139.9 L629.4,1147.8 L630.3,1150.4 L630.4,1141.0 L631.2,1142.8 L631.2,1150.1 L632.0,1152.6 L632.0,1144.4 L632.8,1146.3 L632.8,1155.1 L633.6,1155.3 L633.7,1147.7 L634.5,1149.2 L634.5,1158.3 L634.6,1154.5 L634.6,1149.1 L634.7,1143.8 L634.7,1153.5 L634.8,1151.0 L634.8,1143.0 L635.0,1140.6 L635.0,1147.6 L635.1,1147.2 L635.1,1138.2 L635.2,1137.0 L635.2,1145.0 L635.3,1142.3 L635.3,1133.5 L635.4,1131.5 L635.5,1138.8 L635.6,1137.7 L635.6,1129.4 L635.7,1126.8 L635.7,1134.4 L635.8,1132.5 L635.8,1124.6 L635.9,1122.4 L636.0,1131.8 L636.7,1129.6 L636.7,1122.1 L637.4,1123.2 L637.4,1130.8 L638.1,1130.4 L638.1,1121.3 L638.8,1124.4 L638.8,1130.2 L639.5,1132.9 L639.5,1126.5 L640.2,1127.4 L640.2,1133.3 L640.9,1136.7 L640.9,1127.3 L641.5,1129.3 L641.5,1137.3 L642.0,1141.6 L642.0,1133.4 L642.5,1135.0 L642.5,1142.2 L643.1,1144.1 L643.1,1136.4 L643.6,1137.8 L643.6,1146.2 L644.1,1147.0 L644.1,1140.6 L644.7,1141.1 L644.7,1150.2 L645.2,1147.7 L645.2,1140.1 L645.7,1137.8 L645.7,1144.6 L646.2,1143.0 L646.2,1135.9 L646.7,1133.8 L646.7,1141.6 L647.2,1139.2 L647.3,1133.3 L647.8,1129.8 L647.8,1139.2 L648.3,1136.5 L648.3,1127.4 L648.8,1126.3 L648.8,1133.5 L649.3,1131.3 L649.3,1123.1 L649.8,1122.2 L649.8,1127.7 L650.2,1126.8 L650.3,1117.4 L651.2,1119.4 L651.2,1125.5 L652.1,1127.4 L652.1,1117.5 L653.0,1117.7 L653.1,1124.7 L654.0,1125.5 L654.0,1116.1 L654.9,1116.5 L654.9,1126.5 L655.8,1125.1 L655.8,1118.1 L656.7,1116.3 L656.7,1125.4 L657.2,1124.6 L657.2,1119.5 L657.7,1120.8 L657.7,1126.5 L658.2,1129.0 L658.2,1122.1 L658.7,1122.2 L658.7,1129.8 L659.2,1130.3 L659.2,1124.1 L659.7,1126.5 L659.7,1132.5 L660.2,1134.7 L660.2,1125.6 L661.1,1125.2 L661.2,1132.9 L662.1,1132.5 L662.1,1124.1 L663.0,1123.2 L663.0,1131.8 L663.9,1131.8 L664.0,1122.4 L664.3,1120.1 L664.3,1127.7 L664.7,1126.9 L664.7,1118.6 L665.0,1116.3 L665.1,1124.6 L665.4,1120.7 L665.4,1115.2 L665.8,1111.2 L665.8,1120.6 L666.5,1120.0 L666.5,1112.4 L667.2,1112.4 L667.2,1121.1 L667.9,1122.0 L667.9,1112.9 L668.6,1116.3 L668.6,1121.5 L669.3,1123.1 L669.3,1115.8 L670.0,1117.5 L670.0,1125.3 L670.7,1127.4 L670.7,1119.7 L671.4,1119.9 L671.4,1129.3 L672.3,1130.6 L672.3,1121.4 L673.3,1123.0 L673.3,1131.1 L674.2,1133.0 L674.2,1125.2 L675.1,1126.1 L675.1,1135.5 L675.4,1137.6 L675.4,1128.5 L675.6,1130.9 L675.6,1138.2 L675.8,1142.2 L675.8,1134.0 L676.1,1135.7 L676.1,1143.8 L676.3,1147.8 L676.3,1138.8 L676.5,1142.0 L676.5,1148.5 L676.8,1149.5 L676.8,1142.5 L677.0,1144.8 L677.0,1154.2 L677.8,1155.7 L677.8,1148.7 L678.5,1150.1 L678.6,1156.9 L679.3,1161.4 L679.3,1151.3 L680.1,1153.5 L680.1,1162.9 L680.9,1163.0 L680.9,1154.3 L681.7,1156.8 L681.7,1162.8 L682.4,1162.6 L682.5,1157.5 L683.2,1156.1 L683.2,1165.2 L683.8,1161.9 L683.8,1154.8 L684.4,1152.6 L684.4,1161.2 L685.0,1160.0 L685.0,1152.2 L685.6,1150.0 L685.6,1156.6 L686.2,1156.6 L686.2,1147.2 L686.5,1146.1 L686.5,1153.8 L686.8,1150.8 L686.8,1144.1 L687.0,1141.5 L687.0,1149.0 L687.3,1146.1 L687.3,1138.7 L687.6,1135.8 L687.6,1142.8 L687.8,1141.2 L687.8,1132.3 L688.1,1129.8 L688.1,1139.2 L689.1,1137.5 L689.1,1131.5 L690.1,1131.2 L690.1,1138.6 L691.1,1138.6 L691.1,1131.8 L692.1,1130.0 L692.1,1138.7 L693.1,1139.1 L693.1,1130.0 L693.8,1132.3 L693.9,1140.4 L694.6,1140.6 L694.6,1133.2 L695.4,1133.6 L695.4,1142.6 L696.2,1144.2 L696.2,1134.8 L696.3,1139.3 L696.3,1146.3 L696.4,1148.1 L696.4,1139.4 L696.5,1142.2 L696.6,1149.6 L696.7,1151.6 L696.7,1143.3 L696.8,1147.1 L696.8,1153.5 L696.9,1155.1 L696.9,1147.9 L697.0,1151.0 L697.1,1158.5 L697.2,1159.8 L697.2,1152.7 L697.3,1154.6 L697.3,1163.0 L697.4,1165.2 L697.4,1156.1 L698.2,1156.7 L698.2,1162.7 L698.9,1162.6 L698.9,1152.8 L699.7,1151.5 L699.7,1159.3 L700.4,1158.3 L700.4,1149.2 L701.1,1147.2 L701.2,1156.6 L701.4,1153.3 L701.4,1146.4 L701.7,1144.7 L701.7,1151.0 L701.9,1147.4 L702.0,1141.4 L702.2,1137.9 L702.2,1145.5 L702.5,1144.8 L702.5,1135.8 L702.7,1134.8 L702.8,1142.5 L703.0,1140.5 L703.0,1131.1 L703.8,1132.5 L703.9,1138.7 L704.7,1139.8 L704.7,1133.1 L705.5,1131.9 L705.5,1141.0 L706.1,1142.2 L706.1,1135.5 L706.7,1136.2 L706.8,1142.5 L707.4,1145.7 L707.4,1137.1 L708.0,1138.5 L708.0,1147.9 L708.3,1149.4 L708.3,1141.3 L708.6,1142.9 L708.6,1151.1 L708.9,1155.6 L708.9,1146.2 L709.2,1147.3 L709.2,1154.2 L709.5,1158.7 L709.6,1149.9 L709.9,1153.3 L709.9,1160.8 L710.2,1162.0 L710.2,1154.8 L710.5,1157.2 L710.5,1164.7 L710.8,1165.8 L710.8,1159.7 L711.1,1160.4 L711.1,1169.5 L711.4,1165.4 L711.4,1160.3 L711.6,1157.7 L711.7,1164.5 L711.9,1162.5 L711.9,1156.3 L712.2,1153.5 L712.2,1161.0 L712.5,1159.7 L712.5,1151.5 L712.8,1151.9 L712.8,1158.3 L713.0,1156.1 L713.0,1149.4 L713.3,1146.4 L713.3,1152.9 L713.6,1153.4 L713.6,1144.3 L713.9,1146.5 L713.9,1153.4 L714.3,1157.7 L714.3,1149.7 L714.6,1149.0 L714.6,1156.4 L715.0,1157.8 L715.0,1153.0 L715.3,1152.9 L715.3,1161.3 L715.7,1161.7 L715.7,1154.4 L716.0,1158.2 L716.0,1164.7 L716.3,1164.7 L716.4,1159.4 L716.7,1159.2 L716.7,1168.3 L717.1,1165.9 L717.1,1158.9 L717.5,1157.2 L717.5,1164.1 L717.9,1161.3 L718.0,1153.8 L718.3,1153.1 L718.4,1159.8 L718.8,1156.4 L718.8,1149.3 L719.2,1147.1 L719.2,1157.7 L719.6,1152.9 L719.6,1145.2 L720.0,1144.4 L720.0,1152.3 L720.4,1150.4 L720.4,1141.0 L721.4,1141.8 L721.4,1148.1 L722.3,1147.6 L722.3,1140.5 L723.2,1138.0 L723.2,1148.1 L724.2,1147.3 L724.2,1140.2 L725.1,1138.2 L725.1,1146.5 L726.0,1146.0 L726.0,1136.9 L727.0,1138.8 L727.0,1145.6 L727.9,1144.8 L727.9,1138.5 L728.8,1140.4 L728.8,1145.4 L729.8,1147.9 L729.8,1138.5 L729.9,1141.0 L729.9,1150.0 L730.0,1152.7 L730.0,1143.9 L730.2,1146.8 L730.2,1154.0 L730.3,1155.4 L730.3,1150.3 L730.4,1150.7 L730.5,1159.0 L730.6,1161.4 L730.6,1153.2 L730.7,1155.0 L730.7,1163.2 L730.9,1166.2 L730.9,1158.5 L731.0,1159.7 L731.0,1169.1 L731.4,1168.9 L731.4,1161.5 L731.7,1163.2 L731.8,1171.0 L732.1,1174.8 L732.1,1165.9 L732.5,1166.6 L732.5,1175.7 L732.9,1172.7 L732.9,1166.4 L733.3,1162.6 L733.3,1170.3 L733.6,1168.8 L733.7,1161.6 L734.0,1159.3 L734.1,1166.8 L734.4,1164.0 L734.4,1156.1 L734.8,1154.5 L734.8,1161.5 L735.2,1160.8 L735.2,1151.8 L735.6,1150.3 L735.6,1157.8 L736.0,1156.6 L736.0,1147.2 L736.5,1145.8 L736.5,1153.2 L737.0,1151.9 L737.0,1145.9 L737.5,1144.3 L737.5,1149.9 L738.0,1150.0 L738.0,1141.2 L738.5,1139.3 L738.5,1148.4 L738.9,1149.2 L738.9,1141.7 L739.3,1144.6 L739.3,1149.9 L739.7,1151.2 L739.7,1145.4 L740.1,1145.6 L740.1,1153.3 L740.5,1155.1 L740.6,1146.7 L740.9,1148.0 L741.0,1157.1 L741.7,1155.2 L741.7,1146.2 L742.4,1144.9 L742.4,1153.3 L743.1,1150.0 L743.1,1143.8 L743.8,1142.5 L743.9,1149.7 L744.6,1147.0 L744.6,1139.6 L745.3,1137.3 L745.3,1146.7 L745.6,1142.5 L745.6,1136.1 L745.8,1133.4 L745.9,1139.6 L746.1,1138.7 L746.1,1131.3 L746.4,1127.4 L746.4,1135.2 L746.6,1133.1 L746.7,1125.7 L746.9,1123.1 L746.9,1131.0 L747.2,1129.3 L747.2,1119.9 L748.1,1120.8 L748.1,1127.2 L749.0,1129.2 L749.0,1120.1 L749.7,1122.1 L749.7,1128.6 L750.3,1131.7 L750.3,1123.1 L750.9,1125.3 L750.9,1131.4 L751.5,1134.3 L751.5,1124.9 L751.7,1127.4 L751.7,1135.0 L751.9,1138.2 L752.0,1130.3 L752.1,1133.1 L752.2,1141.7 L752.3,1141.8 L752.4,1135.9 L752.6,1137.4 L752.6,1147.8 L752.8,1148.9 L752.8,1140.1 L753.0,1144.2 L753.0,1150.7 L753.2,1153.7 L753.2,1144.8 L753.4,1147.2 L753.4,1156.6 L753.7,1159.1 L753.7,1151.1 L753.9,1151.7 L754.0,1159.7 L754.2,1160.7 L754.2,1153.6 L754.5,1156.1 L754.5,1164.3 L754.8,1165.2 L754.8,1157.7 L755.1,1160.7 L755.1,1167.8 L755.3,1169.3 L755.4,1162.0 L755.6,1162.9 L755.6,1172.0 L756.2,1170.1 L756.2,1163.0 L756.8,1158.2 L756.8,1166.4 L757.3,1165.5 L757.3,1159.4 L757.9,1156.7 L757.9,1163.3 L758.5,1162.7 L758.5,1155.3 L759.0,1151.7 L759.1,1160.9 L759.6,1159.1 L759.6,1149.7 L760.5,1148.5 L760.6,1156.0 L761.5,1156.6 L761.5,1146.2 L762.4,1144.5 L762.4,1153.3 L763.3,1151.7 L763.4,1142.3 L763.7,1141.0 L763.8,1149.2 L764.2,1147.0 L764.2,1139.6 L764.6,1136.0 L764.6,1144.8 L765.0,1141.6 L765.0,1133.4 L765.4,1132.4 L765.4,1139.6 L765.8,1138.0 L765.8,1128.6 L766.8,1130.4 L766.8,1137.9 L767.7,1137.1 L767.7,1130.8 L768.6,1130.1 L768.6,1137.1 L769.6,1138.0 L769.6,1128.6 L770.3,1131.3 L770.3,1137.9 L771.1,1141.6 L771.1,1132.4 L771.9,1136.0 L771.9,1144.3 L772.7,1145.4 L772.7,1136.0 L773.6,1138.8 L773.6,1145.4 L774.5,1145.8 L774.5,1137.1 L775.5,1139.1 L775.5,1146.5 L776.4,1147.1 L776.4,1138.0 L777.0,1136.4 L777.0,1144.5 L777.6,1143.7 L777.7,1136.4 L778.3,1133.2 L778.3,1141.1 L778.9,1140.3 L778.9,1132.0 L779.5,1129.8 L779.5,1139.2 L779.9,1135.3 L779.9,1128.3 L780.2,1128.4 L780.3,1134.9 L780.6,1133.8 L780.6,1126.7 L781.0,1123.1 L781.0,1131.4 L781.4,1130.4 L781.4,1121.3 L782.3,1122.4 L782.3,1130.2 L783.2,1131.0 L783.3,1122.1 L784.2,1121.4 L784.2,1129.4 L785.1,1131.8 L785.1,1122.4 L785.9,1124.7 L785.9,1131.4 L786.7,1133.5 L786.7,1125.2 L787.4,1125.1 L787.5,1133.3 L788.2,1134.3 L788.2,1124.9 L788.6,1128.2 L788.6,1136.3 L788.9,1138.8 L788.9,1130.9 L789.3,1134.1 L789.3,1141.2 L789.6,1143.0 L789.7,1135.9 L790.0,1138.5 L790.0,1145.8 L790.3,1148.0 L790.4,1139.3 L790.7,1141.0 L790.7,1150.4 L790.9,1152.6 L790.9,1144.7 L791.2,1145.9 L791.2,1154.8 L791.4,1155.7 L791.4,1150.4 L791.6,1152.0 L791.6,1157.7 L791.9,1160.9 L791.9,1152.9 L792.1,1155.1 L792.1,1163.0 L792.3,1165.4 L792.3,1159.6 L792.6,1159.7 L792.6,1169.1 L793.5,1166.8 L793.5,1161.5 L794.4,1159.8 L794.4,1168.9 L794.8,1165.1 L794.8,1159.5 L795.1,1157.4 L795.1,1163.1 L795.5,1161.8 L795.5,1155.8 L795.8,1153.7 L795.8,1159.0 L796.2,1158.4 L796.2,1149.6 L796.5,1148.1 L796.5,1154.5 L796.8,1152.9 L796.9,1145.8 L797.2,1145.3 L797.2,1150.7 L797.5,1150.4 L797.6,1141.0 L797.8,1140.0 L797.8,1146.3 L798.1,1144.3 L798.1,1137.5 L798.3,1135.8 L798.4,1142.8 L798.6,1140.9 L798.6,1132.2 L798.9,1130.6 L798.9,1138.5 L799.1,1135.9 L799.2,1128.6 L799.4,1124.9 L799.4,1134.3 L800.2,1133.2 L800.2,1124.0 L801.0,1125.9 L801.0,1132.6 L801.7,1134.0 L801.8,1127.9 L802.5,1126.3 L802.5,1135.4 L803.0,1134.9 L803.0,1128.8 L803.5,1129.9 L803.5,1137.1 L804.0,1140.5 L804.0,1131.4 L804.5,1134.8 L804.5,1142.1 L805.0,1144.2 L805.0,1134.8 L805.2,1137.7 L805.3,1144.1 L805.5,1146.8 L805.5,1140.7 L805.7,1141.2 L805.8,1147.4 L806.0,1151.0 L806.0,1143.6 L806.2,1144.2 L806.3,1153.3 L807.0,1150.8 L807.0,1144.6 L807.8,1140.8 L807.8,1148.2 L808.6,1146.8 L808.6,1139.7 L809.4,1137.3 L809.4,1146.7 L810.1,1146.8 L810.1,1139.1 L810.8,1140.1 L810.9,1145.0 L811.6,1147.2 L811.6,1138.1 L812.5,1140.1 L812.5,1148.3 L813.4,1149.0 L813.4,1141.3 L814.3,1141.0 L814.3,1150.4 L814.5,1151.7 L814.5,1144.0 L814.7,1146.8 L814.7,1153.0 L814.9,1155.0 L814.9,1148.5 L815.1,1150.1 L815.1,1156.5 L815.3,1159.4 L815.3,1151.2 L815.4,1154.6 L815.5,1162.6 L815.6,1161.9 L815.7,1155.6 L815.8,1157.4 L815.8,1164.0 L816.0,1168.1 L816.0,1159.7 L816.2,1161.0 L816.2,1170.1 L816.6,1165.9 L816.6,1159.6 L816.9,1159.1 L817.0,1165.5 L817.3,1163.8 L817.3,1156.7 L817.7,1153.8 L817.7,1161.2 L818.1,1159.8 L818.1,1151.4 L818.4,1149.4 L818.5,1157.1 L818.8,1154.5 L818.8,1147.0 L819.2,1147.2 L819.2,1154.9 L819.6,1151.1 L819.6,1144.6 L819.9,1141.0 L819.9,1150.4 L820.8,1149.1 L820.8,1140.3 L821.6,1140.7 L821.6,1147.3 L822.4,1147.8 L822.4,1138.7 L823.0,1142.6 L823.1,1148.1 L823.7,1150.9 L823.7,1143.9 L824.3,1144.8 L824.3,1152.2 L824.9,1154.4 L824.9,1145.0 L825.5,1147.2 L825.5,1156.6 L826.4,1154.9 L826.4,1148.7 L827.2,1147.5 L827.2,1155.3 L828.0,1155.2 L828.0,1146.1 L828.5,1146.1 L828.5,1153.2 L829.0,1149.5 L829.1,1143.2 L829.6,1142.2 L829.6,1148.4 L830.1,1146.5 L830.1,1140.0 L830.6,1136.7 L830.6,1144.9 L831.1,1144.2 L831.1,1134.8 L831.4,1132.6 L831.4,1141.5 L831.7,1137.5 L831.7,1132.1 L831.9,1127.4 L831.9,1135.9 L832.2,1133.9 L832.2,1124.3 L832.5,1124.1 L832.5,1131.7 L832.7,1128.1 L832.7,1120.1 L833.0,1117.4 L833.0,1126.8 L833.8,1125.3 L833.8,1117.2 L834.5,1116.7 L834.6,1123.8 L835.3,1123.2 L835.3,1113.7 L836.1,1112.4 L836.1,1121.8 L836.8,1120.2 L836.8,1113.4 L837.5,1112.5 L837.5,1120.4 L838.2,1120.1 L838.2,1111.0 L838.8,1114.5 L838.8,1119.7 L839.4,1123.0 L839.4,1114.6 L839.9,1117.7 L839.9,1124.2 L840.5,1126.8 L840.5,1118.3 L841.1,1119.9 L841.1,1129.3 L841.2,1130.7 L841.2,1123.7 L841.4,1126.0 L841.4,1133.7 L841.5,1134.0 L841.6,1128.3 L841.7,1131.3 L841.7,1137.5 L841.8,1139.0 L841.9,1131.5 L842.0,1134.2 L842.0,1142.8 L842.2,1145.2 L842.2,1138.3 L842.3,1138.5 L842.3,1147.9 L843.3,1146.5 L843.3,1141.0 L844.3,1139.4 L844.3,1148.5 L845.3,1146.8 L845.3,1142.1 L846.3,1141.9 L846.3,1149.2 L847.3,1149.6 L847.3,1140.5 L847.8,1139.6 L847.8,1149.1 L848.3,1143.9 L848.3,1138.4 L848.8,1136.7 L848.9,1143.8 L849.4,1142.7 L849.4,1133.5 L849.9,1132.2 L849.9,1141.0 L850.4,1139.2 L850.4,1129.8 L851.3,1128.7 L851.4,1137.3 L852.3,1135.1 L852.3,1126.1 L853.2,1125.0 L853.2,1132.4 L854.1,1131.8 L854.1,1122.4 L854.6,1122.2 L854.6,1129.0 L855.1,1127.1 L855.1,1118.0 L855.6,1116.9 L855.6,1124.8 L856.1,1122.0 L856.1,1113.4 L856.6,1111.2 L856.6,1120.6 L857.4,1120.3 L857.4,1112.7 L858.2,1112.0 L858.2,1120.4 L858.9,1120.2 L859.0,1111.4 L859.7,1111.4 L859.7,1120.5 L860.6,1119.3 L860.6,1112.4 L861.5,1113.8 L861.5,1121.5 L862.3,1122.0 L862.4,1114.1 L863.2,1113.4 L863.2,1121.2 L864.1,1123.1 L864.1,1113.7 L865.0,1115.3 L865.0,1123.4 L865.9,1119.7 L866.0,1112.9 L866.9,1114.1 L866.9,1121.4 L867.8,1121.0 L867.8,1111.9 L868.8,1113.9 L868.8,1120.7 L869.8,1119.9 L869.8,1113.6 L870.8,1113.9 L870.8,1120.3 L871.8,1122.3 L871.8,1113.2 L872.3,1114.3 L872.3,1125.0 L872.7,1125.6 L872.8,1118.9 L873.2,1119.3 L873.2,1127.6 L873.7,1129.8 L873.7,1121.9 L874.2,1124.8 L874.2,1130.4 L874.7,1134.3 L874.7,1124.9 L875.0,1127.5 L875.0,1134.9 L875.3,1137.2 L875.3,1131.6 L875.6,1133.1 L875.6,1140.0 L875.9,1142.2 L875.9,1134.6 L876.2,1137.8 L876.2,1143.9 L876.5,1147.9 L876.5,1138.5 L877.3,1140.6 L877.3,1148.5 L878.1,1147.1 L878.1,1140.5 L878.8,1141.2 L878.9,1148.2 L879.6,1150.2 L879.6,1141.1 L880.0,1139.7 L880.1,1148.0 L880.5,1145.3 L880.5,1139.7 L880.9,1137.3 L880.9,1142.3 L881.3,1142.3 L881.3,1133.5 L881.7,1133.8 L881.7,1140.6 L882.1,1139.2 L882.1,1129.8 L882.6,1130.5 L882.6,1136.1 L883.0,1136.0 L883.1,1128.9 L883.5,1126.7 L883.5,1132.7 L884.0,1133.5 L884.0,1124.4 L884.5,1127.4 L884.5,1134.4 L885.0,1135.7 L885.0,1130.0 L885.5,1129.8 L885.6,1138.9 L886.1,1138.3 L886.1,1132.8 L886.6,1134.4 L886.6,1141.0 L887.1,1144.2 L887.1,1134.8 L887.3,1136.1 L887.3,1145.9 L887.5,1146.0 L887.5,1139.3 L887.7,1142.3 L887.7,1149.3 L887.9,1152.4 L887.9,1142.6 L888.1,1145.3 L888.1,1153.7 L888.3,1154.9 L888.4,1147.6 L888.5,1149.8 L888.6,1158.0 L888.7,1160.6 L888.8,1153.0 L889.0,1155.4 L889.0,1162.7 L889.2,1163.0 L889.2,1157.5 L889.4,1157.7 L889.4,1166.6 L889.6,1168.9 L889.6,1159.8 L890.0,1159.2 L890.1,1166.0 L890.5,1165.1 L890.5,1156.2 L891.0,1155.4 L891.0,1162.4 L891.4,1161.4 L891.5,1154.2 L891.9,1151.9 L891.9,1159.6 L892.4,1156.9 L892.4,1149.0 L892.8,1148.3 L892.9,1155.6 L893.3,1154.2 L893.3,1144.8 L893.8,1142.7 L893.8,1151.6 L894.2,1148.3 L894.2,1140.7 L894.6,1137.9 L894.7,1145.9 L895.1,1144.2 L895.1,1135.5 L895.5,1134.6 L895.5,1142.5 L896.0,1140.0 L896.0,1131.1 L896.4,1128.6 L896.4,1138.0 L896.6,1135.1 L896.6,1126.2 L896.7,1124.8 L896.7,1133.2 L896.8,1128.9 L896.9,1122.4 L897.0,1119.1 L897.0,1126.2 L897.1,1124.1 L897.2,1116.8 L897.3,1114.6 L897.3,1121.5 L897.4,1120.5 L897.4,1111.9 L897.6,1110.7 L897.6,1118.3 L897.7,1116.3 L897.7,1106.8 L897.9,1104.7 L897.9,1113.3 L898.0,1110.8 L898.0,1102.5 L898.1,1100.0 L898.2,1107.6 L898.3,1106.9 L898.3,1097.5 L898.7,1097.3 L898.7,1104.2 L899.1,1101.5 L899.1,1093.5 L899.5,1091.4 L899.5,1100.4 L899.9,1096.7 L900.0,1089.2 L900.4,1086.0 L900.4,1094.8 L900.8,1093.1 L900.8,1085.6 L901.2,1085.0 L901.2,1090.6 L901.6,1087.3 L901.6,1080.7 L902.0,1078.4 L902.0,1087.5 L902.8,1088.8 L902.8,1082.3 L903.6,1083.0 L903.6,1091.0 L904.3,1092.7 L904.4,1085.2 L905.1,1085.1 L905.1,1094.5 L905.2,1095.9 L905.2,1088.3 L905.3,1090.3 L905.3,1099.3 L905.4,1101.0 L905.4,1092.6 L905.5,1095.0 L905.5,1104.1 L905.5,1106.3 L905.6,1098.2 L905.6,1101.9 L905.6,1107.1 L905.7,1111.8 L905.7,1103.1 L905.8,1105.0 L905.8,1114.0 L905.9,1116.2 L905.9,1109.4 L906.0,1111.7 L906.0,1118.1 L906.0,1120.5 L906.1,1112.7 L906.1,1116.9 L906.1,1123.5 L906.2,1126.6 L906.2,1118.4 L906.3,1120.2 L906.3,1128.7 L906.4,1131.8 L906.4,1122.4 L906.6,1124.4 L906.6,1132.2 L906.8,1133.9 L906.8,1126.9 L907.0,1129.8 L907.0,1136.3 L907.2,1139.2 L907.2,1132.0 L907.4,1132.5 L907.4,1140.8 L907.6,1143.4 L907.6,1134.3 L908.0,1133.0 L908.0,1140.3 L908.4,1140.1 L908.4,1132.7 L908.7,1129.9 L908.8,1138.6 L909.1,1137.0 L909.1,1128.6 L909.5,1127.4 L909.5,1135.0 L909.9,1133.1 L909.9,1123.9 L910.2,1123.8 L910.2,1130.1 L910.6,1129.5 L910.6,1122.9 L911.0,1120.1 L911.0,1129.2 L911.8,1128.6 L911.8,1121.2 L912.6,1123.8 L912.6,1130.1 L913.4,1132.0 L913.4,1123.2 L914.2,1124.0 L914.2,1133.2 L915.0,1134.3 L915.0,1124.9 L915.6,1127.3 L915.6,1136.5 L916.2,1139.2 L916.2,1132.2 L916.8,1134.6 L916.9,1141.6 L917.5,1144.2 L917.5,1134.8 L917.7,1137.2 L917.7,1145.5 L917.9,1148.0 L917.9,1138.7 L918.2,1141.9 L918.2,1148.6 L918.4,1151.4 L918.4,1144.1 L918.6,1146.5 L918.6,1152.8 L918.9,1154.3 L918.9,1147.1 L919.1,1150.2 L919.1,1157.6 L919.3,1159.6 L919.3,1150.5 L919.7,1149.9 L919.7,1155.9 L920.1,1154.4 L920.1,1146.6 L920.5,1144.8 L920.5,1152.7 L920.9,1151.6 L920.9,1142.9 L921.3,1142.2 L921.3,1149.9 L921.7,1146.8 L921.7,1139.1 L922.0,1138.8 L922.1,1145.9 L922.4,1144.2 L922.5,1134.8 L923.4,1133.3 L923.4,1142.2 L924.3,1139.0 L924.3,1132.9 L925.2,1129.6 L925.3,1139.2 L926.2,1136.7 L926.2,1127.3 L927.2,1126.9 L927.2,1136.2 L928.2,1133.8 L928.2,1128.5 L929.2,1125.9 L929.2,1134.4 L930.1,1133.8 L930.2,1126.8 L931.1,1124.9 L931.2,1134.3 L932.1,1132.7 L932.1,1123.9 L933.0,1124.3 L933.0,1132.0 L933.9,1129.6 L933.9,1123.4 L934.8,1123.2 L934.8,1128.0 L935.7,1129.2 L935.8,1120.1 L936.6,1121.8 L936.6,1130.5 L937.4,1131.1 L937.4,1124.1 L938.2,1123.3 L938.2,1132.2 L939.0,1133.2 L939.0,1124.6 L939.9,1124.9 L939.9,1134.3 L940.6,1135.6 L940.6,1128.5 L941.4,1127.6 L941.4,1136.9 L942.2,1138.1 L942.2,1131.0 L943.0,1130.6 L943.0,1139.7 L943.7,1139.2 L943.8,1131.2 L944.5,1132.9 L944.5,1139.6 L945.3,1137.7 L945.3,1132.6 L946.1,1130.6 L946.1,1139.7 L946.5,1141.1 L946.5,1133.5 L946.9,1135.6 L946.9,1143.2 L947.3,1143.3 L947.3,1135.9 L947.7,1137.9 L947.7,1146.1 L948.1,1148.2 L948.2,1141.2 L948.6,1141.0 L948.6,1150.4 L948.7,1152.6 L948.7,1143.8 L948.9,1146.4 L948.9,1154.0 L949.0,1155.2 L949.0,1150.1 L949.2,1152.1 L949.2,1159.4 L949.3,1161.5 L949.4,1153.2 L949.5,1157.1 L949.5,1163.8 L949.6,1166.5 L949.7,1158.9 L949.8,1159.7 L949.8,1169.1 L950.6,1169.1 L950.6,1163.6 L951.4,1163.1 L951.4,1170.8 L952.1,1172.6 L952.2,1164.5 L952.9,1166.0 L952.9,1175.1 L953.2,1171.2 L953.2,1164.4 L953.5,1162.0 L953.5,1168.8 L953.7,1168.9 L953.8,1161.0 L954.0,1158.4 L954.0,1166.4 L954.3,1164.6 L954.3,1157.5 L954.6,1152.3 L954.6,1162.3 L954.8,1160.7 L954.9,1151.5 L955.1,1150.1 L955.1,1158.1 L955.4,1156.6 L955.4,1147.2 L955.7,1145.2 L955.7,1152.9 L956.0,1150.2 L956.0,1144.3 L956.3,1140.8 L956.4,1149.1 L956.6,1145.9 L956.7,1138.2 L957.0,1136.1 L957.0,1144.0 L957.3,1141.7 L957.3,1132.3 L958.1,1134.4 L958.1,1140.1 L958.9,1140.1 L958.9,1132.0 L959.8,1131.9 L959.8,1141.0 L960.5,1141.7 L960.5,1133.3 L961.3,1135.0 L961.3,1142.1 L962.1,1143.2 L962.1,1135.8 L962.9,1134.8 L962.9,1144.2 L963.2,1145.6 L963.2,1137.5 L963.6,1139.0 L963.6,1147.7 L963.9,1149.0 L963.9,1140.9 L964.3,1142.8 L964.3,1149.7 L964.6,1153.7 L964.7,1146.4 L965.0,1148.2 L965.0,1153.8 L965.3,1157.7 L965.4,1148.6 L965.8,1147.1 L965.8,1156.1 L966.2,1152.2 L966.2,1147.3 L966.6,1144.6 L966.6,1152.7 L967.0,1150.1 L967.0,1142.5 L967.4,1140.9 L967.4,1148.7 L967.8,1147.9 L967.9,1138.5 L968.6,1139.2 L968.6,1148.0 L969.3,1148.8 L969.3,1140.2 L970.1,1140.6 L970.1,1149.7 L970.9,1147.9 L970.9,1142.0 L971.8,1142.6 L971.8,1148.7 L972.6,1150.2 L972.6,1141.8 L973.4,1141.8 L973.5,1150.9 L974.1,1149.9 L974.1,1140.3 L974.8,1140.2 L974.8,1148.4 L975.4,1146.7 L975.5,1139.7 L976.1,1138.5 L976.1,1146.8 L976.8,1146.6 L976.8,1137.5 L977.7,1138.5 L977.7,1147.3 L978.5,1147.6 L978.6,1139.7 L979.4,1140.8 L979.4,1147.2 L980.3,1150.4 L980.3,1141.0 L980.5,1143.8 L980.5,1152.2 L980.8,1154.3 L980.8,1145.2 L981.0,1147.7 L981.0,1155.9 L981.3,1157.8 L981.3,1150.5 L981.5,1152.1 L981.5,1160.3 L981.8,1161.1 L981.8,1153.6 L982.0,1155.8 L982.0,1163.9 L982.3,1164.1 L982.3,1158.7 L982.5,1159.2 L982.5,1168.3 L983.0,1164.6 L983.0,1159.1 L983.4,1155.7 L983.4,1162.2 L983.9,1162.4 L983.9,1153.4 L984.3,1151.2 L984.4,1160.1 L984.8,1156.5 L984.8,1149.8 L985.2,1147.2 L985.3,1156.6 L986.0,1153.9 L986.0,1147.8 L986.8,1144.7 L986.8,1152.4 L987.6,1151.4 L987.6,1143.1 L988.4,1141.0 L988.4,1150.4 L988.5,1147.6 L988.5,1139.5 L988.6,1135.9 L988.6,1145.4 L988.7,1142.7 L988.8,1133.3 L988.9,1132.5 L988.9,1138.4 L989.0,1137.9 L989.0,1130.7 L989.1,1126.3 L989.1,1133.9 L989.2,1131.1 L989.2,1123.7 L989.4,1123.2 L989.4,1131.6 L989.5,1127.9 L989.5,1119.8 L989.6,1116.1 L989.6,1125.5 L989.7,1121.7 L989.7,1114.8 L989.8,1113.5 L989.8,1119.9 L989.9,1115.8 L989.9,1109.0 L989.9,1106.4 L990.0,1115.4 L990.0,1113.1 L990.0,1105.2 L990.1,1101.2 L990.1,1109.9 L990.2,1106.1 L990.2,1099.5 L990.3,1096.8 L990.3,1103.4 L990.3,1103.0 L990.4,1094.8 L990.4,1092.6 L990.5,1100.7 L990.5,1098.2 L990.5,1089.7 L990.6,1087.6 L990.6,1094.7 L990.7,1091.0 L990.7,1086.1 L990.8,1081.7 L990.8,1090.2 L990.8,1088.2 L990.9,1078.8 L991.1,1078.3 L991.1,1084.3 L991.3,1083.4 L991.4,1075.8 L991.6,1073.4 L991.6,1081.4 L991.8,1077.2 L991.9,1070.4 L992.1,1069.5 L992.1,1077.0 L992.3,1073.9 L992.4,1067.8 L992.6,1063.6 L992.6,1071.1 L992.8,1068.6 L992.9,1061.4 L993.1,1059.5 L993.1,1066.8 L993.3,1064.6 L993.4,1057.8 L993.6,1054.8 L993.6,1063.9 L994.1,1065.3 L994.1,1057.1 L994.5,1061.0 L994.6,1067.2 L995.0,1069.1 L995.0,1062.2 L995.5,1064.7 L995.5,1071.0 L996.0,1072.5 L996.0,1063.0 L996.4,1066.4 L996.5,1075.8 L996.5,1078.2 L996.5,1070.4 L996.6,1070.9 L996.6,1079.0 L996.7,1081.2 L996.7,1075.0 L996.8,1077.8 L996.8,1084.3 L996.9,1088.1 L996.9,1079.0 L996.9,1081.5 L997.0,1089.9 L997.0,1092.4 L997.0,1086.0 L997.1,1088.4 L997.1,1095.4 L997.2,1096.6 L997.2,1091.1 L997.3,1093.2 L997.3,1100.0 L997.4,1101.8 L997.4,1095.5 L997.4,1097.0 L997.5,1103.9 L997.5,1106.8 L997.5,1098.9 L997.6,1101.4 L997.6,1110.5 L997.7,1113.1 L997.7,1103.7 L997.7,1106.4 L997.8,1115.0 L997.8,1117.7 L997.8,1109.6 L997.8,1113.1 L997.9,1117.9 L997.9,1122.1 L997.9,1115.5 L997.9,1115.6 L998.0,1124.8 L998.0,1126.4 L998.0,1119.2 L998.0,1120.9 L998.1,1127.6 L998.1,1130.9 L998.1,1124.7 L998.2,1125.6 L998.2,1132.3 L998.2,1136.9 L998.2,1127.6 L998.3,1130.8 L998.3,1139.2 L998.3,1141.7 L998.3,1132.3 L999.2,1134.3 L999.3,1140.2 L1000.2,1143.0 L1000.2,1134.3 L1001.1,1133.9 L1001.1,1142.6 L1002.0,1144.2 L1002.1,1134.8 L1002.4,1137.5 L1002.4,1144.3 L1002.7,1148.0 L1002.7,1140.5 L1003.1,1142.7 L1003.1,1149.1 L1003.4,1150.5 L1003.4,1141.9 L1003.8,1144.7 L1003.8,1152.3 L1004.1,1154.4 L1004.1,1147.1 L1004.4,1150.9 L1004.5,1156.5 L1004.8,1159.6 L1004.8,1150.5 L1005.5,1150.3 L1005.5,1157.0 L1006.2,1156.3 L1006.2,1147.5 L1006.9,1146.6 L1006.9,1153.1 L1007.6,1152.2 L1007.6,1144.9 L1008.3,1142.3 L1008.3,1151.7 L1008.6,1149.1 L1008.6,1139.8 L1008.9,1138.9 L1008.9,1146.4 L1009.2,1143.4 L1009.2,1134.9 L1009.5,1132.3 L1009.5,1141.7 L1010.2,1141.8 L1010.3,1134.4 L1011.0,1134.0 L1011.0,1141.6 L1011.7,1142.8 L1011.8,1133.7 L1012.2,1135.4 L1012.2,1144.3 L1012.6,1144.6 L1012.6,1136.7 L1013.0,1139.0 L1013.0,1145.2 L1013.4,1148.5 L1013.5,1140.0 L1013.9,1141.0 L1013.9,1150.4 L1014.1,1152.6 L1014.1,1143.8 L1014.3,1146.9 L1014.3,1155.7 L1014.6,1157.3 L1014.6,1148.5 L1014.8,1151.2 L1014.8,1159.6 L1015.0,1162.4 L1015.0,1154.0 L1015.3,1155.6 L1015.3,1164.2 L1015.5,1166.3 L1015.5,1159.7 L1015.7,1159.7 L1015.7,1169.1 L1016.7,1170.1 L1016.7,1161.7 L1017.6,1163.3 L1017.6,1172.4 L1018.5,1174.0 L1018.5,1167.0 L1019.5,1166.6 L1019.5,1175.7 L1020.1,1172.8 L1020.1,1165.1 L1020.7,1163.5 L1020.7,1170.2 L1021.3,1169.9 L1021.3,1161.5 L1021.9,1159.7 L1022.0,1169.1 L1022.1,1166.7 L1022.1,1158.6 L1022.3,1156.4 L1022.3,1164.9 L1022.4,1161.1 L1022.5,1153.7 L1022.6,1151.2 L1022.6,1158.8 L1022.8,1156.6 L1022.8,1147.2 L1022.9,1144.8 L1023.0,1154.2 L1023.7,1154.3 L1023.7,1146.4 L1024.4,1145.6 L1024.4,1154.7 L1025.2,1155.9 L1025.2,1147.3 L1026.0,1149.4 L1026.0,1156.2 L1026.8,1158.2 L1026.8,1152.6 L1027.5,1152.2 L1027.6,1161.6 L1028.2,1162.9 L1028.2,1157.0 L1028.8,1157.4 L1028.8,1165.7 L1029.4,1169.1 L1029.4,1159.7 L1029.8,1162.1 L1029.9,1170.0 L1030.3,1171.9 L1030.3,1163.8 L1030.7,1166.6 L1030.8,1174.4 L1031.2,1175.0 L1031.2,1168.8 L1031.6,1169.4 L1031.6,1176.1 L1032.1,1179.5 L1032.1,1171.3 L1032.5,1172.8 L1032.5,1181.9 L1032.9,1178.7 L1032.9,1171.9 L1033.3,1169.8 L1033.4,1178.1 L1033.8,1176.5 L1033.8,1169.0 L1034.2,1167.0 L1034.2,1173.7 L1034.6,1174.8 L1034.6,1164.3 L1035.0,1162.2 L1035.0,1171.6 L1035.7,1170.2 L1035.7,1163.1 L1036.4,1162.6 L1036.4,1171.0 L1037.1,1171.5 L1037.1,1162.4 L1037.5,1165.5 L1037.5,1172.2 L1037.8,1173.2 L1037.9,1166.3 L1038.2,1169.0 L1038.2,1175.5 L1038.6,1177.6 L1038.6,1171.0 L1038.9,1172.4 L1038.9,1177.5 L1039.3,1180.3 L1039.3,1173.9 L1039.6,1174.0 L1039.6,1182.4 L1040.0,1183.6 L1040.0,1175.6 L1040.3,1176.6 L1040.4,1185.7 L1040.8,1183.7 L1040.8,1175.2 L1041.3,1173.1 L1041.3,1180.5 L1041.7,1178.5 L1041.7,1170.6 L1042.2,1168.8 L1042.2,1176.0 L1042.6,1175.5 L1042.6,1167.7 L1043.1,1164.7 L1043.1,1174.1 L1043.8,1173.3 L1043.9,1166.4 L1044.6,1165.8 L1044.6,1174.4 L1045.3,1175.2 L1045.3,1166.1 L1046.0,1169.7 L1046.0,1176.7 L1046.7,1178.1 L1046.7,1171.0 L1047.4,1170.6 L1047.4,1178.2 L1048.1,1181.5 L1048.1,1172.1 L1048.3,1176.1 L1048.3,1183.7 L1048.5,1185.0 L1048.5,1177.0 L1048.8,1180.1 L1048.8,1187.9 L1049.0,1189.3 L1049.0,1181.8 L1049.2,1183.8 L1049.2,1192.6 L1049.5,1195.0 L1049.5,1186.2 L1049.7,1188.8 L1049.7,1196.4 L1049.9,1200.2 L1049.9,1190.8 L1050.8,1191.4 L1050.8,1199.6 L1051.6,1200.6 L1051.6,1193.6 L1052.4,1192.1 L1052.4,1201.2 L1053.3,1199.4 L1053.3,1191.8 L1054.2,1190.6 L1054.2,1197.6 L1055.0,1198.2 L1055.0,1191.1 L1055.9,1190.9 L1055.9,1197.9 L1056.8,1197.7 L1056.8,1188.3 L1057.7,1188.3 L1057.7,1196.5 L1058.5,1195.9 L1058.6,1188.5 L1059.4,1188.4 L1059.5,1195.3 L1060.3,1195.5 L1060.3,1187.7 L1061.2,1187.0 L1061.2,1193.7 L1062.1,1194.3 L1062.1,1185.3 L1063.0,1184.6 L1063.0,1194.0 L1063.9,1192.0 L1063.9,1184.1 L1064.7,1183.2 L1064.7,1191.6 L1065.6,1190.9 L1065.6,1182.4 L1066.5,1182.0 L1066.5,1189.6 L1067.3,1190.2 L1067.4,1180.8 L1068.2,1182.1 L1068.2,1188.7 L1069.0,1188.3 L1069.0,1181.9 L1069.8,1179.8 L1069.8,1188.9 L1070.4,1188.1 L1070.5,1181.9 L1071.1,1181.3 L1071.1,1190.7 L1071.7,1193.1 L1071.7,1185.6 L1072.3,1186.0 L1072.3,1194.0 L1072.9,1196.4 L1073.0,1187.0 L1072.9,1191.3 L1073.0,1197.5 L1073.0,1199.7 L1073.0,1192.1 L1073.0,1194.3 L1073.0,1203.6 L1073.0,1205.7 L1073.0,1196.8 L1073.0,1201.1 L1073.0,1206.5 L1073.0,1210.9 L1073.0,1201.5 L1073.4,1205.0 L1073.4,1212.2 L1073.8,1214.1 L1073.8,1206.5 L1074.2,1207.8 L1074.2,1214.9 L1074.6,1217.0 L1074.6,1210.0 L1075.0,1210.6 L1075.1,1217.3 L1075.4,1221.3 L1075.5,1212.2 L1076.2,1213.0 L1076.2,1220.0 L1076.9,1219.1 L1077.0,1210.4 L1077.7,1208.9 L1077.7,1217.5 L1078.4,1216.8 L1078.5,1210.2 L1079.2,1207.3 L1079.2,1216.4 L1079.6,1216.7 L1079.6,1210.3 L1080.1,1210.6 L1080.1,1217.4 L1080.5,1220.9 L1080.5,1213.7 L1081.0,1215.4 L1081.0,1222.6 L1081.4,1223.7 L1081.4,1216.0 L1081.8,1217.5 L1081.9,1225.9 L1082.3,1227.5 L1082.3,1218.4 L1083.2,1219.3 L1083.2,1225.6 L1084.2,1224.0 L1084.2,1216.7 L1085.1,1217.3 L1085.1,1223.4 L1086.0,1223.8 L1086.0,1214.7 L1086.3,1218.0 L1086.4,1223.6 L1086.6,1226.9 L1086.7,1219.2 L1087.0,1222.5 L1087.0,1229.2 L1087.3,1231.6 L1087.3,1223.5 L1087.6,1225.1 L1087.6,1234.4 L1087.9,1235.7 L1087.9,1226.3 L1088.4,1228.3 L1088.4,1237.4 L1088.9,1238.8 L1089.0,1230.8 L1089.5,1233.0 L1089.5,1240.5 L1090.0,1242.4 L1090.0,1233.3 L1090.3,1230.7 L1090.3,1239.5 L1090.6,1237.3 L1090.6,1229.2 L1090.8,1228.4 L1090.9,1234.2 L1091.1,1234.0 L1091.1,1225.1 L1091.4,1223.1 L1091.4,1231.3 L1091.7,1230.4 L1091.7,1222.1 L1092.0,1218.6 L1092.0,1226.5 L1092.2,1225.8 L1092.3,1216.4 L1092.3,1214.5 L1092.4,1223.6 L1092.4,1222.4 L1092.5,1214.3 L1092.5,1210.9 L1092.5,1218.6 L1092.6,1216.4 L1092.6,1209.7 L1092.7,1207.7 L1092.7,1214.4 L1092.8,1211.8 L1092.8,1204.3 L1092.9,1203.4 L1092.9,1210.6 L1093.0,1208.5 L1093.0,1201.6 L1093.1,1199.0 L1093.1,1205.6 L1093.2,1202.7 L1093.2,1196.5 L1093.3,1193.4 L1093.3,1200.7 L1093.4,1199.4 L1093.4,1191.8 L1093.5,1188.6 L1093.5,1197.7 L1094.0,1197.9 L1094.0,1190.8 L1094.5,1194.0 L1094.5,1202.9 L1095.0,1201.9 L1095.0,1194.1 L1095.5,1196.5 L1095.5,1204.4 L1096.0,1207.1 L1096.0,1197.7 L1096.2,1200.8 L1096.2,1208.9 L1096.5,1211.1 L1096.5,1202.7 L1096.7,1205.4 L1096.8,1211.6 L1097.0,1215.5 L1097.0,1205.9 L1097.3,1208.6 L1097.3,1217.0 L1097.5,1218.9 L1097.5,1210.7 L1097.8,1214.7 L1097.8,1221.6 L1098.0,1223.3 L1098.1,1214.8 L1098.3,1216.5 L1098.3,1224.7 L1098.6,1226.8 L1098.6,1218.9 L1098.8,1222.0 L1098.8,1230.3 L1099.1,1232.4 L1099.1,1223.3 L1099.4,1221.5 L1099.5,1230.5 L1099.8,1227.0 L1099.8,1219.7 L1100.1,1216.8 L1100.2,1225.1 L1100.5,1224.5 L1100.5,1218.0 L1100.9,1214.0 L1100.9,1223.2 L1101.2,1221.1 L1101.2,1213.5 L1101.6,1210.2 L1101.6,1219.6 L1102.0,1217.5 L1102.0,1209.2 L1102.4,1207.1 L1102.4,1214.8 L1102.8,1214.0 L1102.9,1205.9 L1103.3,1204.2 L1103.3,1211.1 L1103.7,1210.8 L1103.7,1201.7 L1104.6,1204.9 L1104.7,1211.7 L1105.6,1211.1 L1105.6,1206.4 L1106.5,1205.2 L1106.6,1214.6 L1106.6,1216.9 L1106.7,1208.8 L1106.7,1210.5 L1106.8,1218.6 L1106.9,1220.9 L1106.9,1213.0 L1107.0,1216.6 L1107.0,1224.5 L1107.1,1226.1 L1107.1,1218.4 L1107.2,1222.4 L1107.2,1228.9 L1107.3,1230.5 L1107.3,1224.0 L1107.4,1226.1 L1107.4,1233.6 L1107.5,1235.3 L1107.5,1229.9 L1107.6,1231.9 L1107.6,1239.2 L1107.7,1240.1 L1107.7,1234.7 L1107.8,1235.1 L1107.8,1244.5 L1108.3,1245.7 L1108.4,1238.8 L1108.9,1241.0 L1108.9,1246.7 L1109.4,1250.5 L1109.4,1241.6 L1110.0,1244.0 L1110.0,1252.7 L1110.5,1253.0 L1110.5,1245.9 L1111.1,1248.1 L1111.1,1257.3 L1111.6,1259.0 L1111.6,1250.4 L1112.1,1252.0 L1112.2,1261.1 L1112.5,1256.8 L1112.5,1249.9 L1112.9,1247.8 L1112.9,1256.9 L1113.2,1254.7 L1113.2,1246.6 L1113.6,1244.3 L1113.6,1250.6 L1113.9,1251.0 L1113.9,1243.5 L1114.3,1241.0 L1114.3,1248.0 L1114.6,1246.9 L1114.6,1237.5 L1115.2,1238.6 L1115.3,1246.6 L1115.9,1246.8 L1115.9,1237.7 L1116.8,1239.1 L1116.8,1245.8 L1117.7,1244.8 L1117.8,1238.7 L1118.7,1238.0 L1118.7,1244.8 L1119.6,1246.9 L1119.6,1237.5 L1119.9,1240.5 L1119.9,1248.0 L1120.2,1249.7 L1120.2,1243.8 L1120.5,1245.8 L1120.6,1252.8 L1120.8,1255.1 L1120.9,1248.7 L1121.2,1252.0 L1121.2,1259.3 L1121.5,1259.6 L1121.5,1252.9 L1121.8,1256.6 L1121.8,1263.1 L1122.1,1266.8 L1122.1,1257.4 L1123.0,1258.2 L1123.0,1268.2 L1124.0,1265.8 L1124.0,1259.3 L1124.9,1261.0 L1124.9,1267.6 L1125.8,1269.3 L1125.8,1259.9 L1126.3,1263.2 L1126.3,1271.2 L1126.8,1273.2 L1126.8,1265.3 L1127.2,1267.9 L1127.2,1277.5 L1127.7,1279.3 L1127.7,1269.9 L1128.5,1273.3 L1128.5,1279.4 L1129.2,1281.3 L1129.3,1273.4 L1130.0,1275.7 L1130.0,1283.9 L1130.8,1285.5 L1130.8,1276.1 L1131.8,1277.2 L1131.8,1285.1 L1132.8,1284.9 L1132.8,1278.3 L1133.8,1278.8 L1133.8,1285.3 L1134.8,1286.1 L1134.8,1278.4 L1135.8,1277.3 L1135.8,1286.7 L1136.4,1288.9 L1136.4,1281.9 L1137.0,1282.7 L1137.0,1290.1 L1137.6,1294.2 L1137.7,1284.8 L1137.7,1288.3 L1137.7,1294.5 L1137.8,1296.8 L1137.8,1290.1 L1137.9,1293.8 L1137.9,1299.4 L1137.9,1303.2 L1138.0,1296.0 L1138.0,1297.2 L1138.0,1307.5 L1138.1,1307.9 L1138.1,1299.7 L1138.2,1302.8 L1138.2,1311.4 L1138.3,1314.1 L1138.3,1304.7 L1138.6,1308.3 L1138.7,1316.1 L1139.0,1316.8 L1139.0,1311.3 L1139.4,1312.7 L1139.4,1321.1 L1139.8,1322.9 L1139.8,1315.7 L1140.1,1317.1 L1140.1,1326.5 L1140.2,1326.8 L1140.2,1320.4 L1140.3,1322.6 L1140.3,1330.9 L1140.4,1333.6 L1140.4,1324.5 L1140.5,1327.8 L1140.5,1336.1 L1140.5,1336.8 L1140.6,1329.3 L1140.6,1333.8 L1140.6,1340.6 L1140.7,1343.3 L1140.7,1335.8 L1140.8,1337.6 L1140.8,1344.0 L1140.9,1346.1 L1140.9,1340.6 L1141.0,1342.5 L1141.0,1348.7 L1141.0,1352.0 L1141.1,1343.9 L1141.1,1348.0 L1141.1,1355.1 L1141.2,1356.2 L1141.2,1348.5 L1141.3,1350.9 L1141.3,1359.8 L1141.4,1362.6 L1141.4,1353.2 L1142.1,1355.6 L1142.2,1363.1 L1142.9,1363.7 L1142.9,1355.2 L1143.7,1356.4 L1143.7,1364.4 L1144.5,1365.1 L1144.5,1355.7 L1144.9,1359.9 L1144.9,1367.3 L1145.3,1368.0 L1145.3,1360.5 L1145.7,1363.5 L1145.7,1370.5 L1146.1,1373.9 L1146.2,1365.2 L1146.6,1367.5 L1146.6,1376.1 L1147.0,1378.8 L1147.0,1369.4 L1147.4,1373.1 L1147.4,1382.6 L1147.9,1386.4 L1147.9,1376.0 L1148.3,1378.6 L1148.3,1391.7 L1148.7,1395.5 L1148.8,1381.4 L1149.2,1384.7 L1149.2,1398.7 L1149.6,1403.6 L1149.7,1387.2 L1150.1,1390.1 L1150.1,1409.2 L1151.0,1408.8 L1151.0,1391.4 L1151.9,1390.8 L1152.0,1408.4 L1152.9,1408.4 L1152.9,1392.2 L1153.8,1390.1 L1153.8,1409.2 L1154.0,1405.5 L1154.0,1389.7 L1154.2,1387.5 L1154.2,1404.2 L1154.3,1399.9 L1154.4,1383.2 L1154.5,1380.9 L1154.5,1398.6 L1154.7,1396.7 L1154.7,1379.2 L1154.9,1375.7 L1154.9,1393.6 L1155.0,1391.8 L1155.1,1372.7 L1156.0,1373.6 L1156.0,1389.3 L1156.9,1389.3 L1156.9,1370.2 L1157.9,1371.0 L1157.9,1389.1 L1158.9,1390.1 L1158.9,1374.0 L1159.9,1372.6 L1159.9,1389.3 L1160.9,1392.0 L1160.9,1373.8 L1161.9,1373.9 L1161.9,1393.0 L1162.9,1390.0 L1162.9,1373.9 L1163.9,1372.5 L1163.9,1391.4 L1164.9,1390.5 L1164.9,1373.7 L1165.9,1371.8 L1165.9,1389.1 L1166.9,1389.3 L1166.9,1370.2 L1167.9,1372.6 L1167.9,1389.7 L1168.9,1391.2 L1168.9,1372.6 L1169.9,1373.4 L1169.9,1393.4 L1170.8,1392.9 L1170.9,1375.4 L1171.8,1375.2 L1171.9,1394.3 L1172.8,1393.8 L1172.8,1375.1 L1173.8,1376.1 L1173.8,1393.2 L1174.7,1392.8 L1174.8,1375.6 L1175.7,1376.4 L1175.7,1391.8 L1176.7,1392.4 L1176.7,1373.9 L1177.6,1373.5 L1177.7,1391.9 L1178.6,1391.9 L1178.6,1374.7 L1179.6,1373.3 L1179.6,1390.6 L1180.5,1391.8 L1180.6,1372.7 L1181.4,1374.5 L1181.4,1390.8 L1182.2,1394.3 L1182.2,1376.7 L1183.0,1375.2 L1183.1,1394.3 L1183.2,1390.2 L1183.3,1373.3 L1183.4,1371.9 L1183.5,1388.3 L1183.7,1385.2 L1183.7,1367.7 L1183.9,1365.2 L1183.9,1384.0 L1184.1,1381.1 L1184.1,1363.9 L1184.3,1360.2 L1184.3,1379.3 L1184.9,1376.2 L1184.9,1358.3 L1185.5,1356.1 L1185.5,1374.6 L1186.1,1371.3 L1186.2,1354.2 L1186.8,1351.5 L1186.8,1370.6 L1187.5,1371.8 L1187.6,1354.3 L1188.3,1354.1 L1188.3,1372.8 L1189.1,1372.2 L1189.1,1357.3 L1189.9,1356.5 L1189.9,1375.6 L1190.0,1376.9 L1190.1,1360.2 L1190.2,1363.4 L1190.2,1380.3 L1190.3,1383.3 L1190.4,1363.7 L1190.5,1366.3 L1190.5,1384.9 L1190.7,1387.2 L1190.7,1368.4 L1190.8,1370.7 L1190.8,1389.3 L1191.0,1391.0 L1191.0,1373.2 L1191.1,1375.2 L1191.1,1394.3 L1192.0,1392.2 L1192.0,1375.7 L1192.9,1376.0 L1192.9,1393.8 L1193.8,1394.2 L1193.8,1376.3 L1194.7,1375.2 L1194.7,1392.9 L1195.6,1393.8 L1195.6,1377.0 L1196.5,1375.4 L1196.5,1393.1 L1197.4,1392.8 L1197.4,1374.9 L1198.3,1375.3 L1198.3,1393.3 L1199.2,1394.3 L1199.2,1375.2 L1199.8,1372.8 L1199.8,1390.6 L1200.4,1387.7 L1200.5,1370.4 L1201.1,1368.2 L1201.1,1386.2 L1201.7,1384.3 L1201.7,1365.2 L1202.6,1366.3 L1202.6,1381.1 L1203.6,1381.8 L1203.6,1362.7 L1204.5,1365.9 L1204.5,1382.7 L1205.4,1382.6 L1205.4,1366.2 L1206.4,1365.6 L1206.4,1383.0 L1207.3,1385.6 L1207.3,1366.5 L1208.1,1370.0 L1208.1,1388.6 L1208.8,1388.2 L1208.9,1371.4 L1209.6,1372.6 L1209.6,1392.5 L1210.4,1394.3 L1210.4,1375.2 L1210.9,1374.0 L1210.9,1391.1 L1211.3,1389.2 L1211.4,1372.4 L1211.8,1368.8 L1211.8,1386.8 L1212.3,1384.3 L1212.3,1365.2 L1213.0,1365.4 L1213.1,1383.1 L1213.8,1382.4 L1213.8,1363.7 L1214.6,1363.9 L1214.6,1381.3 L1215.4,1380.6 L1215.4,1361.5 L1216.3,1363.7 L1216.3,1380.4 L1217.2,1384.0 L1217.3,1365.6 L1218.2,1364.4 L1218.2,1381.1 L1219.1,1384.3 L1219.1,1365.2 L1219.7,1367.7 L1219.7,1385.4 L1220.3,1388.4 L1220.4,1370.3 L1221.0,1374.6 L1221.0,1391.1 L1221.6,1394.3 L1221.6,1375.2 L1222.6,1375.4 L1222.6,1392.5 L1223.6,1392.4 L1223.6,1375.1 L1224.6,1373.7 L1224.6,1392.3 L1225.6,1392.3 L1225.6,1373.8 L1226.6,1372.7 L1226.6,1391.8 L1227.5,1389.9 L1227.5,1374.2 L1228.4,1372.1 L1228.5,1389.4 L1229.4,1388.7 L1229.4,1372.4 L1230.3,1372.6 L1230.3,1388.2 L1231.2,1389.4 L1231.3,1370.6 L1232.2,1371.1 L1232.2,1387.3 L1233.1,1387.3 L1233.1,1371.5 L1234.0,1368.9 L1234.0,1388.0 L1235.0,1385.5 L1235.0,1368.8 L1236.0,1367.6 L1236.0,1385.4 L1237.0,1384.5 L1237.0,1366.5 L1238.0,1366.1 L1238.0,1384.0 L1239.0,1383.1 L1239.0,1364.0 L1239.8,1364.4 L1239.8,1381.7 L1240.6,1380.5 L1240.6,1363.4 L1241.3,1362.4 L1241.4,1381.7 L1242.1,1381.8 L1242.1,1362.7 L1242.7,1365.5 L1242.8,1384.0 L1243.4,1386.2 L1243.4,1368.5 L1244.0,1372.1 L1244.0,1387.4 L1244.6,1391.8 L1244.6,1372.7 L1245.0,1377.5 L1245.0,1392.8 L1245.3,1395.3 L1245.3,1376.4 L1245.7,1380.9 L1245.7,1397.2 L1246.0,1400.6 L1246.0,1382.7 L1246.4,1387.3 L1246.4,1402.7 L1246.7,1405.7 L1246.8,1388.1 L1247.1,1390.1 L1247.1,1409.2 L1247.9,1409.0 L1247.9,1391.9 L1248.7,1392.3 L1248.8,1407.0 L1249.6,1409.2 L1249.6,1390.1 L1249.8,1387.7 L1249.8,1406.1 L1249.9,1404.2 L1250.0,1385.6 L1250.1,1382.8 L1250.1,1401.3 L1250.3,1398.9 L1250.3,1381.0 L1250.5,1379.3 L1250.5,1396.6 L1250.6,1394.1 L1250.7,1377.2 L1250.8,1372.7 L1250.8,1391.8 L1251.4,1388.8 L1251.5,1370.4 L1252.1,1368.3 L1252.1,1386.0 L1252.7,1383.7 L1252.7,1367.3 L1253.3,1362.7 L1253.3,1381.8 L1254.1,1378.8 L1254.2,1363.0 L1255.0,1358.9 L1255.0,1377.6 L1255.8,1375.6 L1255.8,1356.5 L1256.4,1360.2 L1256.4,1377.1 L1257.0,1379.6 L1257.1,1361.2 L1257.7,1363.2 L1257.7,1381.3 L1258.3,1382.8 L1258.3,1365.7 L1258.9,1367.7 L1258.9,1386.8 L1259.7,1388.9 L1259.8,1370.5 L1260.6,1374.4 L1260.6,1390.1 L1261.4,1394.3 L1261.4,1375.2 L1261.6,1378.7 L1261.6,1396.7 L1261.8,1397.5 L1261.8,1381.1 L1262.0,1382.9 L1262.0,1399.4 L1262.2,1401.9 L1262.2,1385.1 L1262.4,1387.7 L1262.4,1405.4 L1262.6,1409.2 L1262.7,1390.1 L1263.6,1390.5 L1263.6,1409.1 L1264.5,1408.0 L1264.5,1392.4 L1265.4,1390.4 L1265.5,1410.1 L1266.4,1409.0 L1266.4,1390.6 L1267.3,1390.4 L1267.3,1409.0 L1268.2,1409.0 L1268.3,1391.0 L1269.2,1390.3 L1269.2,1408.9 L1270.1,1409.2 L1270.1,1390.1 L1270.6,1388.8 L1270.6,1405.4 L1271.0,1402.8 L1271.0,1385.0 L1271.5,1384.3 L1271.5,1400.6 L1271.9,1398.6 L1271.9,1382.8 L1272.4,1380.3 L1272.4,1397.1 L1272.8,1395.3 L1272.8,1376.7 L1273.3,1374.1 L1273.3,1392.5 L1273.7,1390.8 L1273.8,1371.7 L1274.6,1373.5 L1274.6,1390.3 L1275.4,1391.3 L1275.4,1376.3 L1276.2,1375.4 L1276.2,1394.5 L1276.3,1395.1 L1276.3,1378.7 L1276.4,1380.3 L1276.5,1399.1 L1276.5,1400.5 L1276.6,1383.0 L1276.6,1386.4 L1276.7,1402.1 L1276.8,1404.5 L1276.8,1387.1 L1276.9,1389.8 L1276.9,1408.2 L1277.0,1410.7 L1277.0,1391.6 L1277.8,1393.3 L1277.8,1410.2 L1278.6,1408.7 L1278.6,1393.1 L1279.4,1392.2 L1279.4,1408.8 L1280.2,1410.7 L1280.2,1391.6 L1280.3,1389.8 L1280.3,1408.0 L1280.4,1405.9 L1280.4,1387.3 L1280.5,1384.6 L1280.6,1401.9 L1280.6,1400.7 L1280.7,1383.1 L1280.8,1382.0 L1280.8,1398.9 L1280.9,1394.8 L1280.9,1378.7 L1281.0,1375.2 L1281.0,1394.2 L1281.1,1391.0 L1281.1,1372.9 L1281.2,1370.4 L1281.2,1389.5 L1282.0,1386.9 L1282.0,1370.7 L1282.7,1370.0 L1282.8,1387.9 L1283.5,1387.3 L1283.5,1369.9 L1284.3,1368.0 L1284.3,1387.1 L1285.2,1386.8 L1285.3,1370.0 L1286.2,1369.3 L1286.2,1386.7 L1287.1,1388.0 L1287.1,1371.1 L1288.0,1369.2 L1288.1,1388.3 L1288.9,1385.6 L1288.9,1369.2 L1289.7,1369.0 L1289.7,1384.8 L1290.5,1385.8 L1290.5,1366.7 L1291.5,1368.9 L1291.5,1387.6 L1292.4,1388.8 L1292.4,1369.0 L1293.3,1371.3 L1293.3,1387.6 L1294.3,1389.5 L1294.3,1370.4 L1294.4,1373.9 L1294.4,1391.4 L1294.4,1392.4 L1294.5,1376.4 L1294.5,1377.6 L1294.6,1395.9 L1294.6,1399.1 L1294.7,1382.1 L1294.7,1382.2 L1294.8,1400.4 L1294.8,1402.5 L1294.9,1385.5 L1294.9,1388.3 L1295.0,1404.5 L1295.0,1408.3 L1295.0,1389.6 L1295.1,1391.6 L1295.1,1410.7 L1296.0,1408.8 L1296.0,1391.8 L1296.8,1393.4 L1296.8,1409.9 L1297.6,1410.7 L1297.6,1391.6 L1297.7,1390.8 L1297.7,1406.6 L1297.8,1404.9 L1297.8,1387.4 L1297.9,1385.0 L1297.9,1401.6 L1297.9,1399.0 L1298.0,1382.4 L1298.0,1379.9 L1298.0,1398.0 L1298.1,1396.5 L1298.1,1379.7 L1298.2,1376.1 L1298.2,1393.5 L1298.3,1390.9 L1298.3,1373.1 L1298.4,1370.4 L1298.4,1389.5 L1299.0,1385.0 L1299.1,1370.3 L1299.7,1367.6 L1299.7,1384.9 L1300.4,1382.0 L1300.4,1363.8 L1301.1,1361.1 L1301.1,1380.2 L1301.9,1380.0 L1301.9,1363.6 L1302.6,1363.3 L1302.7,1381.0 L1303.4,1381.1 L1303.4,1364.4 L1304.2,1365.5 L1304.2,1384.6 L1305.0,1382.9 L1305.0,1367.8 L1305.8,1367.1 L1305.8,1384.9 L1306.5,1384.6 L1306.6,1368.6 L1307.3,1368.0 L1307.3,1387.1 L1308.1,1386.5 L1308.2,1368.6 L1309.0,1366.5 L1309.0,1384.4 L1309.8,1383.3 L1309.8,1364.2 L1310.7,1363.8 L1310.8,1382.1 L1311.7,1382.0 L1311.7,1363.0 L1312.6,1362.7 L1312.6,1379.7 L1313.5,1380.8 L1313.6,1361.7 L1314.5,1362.7 L1314.5,1381.6 L1315.5,1382.3 L1315.5,1363.8 L1316.5,1365.1 L1316.5,1381.9 L1317.5,1383.6 L1317.5,1364.8 L1318.5,1365.5 L1318.5,1384.6 L1319.5,1384.9 L1319.5,1366.7 L1320.5,1367.6 L1320.5,1384.7 L1321.5,1386.7 L1321.5,1367.9 L1322.5,1370.6 L1322.5,1387.5 L1323.5,1388.3 L1323.5,1369.2 L1324.4,1370.0 L1324.4,1388.5 L1325.3,1388.1 L1325.4,1370.6 L1326.3,1370.8 L1326.3,1389.0 L1327.2,1389.5 L1327.2,1370.4 L1328.1,1371.9 L1328.2,1386.5 L1329.1,1387.1 L1329.1,1369.4 L1330.0,1370.0 L1330.0,1385.3 L1330.9,1387.1 L1331.0,1368.0 L1331.9,1369.3 L1331.9,1386.4 L1332.8,1386.0 L1332.8,1369.2 L1333.7,1371.4 L1333.8,1387.7 L1334.7,1389.5 L1334.7,1370.4 L1335.5,1370.4 L1335.5,1391.0 L1336.2,1390.6 L1336.3,1372.9 L1337.0,1374.6 L1337.0,1390.9 L1337.8,1392.0 L1337.8,1372.9 L1338.4,1370.4 L1338.4,1387.9 L1339.0,1386.2 L1339.0,1369.5 L1339.7,1367.2 L1339.7,1384.5 L1340.3,1382.1 L1340.3,1363.0 L1341.2,1362.8 L1341.2,1380.3 L1342.1,1377.8 L1342.2,1362.9 L1343.1,1359.8 L1343.1,1378.8 L1344.0,1377.7 L1344.0,1358.6 L1344.9,1360.1 L1345.0,1377.6 L1345.9,1378.3 L1345.9,1360.2 L1346.8,1359.6 L1346.8,1376.3 L1347.7,1378.3 L1347.8,1359.9 L1348.7,1361.9 L1348.7,1377.6 L1349.6,1379.6 L1349.6,1360.5 L1350.2,1362.7 L1350.2,1381.7 L1350.8,1383.7 L1350.9,1365.7 L1351.5,1367.5 L1351.5,1386.1 L1352.1,1388.3 L1352.1,1369.2 L1353.1,1371.6 L1353.1,1387.3 L1354.1,1387.6 L1354.1,1372.3 L1355.1,1373.0 L1355.1,1390.3 L1356.1,1391.2 L1356.1,1374.5 L1357.1,1372.9 L1357.1,1392.0 L1358.1,1391.7 L1358.1,1375.8 L1359.1,1375.5 L1359.1,1392.6 L1360.0,1391.5 L1360.1,1375.8 L1361.0,1376.4 L1361.1,1393.0 L1362.0,1394.5 L1362.1,1375.4 L1363.0,1376.1 L1363.0,1395.1 L1363.9,1394.3 L1363.9,1376.7 L1364.8,1377.5 L1364.9,1394.9 L1365.8,1397.0 L1365.8,1377.9 L1366.5,1376.3 L1366.6,1394.1 L1367.3,1391.3 L1367.3,1374.3 L1368.1,1372.5 L1368.1,1391.6 L1368.9,1389.5 L1368.9,1370.4 L1369.7,1370.1 L1369.7,1387.5 L1370.4,1386.0 L1370.5,1369.2 L1371.2,1366.7 L1371.2,1383.5 L1372.0,1384.6 L1372.0,1365.5 L1372.8,1367.1 L1372.8,1385.9 L1373.5,1386.8 L1373.6,1368.2 L1374.3,1370.4 L1374.3,1389.2 L1375.1,1390.8 L1375.1,1371.7 L1375.9,1373.4 L1375.9,1391.4 L1376.7,1391.4 L1376.7,1374.2 L1377.4,1375.4 L1377.5,1394.2 L1378.2,1395.8 L1378.2,1376.7 L1378.8,1379.4 L1378.9,1396.5 L1379.5,1399.7 L1379.5,1382.5 L1380.1,1385.3 L1380.1,1401.9 L1380.7,1405.7 L1380.7,1385.8 L1381.3,1391.2 L1381.3,1408.1 L1381.9,1410.7 L1382.0,1391.6 L1382.9,1392.1 L1383.0,1410.5 L1383.9,1410.1 L1384.0,1393.4 L1384.9,1392.6 L1384.9,1409.4 L1385.9,1409.0 L1385.9,1391.7 L1386.9,1391.9 L1386.9,1409.5 L1387.9,1409.1 L1387.9,1393.5 L1388.9,1391.8 L1388.9,1411.0 L1389.9,1409.4 L1389.9,1393.6 L1390.9,1392.5 L1390.9,1409.8 L1391.9,1410.7 L1391.9,1391.6 L1392.4,1390.2 L1392.4,1408.1 L1392.9,1404.8 L1392.9,1387.7 L1393.4,1384.7 L1393.5,1402.6 L1394.0,1399.1 L1394.0,1384.0 L1394.5,1380.4 L1394.5,1396.0 L1395.0,1395.8 L1395.0,1376.7 L1395.5,1379.4 L1395.5,1397.2 L1396.0,1400.5 L1396.1,1383.3 L1396.6,1384.8 L1396.6,1401.8 L1397.1,1404.0 L1397.1,1389.0 L1397.6,1389.9 L1397.6,1406.0 L1398.1,1410.7 L1398.1,1391.6 L1398.7,1389.3 L1398.8,1407.6 L1399.4,1405.3 L1399.4,1386.8 L1400.0,1385.2 L1400.0,1403.0 L1400.6,1401.6 L1400.6,1382.6 L1401.2,1380.5 L1401.2,1398.8 L1401.8,1397.0 L1401.9,1377.9 L1402.7,1376.4 L1402.7,1393.2 L1403.5,1392.3 L1403.5,1374.3 L1404.3,1371.7 L1404.3,1390.8 L1405.2,1389.1 L1405.2,1371.8 L1406.0,1371.5 L1406.0,1389.3 L1406.8,1388.9 L1406.8,1369.8 L1407.7,1370.7 L1407.8,1388.9 L1408.7,1390.7 L1408.7,1373.2 L1409.6,1373.4 L1409.6,1390.2 L1410.5,1393.3 L1410.6,1374.2 L1411.4,1376.2 L1411.4,1392.2 L1412.2,1395.7 L1412.2,1378.4 L1413.0,1377.9 L1413.1,1397.0 L1413.8,1394.7 L1413.8,1378.7 L1414.6,1377.2 L1414.6,1394.0 L1415.4,1394.8 L1415.4,1376.8 L1416.1,1375.4 L1416.2,1394.5 L1416.6,1391.9 L1416.7,1373.0 L1417.1,1372.4 L1417.2,1389.4 L1417.6,1386.7 L1417.7,1368.0 L1418.1,1366.3 L1418.2,1383.4 L1418.6,1382.1 L1418.7,1363.0 L1419.5,1363.2 L1419.5,1381.2 L1420.4,1380.2 L1420.4,1361.5 L1421.2,1361.1 L1421.3,1378.7 L1422.1,1378.2 L1422.1,1360.4 L1423.0,1358.6 L1423.0,1377.7 L1423.9,1376.5 L1423.9,1361.2 L1424.9,1361.1 L1424.9,1378.4 L1425.8,1378.7 L1425.8,1362.8 L1426.7,1363.0 L1426.7,1382.1 L1427.3,1383.8 L1427.4,1365.5 L1428.0,1368.1 L1428.0,1387.7 L1428.6,1389.5 L1428.6,1370.4 L1429.4,1371.8 L1429.4,1389.2 L1430.1,1390.2 L1430.2,1373.2 L1430.9,1374.2 L1430.9,1392.7 L1431.7,1394.5 L1431.7,1375.4 L1432.2,1379.2 L1432.2,1396.8 L1432.8,1398.1 L1432.8,1380.1 L1433.3,1384.2 L1433.3,1400.1 L1433.8,1403.4 L1433.8,1384.7 L1434.4,1389.3 L1434.4,1404.1 L1434.9,1407.6 L1434.9,1390.9 L1435.4,1391.6 L1435.4,1410.7 L1436.4,1410.4 L1436.4,1391.7 L1437.3,1392.8 L1437.3,1408.8 L1438.2,1410.4 L1438.2,1391.9 L1439.2,1393.3 L1439.2,1408.6 L1440.1,1409.6 L1440.1,1391.6 L1441.0,1392.5 L1441.0,1410.6 L1442.0,1410.6 L1442.0,1391.6 L1442.9,1391.6 L1442.9,1410.7 L1443.1,1407.7 L1443.1,1390.1 L1443.2,1386.9 L1443.3,1404.7 L1443.4,1402.2 L1443.4,1384.8 L1443.6,1381.8 L1443.6,1399.7 L1443.8,1398.2 L1443.8,1380.6 L1444.0,1377.8 L1444.0,1394.0 L1444.1,1393.3 L1444.1,1374.2 L1445.1,1373.8 L1445.1,1392.2 L1446.1,1390.2 L1446.1,1372.9 L1447.1,1372.2 L1447.1,1389.2 L1448.1,1391.6 L1448.1,1371.5 L1449.1,1370.4 L1449.1,1389.5 L1449.9,1388.4 L1449.9,1371.2 L1450.7,1369.4 L1450.7,1387.8 L1451.4,1387.6 L1451.5,1369.6 L1452.2,1368.0 L1452.2,1387.1 L1453.0,1386.8 L1453.0,1368.9 L1453.8,1370.8 L1453.8,1386.8 L1454.5,1389.1 L1454.6,1371.1 L1455.3,1371.7 L1455.3,1390.8 L1455.7,1392.4 L1455.8,1373.8 L1456.2,1376.7 L1456.2,1394.1 L1456.6,1397.0 L1456.6,1377.9 L1457.2,1380.2 L1457.2,1399.3 L1457.8,1400.7 L1457.8,1383.0 L1458.4,1385.9 L1458.5,1403.8 L1459.1,1406.0 L1459.1,1388.0 L1459.7,1391.2 L1459.7,1407.2 L1460.3,1410.7 L1460.3,1391.6 L1461.3,1392.3 L1461.3,1408.9 L1462.2,1409.3 L1462.3,1393.4 L1463.2,1393.8 L1463.2,1409.5 L1464.2,1410.5 L1464.2,1392.6 L1465.2,1392.3 L1465.2,1410.7 L1466.1,1409.1 L1466.1,1392.3 L1467.1,1393.8 L1467.1,1409.9 L1468.1,1408.3 L1468.1,1391.8 L1469.0,1392.4 L1469.1,1410.2 L1470.0,1410.3 L1470.0,1392.3 L1471.0,1391.8 L1471.0,1410.5 L1472.0,1410.3 L1472.0,1391.6 L1472.9,1393.2 L1473.0,1410.3 L1473.9,1409.0 L1473.9,1392.4 L1474.9,1392.4 L1474.9,1409.4 L1475.8,1410.6 L1475.9,1393.0 L1476.8,1392.6 L1476.8,1409.8 L1477.8,1411.3 L1477.8,1391.6 L1478.8,1393.7 L1478.8,1409.4 L1479.7,1409.0 L1479.8,1391.9 L1480.7,1393.1 L1480.7,1410.4 L1481.7,1408.8 L1481.7,1393.2 L1482.6,1392.1 L1482.7,1410.6 L1483.6,1410.3 L1483.6,1392.4 L1484.6,1392.9 L1484.6,1409.7 L1485.6,1409.4 L1485.6,1391.8 L1486.5,1393.6 L1486.6,1408.4 L1487.5,1410.2 L1487.5,1390.9 L1488.5,1393.2 L1488.5,1410.2 L1489.4,1410.3 L1489.5,1391.6 L1490.4,1392.8 L1490.4,1410.1 L1491.4,1410.7 L1491.4,1391.6 L1492.0,1390.0 L1492.0,1406.3 L1492.6,1404.1 L1492.7,1386.6 L1493.3,1384.2 L1493.3,1403.2 L1493.9,1398.4 L1493.9,1382.4 L1494.5,1379.2 L1494.5,1397.2 L1495.1,1395.8 L1495.1,1376.7 L1495.9,1377.8 L1495.9,1393.0 L1496.7,1393.4 L1496.7,1377.9 L1497.5,1377.0 L1497.5,1393.2 L1498.2,1393.9 L1498.3,1374.8 L1499.0,1375.7 L1499.0,1393.9 L1499.8,1392.4 L1499.8,1376.0 L1500.6,1376.2 L1500.6,1393.1 L1501.3,1395.8 L1501.4,1376.7 L1502.3,1377.9 L1502.3,1394.2 L1503.2,1392.3 L1503.2,1376.2 L1504.1,1375.6 L1504.2,1393.8 L1505.1,1393.3 L1505.1,1374.2 L1506.0,1374.2 L1506.0,1392.4 L1506.9,1392.9 L1506.9,1375.9 L1507.8,1374.0 L1507.8,1392.1 L1508.7,1392.7 L1508.7,1373.6 L1509.6,1374.7 L1509.7,1392.5 L1510.6,1393.4 L1510.6,1376.7 L1511.5,1374.4 L1511.5,1392.6 L1512.4,1394.5 L1512.5,1375.4 L1512.8,1379.9 L1512.8,1396.4 L1513.1,1398.8 L1513.2,1381.0 L1513.5,1383.8 L1513.5,1401.1 L1513.9,1402.5 L1513.9,1386.1 L1514.2,1387.1 L1514.2,1405.9 L1514.6,1407.9 L1514.6,1390.6 L1514.9,1391.6 L1514.9,1410.7 L1515.3,1408.2 L1515.4,1389.6 L1515.8,1388.1 L1515.8,1405.8 L1516.2,1402.7 L1516.2,1385.4 L1516.6,1382.5 L1516.6,1401.0 L1517.0,1399.2 L1517.0,1381.4 L1517.4,1377.9 L1517.4,1397.0 L1517.8,1394.4 L1517.8,1376.4 L1518.2,1374.0 L1518.3,1392.7 L1518.7,1390.8 L1518.7,1371.7 L1519.6,1373.4 L1519.6,1388.0 L1520.5,1389.8 L1520.5,1372.5 L1521.4,1370.2 L1521.4,1389.3 L1522.3,1388.8 L1522.3,1372.8 L1523.1,1372.2 L1523.2,1390.5 L1524.0,1389.4 L1524.0,1372.3 L1524.9,1372.9 L1524.9,1392.0 L1525.7,1390.9 L1525.8,1373.2 L1526.6,1372.9 L1526.6,1390.5 L1527.5,1390.8 L1527.5,1372.6 L1528.4,1372.7 L1528.4,1391.3 L1529.2,1391.4 L1529.2,1372.3 L1530.1,1373.5 L1530.1,1391.3 L1530.9,1393.5 L1530.9,1375.3 L1531.7,1376.2 L1531.8,1393.7 L1532.6,1395.8 L1532.6,1376.7 L1533.5,1375.4 L1533.6,1392.5 L1534.5,1393.1 L1534.5,1374.5 L1535.4,1372.9 L1535.5,1392.0 L1536.2,1390.3 L1536.2,1372.9 L1537.0,1371.7 L1537.0,1389.3 L1537.8,1390.2 L1537.8,1371.1 L1538.6,1370.4 L1538.6,1389.5 L1539.3,1388.1 L1539.4,1372.5 L1540.1,1372.3 L1540.1,1389.2 L1540.9,1390.5 L1540.9,1373.3 L1541.7,1374.2 L1541.7,1393.3 L1541.8,1395.7 L1541.9,1377.3 L1542.0,1380.6 L1542.0,1398.1 L1542.2,1398.5 L1542.2,1383.1 L1542.4,1384.7 L1542.4,1401.2 L1542.6,1405.4 L1542.6,1387.7 L1542.7,1391.3 L1542.8,1407.7 L1542.9,1410.7 L1542.9,1391.6 L1543.9,1393.4 L1543.9,1409.0 L1544.8,1409.4 L1544.9,1393.3 L1545.8,1391.6 L1545.8,1410.7 L1546.8,1410.6 L1546.8,1393.4 L1547.7,1391.7 L1547.8,1409.1 L1548.7,1409.7 L1548.7,1392.7 L1549.7,1392.5 L1549.7,1409.9 L1550.6,1409.3 L1550.7,1391.7 L1551.6,1391.6 L1551.6,1410.7 L1551.8,1407.8 L1551.8,1390.2 L1551.9,1387.9 L1551.9,1404.0 L1552.1,1401.9 L1552.1,1386.1 L1552.2,1382.5 L1552.3,1400.9 L1552.4,1398.6 L1552.4,1380.6 L1552.5,1378.2 L1552.6,1396.4 L1552.7,1394.6 L1552.7,1375.8 L1552.9,1372.9 L1552.9,1392.0 L1553.8,1390.4 L1553.8,1372.7 L1554.7,1371.7 L1554.7,1390.8 L1555.7,1391.5 L1555.7,1372.7 L1556.6,1374.4 L1556.6,1392.6 L1557.5,1393.2 L1557.5,1374.7 L1558.5,1375.4 L1558.5,1394.5 L1558.6,1395.7 L1558.7,1378.0 L1558.8,1381.3 L1558.8,1399.1 L1559.0,1400.3 L1559.0,1383.9 L1559.2,1384.8 L1559.2,1403.6 L1559.3,1405.4 L1559.4,1387.0 L1559.5,1391.2 L1559.5,1407.4 L1559.7,1410.7 L1559.7,1391.6 L1559.9,1389.4 L1559.9,1407.0 L1560.1,1404.4 L1560.1,1387.5 L1560.2,1384.3 L1560.3,1402.8 L1560.4,1398.5 L1560.4,1380.6 L1560.6,1379.2 L1560.6,1396.7 L1560.8,1395.7 L1560.8,1376.7 L1560.9,1374.2 L1561.0,1393.3 L1561.7,1392.0 L1561.7,1374.2 L1562.4,1375.0 L1562.5,1389.9 L1563.2,1391.0 L1563.2,1371.9 L1564.0,1374.8 L1564.0,1390.9 L1564.9,1392.5 L1564.9,1374.1 L1565.7,1375.0 L1565.7,1392.0 L1566.5,1394.5 L1566.6,1375.4 L1566.7,1377.8 L1566.7,1395.0 L1566.9,1397.7 L1566.9,1380.3 L1567.1,1383.4 L1567.1,1401.3 L1567.3,1402.6 L1567.3,1384.7 L1567.4,1387.4 L1567.5,1405.3 L1567.6,1407.5 L1567.6,1389.3 L1567.8,1391.6 L1567.8,1410.7 L1568.6,1410.5 L1568.6,1391.9 L1569.3,1392.1 L1569.4,1408.7 L1570.1,1410.7 L1570.1,1392.6 L1570.9,1391.6 L1570.9,1410.7 L1571.3,1407.3 L1571.3,1389.2 L1571.6,1387.0 L1571.6,1404.9 L1572.0,1402.8 L1572.0,1386.1 L1572.3,1383.6 L1572.3,1400.7 L1572.7,1396.9 L1572.7,1380.9 L1573.0,1378.4 L1573.0,1393.4 L1573.4,1393.3 L1573.4,1374.2 L1574.3,1375.1 L1574.3,1391.3 L1575.1,1391.8 L1575.1,1373.8 L1576.0,1374.2 L1576.0,1390.0 L1576.9,1390.8 L1576.9,1371.7 L1577.9,1372.9 L1577.9,1390.4 L1578.9,1391.9 L1578.9,1373.4 L1579.9,1374.5 L1579.9,1391.9 L1580.8,1394.5 L1580.9,1375.4 L1581.0,1378.0 L1581.0,1394.7 L1581.2,1398.2 L1581.2,1382.3 L1581.4,1382.3 L1581.4,1401.1 L1581.6,1401.5 L1581.6,1385.0 L1581.7,1388.4 L1581.8,1407.0 L1581.9,1407.3 L1581.9,1391.0 L1582.1,1391.6 L1582.1,1410.7 L1583.0,1410.2 L1583.0,1391.7 L1584.0,1391.7 L1584.0,1410.5 L1584.9,1410.6 L1584.9,1392.3 L1585.8,1391.6 L1585.8,1410.7 L1586.0,1406.7 L1586.0,1390.8 L1586.2,1389.3 L1586.2,1404.9 L1586.4,1401.5 L1586.4,1385.0 L1586.5,1382.8 L1586.6,1400.2 L1586.7,1396.8 L1586.7,1380.2 L1586.9,1379.6 L1586.9,1396.7 L1587.1,1394.5 L1587.1,1375.4 L1588.0,1376.1 L1588.0,1393.0 L1588.9,1393.5 L1588.9,1376.1 L1589.8,1374.8 L1589.8,1393.9 L1590.7,1392.7 L1590.7,1376.7 L1591.5,1376.5 L1591.6,1395.4 L1592.4,1395.7 L1592.4,1377.2 L1593.3,1377.9 L1593.3,1397.0 L1593.6,1397.3 L1593.6,1382.5 L1593.9,1383.3 L1593.9,1401.6 L1594.2,1403.7 L1594.2,1386.1 L1594.5,1387.1 L1594.5,1406.0 L1594.8,1408.4 L1594.9,1391.3 L1595.1,1391.6 L1595.2,1410.7 L1596.1,1410.3 L1596.1,1392.8 L1597.1,1391.6 L1597.1,1408.4 L1598.1,1410.7 L1598.1,1393.2 L1599.0,1391.7 L1599.0,1409.4 L1600.0,1410.5 L1600.0,1392.4 L1601.0,1391.5 L1601.0,1409.5 L1601.9,1409.6 L1601.9,1392.5 L1602.9,1392.5 L1602.9,1410.3 L1603.9,1409.8 L1603.9,1391.6 L1604.8,1391.8 L1604.8,1409.8 L1605.8,1409.8 L1605.8,1392.3 L1606.8,1392.5 L1606.8,1409.0 L1607.7,1410.3 L1607.7,1391.9 L1608.7,1392.0 L1608.7,1408.3 L1609.7,1408.6 L1609.7,1393.0 L1610.6,1393.8 L1610.6,1410.1 L1611.6,1410.6 L1611.6,1392.0 L1612.6,1391.6 L1612.6,1410.7 L1612.9,1407.6 L1612.9,1389.8 L1613.2,1389.1 L1613.2,1404.5 L1613.5,1403.6 L1613.5,1384.7 L1613.8,1383.3 L1613.8,1401.4 L1614.1,1399.3 L1614.1,1380.5 L1614.4,1377.9 L1614.4,1397.0 L1615.2,1394.6 L1615.2,1379.1 L1615.9,1378.5 L1615.9,1396.0 L1616.7,1395.8 L1616.7,1376.7 L1617.2,1380.1 L1617.2,1398.2 L1617.8,1402.2 L1617.8,1384.0 L1618.3,1385.7 L1618.4,1401.5 L1618.9,1405.7 L1618.9,1386.9 L1619.5,1389.3 L1619.5,1408.0 L1620.0,1410.7 L1620.0,1391.6 L1621.0,1392.0 L1621.0,1408.4 L1621.9,1410.7 L1621.9,1391.6 L1622.9,1392.2 L1622.9,1408.9 L1623.9,1409.1 L1623.9,1392.5 L1624.9,1393.1 L1624.9,1409.8 L1625.9,1410.5 L1625.9,1391.9 L1626.9,1391.0 L1626.9,1409.2 L1627.8,1409.2 L1627.9,1393.2 L1628.8,1391.6 L1628.9,1410.8 L1629.8,1410.2 L1629.8,1393.6 L1630.8,1393.7 L1630.8,1409.4 L1631.8,1410.7 L1631.8,1392.4 L1632.8,1392.1 L1632.8,1410.1 L1633.8,1408.7 L1633.8,1393.1 L1634.8,1391.7 L1634.8,1409.8 L1635.8,1410.5 L1635.8,1392.2 L1636.8,1392.9 L1636.8,1410.2 L1637.8,1408.7 L1637.8,1392.2 L1638.8,1392.6 L1638.8,1409.1 L1639.8,1409.6 L1639.8,1392.6 L1640.7,1393.0 L1640.8,1409.2 L1641.7,1409.1 L1641.8,1392.4 L1642.7,1390.6 L1642.7,1409.0 L1643.7,1410.0 L1643.7,1391.6 L1644.7,1391.6 L1644.7,1409.8 L1645.7,1408.5 L1645.7,1393.6 L1646.7,1391.7 L1646.7,1410.4 L1647.7,1409.7 L1647.7,1393.8 L1648.7,1392.9 L1648.7,1410.9 L1649.7,1410.6 L1649.7,1393.3 L1650.7,1392.5 L1650.7,1410.7 L1651.7,1410.6 L1651.7,1392.2 L1652.6,1394.0 L1652.7,1411.5 L1653.6,1409.0 L1653.7,1393.8 L1654.6,1392.1 L1654.7,1408.4 L1655.6,1410.0 L1655.6,1391.9 L1656.6,1392.6 L1656.6,1410.6 L1657.6,1409.8 L1657.6,1392.2 L1658.6,1393.1 L1658.6,1410.1 L1659.6,1410.7 L1659.6,1392.7 L1660.6,1390.7 L1660.6,1409.2 L1661.6,1408.5 L1661.6,1393.8 L1662.6,1393.8 L1662.6,1411.2 L1663.6,1409.0 L1663.6,1392.8 L1664.6,1392.5 L1664.6,1409.6 L1665.5,1408.4 L1665.6,1392.6 L1666.5,1393.8 L1666.6,1409.4 L1667.5,1410.6 L1667.6,1391.9 L1668.5,1393.6 L1668.5,1410.2 L1669.5,1408.6 L1669.5,1393.6 L1670.5,1391.9 L1670.5,1409.7 L1671.5,1409.5 L1671.5,1391.6 L1672.5,1392.5 L1672.5,1408.3 L1673.5,1408.4 L1673.5,1393.8 L1674.5,1391.8 L1674.5,1409.0 L1675.5,1409.5 L1675.5,1393.7 L1676.5,1391.4 L1676.5,1409.9 L1677.5,1411.5 L1677.5,1392.1 L1678.4,1391.8 L1678.5,1410.4 L1679.4,1409.2 L1679.5,1391.6 L1680.4,1392.2 L1680.5,1410.7 L1681.4,1408.3 L1681.4,1392.1 L1682.4,1393.3 L1682.4,1409.0 L1683.4,1411.4 L1683.4,1393.4 L1684.4,1392.3 L1684.4,1408.4 L1685.4,1410.6 L1685.4,1392.4 L1686.4,1391.4 L1686.4,1408.7 L1687.4,1410.6 L1687.4,1394.0 L1688.4,1391.7 L1688.4,1408.5 L1689.4,1410.6 L1689.4,1393.5 L1690.4,1393.1 L1690.4,1408.9 L1691.3,1410.4 L1691.4,1391.7 L1692.3,1390.2 L1692.4,1410.3 L1693.3,1408.4 L1693.4,1392.4 L1694.3,1391.9 L1694.3,1410.5 L1695.3,1409.1 L1695.3,1392.5 L1696.3,1392.1 L1696.3,1408.5 L1697.3,1410.0 L1697.3,1393.1 L1698.3,1393.8 L1698.3,1409.6 L1699.3,1410.2 L1699.3,1393.3 L1700.3,1391.6 L1700.3,1408.6 L1701.3,1409.5 L1701.3,1393.8 L1702.3,1391.8 L1702.3,1410.6 L1703.3,1409.7 L1703.3,1391.7 L1704.2,1393.6 L1704.3,1409.5 L1705.2,1410.0 L1705.3,1392.3 L1706.2,1393.2 L1706.3,1408.7 L1707.2,1410.7 L1707.2,1391.8 L1708.2,1392.0 L1708.2,1408.3 L1709.2,1408.8 L1709.2,1393.2 L1710.2,1391.6 L1710.2,1410.7 L1710.5,1410.7 L1710.6,1391.6 L1710.8,1390.0 L1710.8,1408.1 L1711.0,1405.7 L1711.0,1386.9 L1711.2,1386.1 L1711.2,1403.5 L1711.4,1400.6 L1711.4,1382.5 L1711.6,1379.6 L1711.6,1399.3 L1711.8,1397.0 L1711.8,1377.9 L1712.7,1377.4 L1712.7,1395.2 L1713.7,1396.0 L1713.7,1376.9 L1714.2,1381.2 L1714.2,1397.2 L1714.7,1400.8 L1714.7,1383.9 L1715.2,1386.4 L1715.2,1401.7 L1715.7,1405.7 L1715.7,1387.3 L1716.2,1390.2 L1716.3,1406.8 L1716.8,1410.7 L1716.8,1391.6 L1717.7,1393.1 L1717.7,1410.1 L1718.6,1410.7 L1718.7,1391.6 L1719.6,1392.1 L1719.6,1409.8 L1720.5,1410.3 L1720.5,1391.9 L1721.4,1391.7 L1721.5,1408.4 L1722.4,1410.7 L1722.4,1392.2 L1723.3,1391.7 L1723.3,1408.4 L1724.2,1410.7 L1724.2,1391.6 L1724.5,1389.3 L1724.5,1408.1 L1724.7,1405.2 L1724.7,1387.1 L1724.9,1386.0 L1724.9,1402.8 L1725.2,1400.1 L1725.2,1382.3 L1725.4,1382.1 L1725.4,1398.5 L1725.6,1396.7 L1725.6,1378.9 L1725.9,1376.0 L1725.9,1393.5 L1726.1,1392.0 L1726.1,1372.9 L1727.1,1372.4 L1727.1,1389.3 L1728.1,1388.7 L1728.1,1370.3 L1729.1,1370.7 L1729.1,1385.2 L1730.1,1385.3 L1730.1,1367.1 L1731.1,1365.5 L1731.1,1384.6 L1731.9,1383.4 L1732.0,1366.2 L1732.8,1363.3 L1732.8,1381.6 L1733.7,1378.9 L1733.7,1364.4 L1734.6,1361.1 L1734.6,1378.9 L1735.4,1379.0 L1735.4,1359.9 L1736.2,1361.1 L1736.2,1379.9 L1737.0,1382.3 L1737.0,1363.6 L1737.8,1363.7 L1737.8,1381.8 L1738.5,1383.3 L1738.6,1364.2 L1739.4,1365.9 L1739.4,1383.3 L1740.3,1383.8 L1740.3,1367.5 L1741.1,1366.4 L1741.2,1384.1 L1742.0,1384.5 L1742.0,1368.5 L1742.9,1366.7 L1742.9,1385.8 L1743.7,1385.0 L1743.7,1368.3 L1744.4,1370.0 L1744.5,1385.9 L1745.2,1388.0 L1745.2,1369.6 L1746.0,1370.4 L1746.0,1389.5 L1746.2,1389.5 L1746.2,1372.8 L1746.4,1375.1 L1746.4,1393.7 L1746.6,1395.8 L1746.6,1378.8 L1746.8,1381.4 L1746.8,1398.1 L1747.0,1400.5 L1747.1,1383.0 L1747.2,1386.1 L1747.3,1403.2 L1747.4,1405.4 L1747.5,1388.2 L1747.7,1390.9 L1747.7,1407.8 L1747.9,1410.7 L1747.9,1391.6 L1748.9,1392.7 L1748.9,1410.7 L1749.9,1408.7 L1749.9,1391.6 L1750.8,1393.1 L1750.9,1409.2 L1751.8,1408.8 L1751.9,1391.7 L1752.8,1391.6 L1752.9,1410.7 L1753.0,1407.6 L1753.0,1389.6 L1753.1,1387.9 L1753.2,1405.4 L1753.3,1401.8 L1753.3,1387.1 L1753.5,1383.1 L1753.5,1400.6 L1753.6,1398.1 L1753.6,1380.7 L1753.8,1378.9 L1753.8,1395.9 L1753.9,1392.9 L1753.9,1375.8 L1754.1,1373.6 L1754.1,1392.7 L1754.9,1389.8 L1754.9,1374.6 L1755.7,1371.9 L1755.7,1391.0 L1756.6,1390.3 L1756.6,1373.3 L1757.5,1374.1 L1757.5,1392.0 L1758.4,1393.3 L1758.5,1374.2 L1758.7,1378.5 L1758.7,1395.7 L1759.0,1397.0 L1759.0,1380.2 L1759.2,1383.6 L1759.3,1400.2 L1759.5,1401.3 L1759.5,1384.4 L1759.8,1387.3 L1759.8,1405.5 L1760.0,1407.2 L1760.1,1389.3 L1760.3,1391.6 L1760.3,1410.7 L1761.3,1410.2 L1761.3,1393.1 L1762.3,1392.1 L1762.3,1410.7 L1763.2,1409.3 L1763.3,1392.6 L1764.2,1391.6 L1764.2,1408.4 L1765.2,1409.6 L1765.2,1393.7 L1766.2,1392.2 L1766.2,1409.6 L1767.1,1410.4 L1767.2,1393.4 L1768.1,1391.9 L1768.1,1409.8 L1769.1,1410.1 L1769.1,1392.0 L1770.1,1392.0 L1770.1,1410.5 L1771.0,1412.1 L1771.1,1391.7 L1772.0,1393.0 L1772.0,1410.7 L1773.0,1408.7 L1773.0,1392.1 L1774.0,1391.6 L1774.0,1410.7 L1774.1,1407.1 L1774.2,1390.3 L1774.3,1387.4 L1774.3,1405.1 L1774.4,1401.9 L1774.5,1384.7 L1774.6,1382.3 L1774.6,1400.1 L1774.8,1398.1 L1774.8,1380.8 L1774.9,1377.7 L1774.9,1394.1 L1775.1,1392.0 L1775.1,1374.4 L1775.2,1371.7 L1775.2,1390.8 L1776.2,1389.3 L1776.2,1370.9 L1777.1,1371.6 L1777.2,1387.0 L1778.1,1387.7 L1778.1,1368.6 L1779.0,1369.8 L1779.0,1388.0 L1779.9,1389.5 L1779.9,1371.2 L1780.8,1371.7 L1780.8,1390.8 L1781.0,1393.2 L1781.0,1375.0 L1781.1,1378.4 L1781.2,1394.3 L1781.3,1397.1 L1781.3,1377.9 L1781.4,1381.6 L1781.5,1400.2 L1781.6,1403.1 L1781.6,1384.2 L1781.8,1388.3 L1781.8,1405.1 L1781.9,1407.3 L1781.9,1389.5 L1782.1,1391.6 L1782.1,1410.7 L1783.0,1409.3 L1783.1,1393.4 L1784.0,1392.4 L1784.0,1411.0 L1785.0,1410.5 L1785.0,1392.3 L1786.0,1393.1 L1786.0,1409.2 L1787.0,1410.2 L1787.0,1391.6 L1787.9,1391.8 L1787.9,1410.7 L1788.9,1410.8 L1788.9,1392.5 L1789.9,1391.6 L1789.9,1410.6 L1790.9,1409.9 L1790.9,1391.7 L1791.8,1392.0 L1791.9,1410.2 L1792.8,1409.1 L1792.8,1392.8 L1793.8,1391.7 L1793.8,1409.2 L1794.8,1410.0 L1794.8,1393.5 L1795.7,1391.8 L1795.8,1410.4 L1796.7,1410.3 L1796.7,1393.7 L1797.7,1393.0 L1797.7,1410.0 L1798.7,1408.5 L1798.7,1392.0 L1799.7,1391.9 L1799.7,1411.9 L1800.6,1410.3 L1800.7,1392.7 L1801.6,1393.9 L1801.6,1409.7 L1802.6,1410.7 L1802.6,1391.6 L1802.7,1389.7 L1802.7,1406.8 L1802.8,1404.3 L1802.9,1386.6 L1803.0,1384.2 L1803.0,1403.2 L1803.1,1400.1 L1803.1,1383.5 L1803.2,1379.8 L1803.2,1398.1 L1803.3,1394.8 L1803.4,1378.6 L1803.5,1375.5 L1803.5,1392.0 L1803.6,1389.0 L1803.6,1372.9 L1803.7,1370.5 L1803.7,1388.2 L1803.8,1385.8 L1803.9,1366.7 L1804.7,1366.5 L1804.8,1383.0 L1805.7,1382.4 L1805.7,1366.3 L1806.6,1364.8 L1806.6,1383.9 L1807.5,1384.4 L1807.5,1367.8 L1808.5,1369.0 L1808.5,1385.9 L1809.4,1388.3 L1809.4,1369.2 L1809.9,1371.5 L1809.9,1389.2 L1810.4,1390.8 L1810.4,1375.3 L1810.8,1376.7 L1810.8,1392.5 L1811.3,1397.0 L1811.3,1377.9 L1812.1,1376.9 L1812.1,1394.1 L1813.0,1393.8 L1813.0,1376.5 L1813.8,1375.4 L1813.8,1394.5 L1814.6,1389.6 L1814.6,1375.0 L1815.4,1372.2 L1815.5,1388.8 L1816.3,1387.1 L1816.3,1368.0 L1817.3,1368.4 L1817.3,1386.1 L1818.3,1385.0 L1818.3,1366.6 L1819.3,1366.0 L1819.3,1384.2 L1820.2,1383.3 L1820.3,1366.4 L1821.2,1363.4 L1821.3,1382.5 L1822.0,1382.4 L1822.0,1364.7 L1822.8,1365.8 L1822.8,1384.0 L1823.6,1386.2 L1823.6,1367.1 L1824.4,1368.0 L1824.4,1387.1 L1825.3,1386.5 L1825.3,1368.8 L1826.2,1369.0 L1826.2,1387.1 L1827.2,1385.9 L1827.2,1370.2 L1828.1,1368.6 L1828.1,1387.7 L1828.9,1387.7 L1828.9,1369.1 L1829.6,1370.4 L1829.7,1386.7 L1830.4,1389.0 L1830.4,1370.0 L1831.2,1370.4 L1831.2,1389.5 L1831.3,1391.9 L1831.4,1373.2 L1831.5,1376.1 L1831.5,1393.1 L1831.6,1395.1 L1831.6,1378.0 L1831.7,1380.0 L1831.8,1398.2 L1831.9,1401.2 L1831.9,1382.7 L1832.0,1385.3 L1832.0,1402.7 L1832.2,1405.6 L1832.2,1388.0 L1832.3,1389.9 L1832.3,1408.2 L1832.4,1410.7 L1832.5,1391.6 L1833.3,1392.6 L1833.3,1409.1 L1834.1,1408.9 L1834.1,1393.0 L1834.9,1391.6 L1834.9,1410.7 L1835.0,1406.1 L1835.0,1389.6 L1835.0,1388.8 L1835.0,1404.3 L1835.1,1401.8 L1835.1,1385.5 L1835.1,1382.3 L1835.2,1400.2 L1835.2,1398.7 L1835.2,1380.0 L1835.2,1377.9 L1835.3,1394.7 L1835.3,1393.5 L1835.3,1374.7 L1835.3,1372.6 L1835.4,1390.5 L1835.4,1387.4 L1835.4,1372.1 L1835.4,1368.3 L1835.5,1384.5 L1835.5,1383.6 L1835.5,1365.8 L1835.5,1363.0 L1835.6,1382.1 L1836.5,1380.3 L1836.5,1364.5 L1837.4,1362.5 L1837.4,1380.5 L1838.3,1380.6 L1838.3,1361.5 L1839.2,1363.0 L1839.2,1380.2 L1840.0,1378.9 L1840.0,1361.8 L1840.9,1361.7 L1840.9,1380.1 L1841.8,1380.8 L1841.8,1361.7 L1842.4,1360.2 L1842.4,1377.0 L1843.0,1377.1 L1843.0,1358.0 L1843.8,1358.2 L1843.8,1376.1 L1844.6,1375.5 L1844.6,1357.8 L1845.3,1357.9 L1845.4,1375.1 L1846.1,1375.6 L1846.1,1356.5 L1847.1,1357.5 L1847.1,1375.7 L1848.0,1375.0 L1848.0,1356.6 L1848.9,1359.6 L1848.9,1376.7 L1849.9,1378.3 L1849.9,1359.2 L1850.7,1362.6 L1850.7,1379.6 L1851.5,1380.1 L1851.5,1363.7 L1852.3,1364.2 L1852.4,1383.3 L1852.5,1384.8 L1852.5,1368.1 L1852.7,1369.7 L1852.7,1386.9 L1852.8,1390.7 L1852.9,1373.4 L1853.0,1375.6 L1853.0,1392.9 L1853.2,1394.3 L1853.2,1378.1 L1853.4,1379.2 L1853.4,1396.5 L1853.5,1400.0 L1853.5,1382.1 L1853.7,1384.9 L1853.7,1401.2 L1853.9,1405.7 L1853.9,1388.9 L1854.0,1389.1 L1854.1,1406.2 L1854.2,1410.7 L1854.2,1391.6 L1855.2,1391.9 L1855.2,1410.1 L1856.1,1409.4 L1856.1,1391.8 L1857.1,1393.9 L1857.1,1410.6 L1858.0,1409.9 L1858.0,1392.1 L1859.0,1392.6 L1859.0,1409.5 L1859.9,1408.7 L1859.9,1392.3 L1860.9,1391.6 L1860.9,1410.2 L1861.8,1409.5 L1861.8,1391.1 L1862.8,1391.7 L1862.8,1410.0 L1863.7,1410.2 L1863.7,1392.5 L1864.7,1392.1 L1864.7,1408.6 L1865.6,1409.9 L1865.6,1392.0 L1866.6,1392.1 L1866.6,1409.3 L1867.5,1408.6 L1867.5,1391.9 L1868.5,1392.6 L1868.5,1410.2 L1869.4,1408.9 L1869.4,1393.0 L1870.4,1391.6 L1870.4,1410.7 L1870.6,1406.5 L1870.6,1389.3 L1870.7,1387.2 L1870.7,1404.3 L1870.9,1401.9 L1870.9,1386.8 L1871.1,1383.4 L1871.1,1400.5 L1871.3,1399.4 L1871.3,1380.9 L1871.4,1379.0 L1871.5,1395.2 L1871.6,1393.9 L1871.6,1374.8 L1872.3,1374.4 L1872.3,1392.9 L1873.0,1391.9 L1873.0,1374.5 L1873.7,1373.6 L1873.8,1392.7 L1874.7,1393.3 L1874.7,1374.3 L1875.6,1375.5 L1875.7,1395.3 L1876.6,1376.8" stroke="#0479c0" stroke-width="4.6"/>
</g>
<g text-anchor="end" style="letter-spacing:-1px">
<text transform="translate(180.1,1399.0) scale(1,1.045)">0</text>
<text transform="translate(180.1,1066.8) scale(1,1.045)">10</text>
<text transform="translate(180.1,734.6) scale(1,1.045)">20</text>
<text transform="translate(180.1,402.4) scale(1,1.045)">30</text>
<text transform="translate(180.1,70.2) scale(1,1.045)">40</text>
</g>
<g text-anchor="middle">
<text transform="translate(225.9,1474.8) scale(1,1.045)" style="letter-spacing:-1px">0.0</text>
<text transform="translate(500.7,1474.8) scale(1,1.045)" style="letter-spacing:-1px">0.5</text>
<text transform="translate(775.4,1474.8) scale(1,1.045)" style="letter-spacing:-1px">1.0</text>
<text transform="translate(1050.2,1474.8) scale(1,1.045)" style="letter-spacing:-1px">1.5</text>
<text transform="translate(1325.0,1474.8) scale(1,1.045)" style="letter-spacing:-1px">2.0</text>
<text transform="translate(1599.7,1474.8) scale(1,1.045)" style="letter-spacing:-1px">2.5</text>
<text transform="translate(1874.5,1474.8) scale(1,1.045)" style="letter-spacing:-1px">3.0</text>
<text transform="translate(1052.0,1577.8) scale(1,1.030)" style="font-size:69.7px">Length (mm)</text>
<text transform="translate(70.6,712.4) rotate(-90) scale(1,1.030)" style="font-size:69.7px">Height (μm)</text>
</g>
<text transform="translate(481.4,1317.4) scale(1,1.030)" style="font-size:69.7px">Coating</text>
<text transform="translate(1309.5,1317.4) scale(1,1.030)" style="font-size:69.6px">Substrate</text>
<rect x="1272" y="125" width="522.3" height="195.7" fill="#000"/>
<rect x="1254" y="104.8" width="522.6" height="196.8" fill="#fff" stroke="#000" stroke-width="1.8"/>
<path d="M1272.9,161.6 H1428.6" stroke="#0479c0" stroke-width="4.6" stroke-linecap="round"/>
<path d="M1272.9,246.9 H1428.6" stroke="#ff1414" stroke-width="4.6" stroke-linecap="round"/>
<text transform="translate(1446.5,183.7) scale(1,1.010)" style="font-size:69.6px">CuO</text>
<text transform="translate(1446.5,268.5) scale(1,1.010)" style="font-size:69.6px">CuO + Cu</text>
</svg>
</body></html>
